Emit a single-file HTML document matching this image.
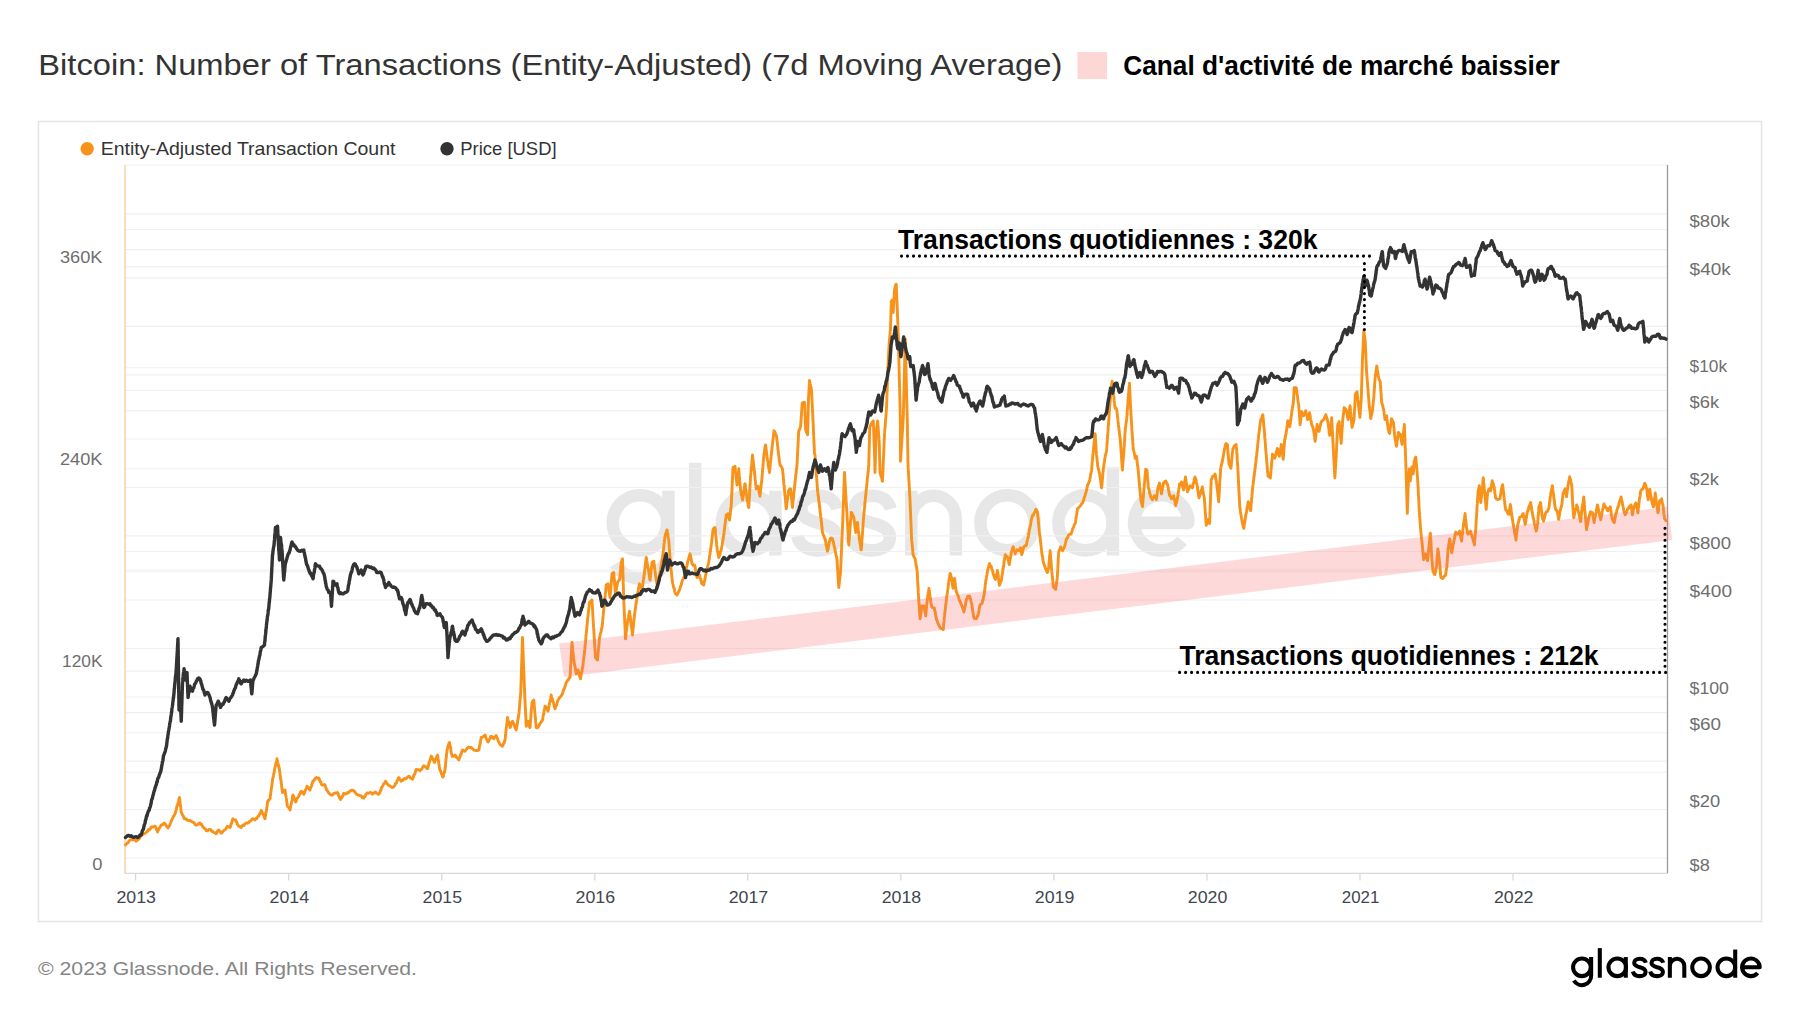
<!DOCTYPE html>
<html><head><meta charset="utf-8"><title>Bitcoin: Number of Transactions</title>
<style>
html,body{margin:0;padding:0;background:#fff;}
body{width:1800px;height:1013px;overflow:hidden;font-family:"Liberation Sans",sans-serif;}
svg{display:block;position:absolute;left:0;top:0;}
text{font-family:"Liberation Sans",sans-serif;}
</style></head><body>
<svg width="1800" height="1013" viewBox="0 0 1800 1013">
<rect width="1800" height="1013" fill="#fff"/>
<!-- title -->
<text x="38.3" y="75" font-size="30" fill="#333" textLength="1024" lengthAdjust="spacingAndGlyphs">Bitcoin: Number of Transactions (Entity-Adjusted) (7d Moving Average)</text>
<rect x="1077.5" y="52" width="29.6" height="27" fill="#fdd6d6"/>
<text x="1123.3" y="75.2" font-size="27.2" font-weight="bold" fill="#000" textLength="436.4" lengthAdjust="spacingAndGlyphs">Canal d'activité de marché baissier</text>
<!-- outer frame -->
<rect x="38.5" y="121.5" width="1723" height="800" fill="#fff" stroke="#e4e4e4" stroke-width="1.5"/>
<!-- legend -->
<circle cx="87.2" cy="148.8" r="6.7" fill="#f7931a"/>
<text x="100.7" y="155.4" font-size="18.4" fill="#333" textLength="294.8" lengthAdjust="spacingAndGlyphs">Entity-Adjusted Transaction Count</text>
<circle cx="447" cy="148.8" r="6.7" fill="#333"/>
<text x="460.3" y="155.4" font-size="18.4" fill="#333" textLength="96.3" lengthAdjust="spacingAndGlyphs">Price [USD]</text>
<!-- watermark -->
<g transform="translate(510.7 390.4) scale(0.4456 0.452)" stroke="#e7e7e7"><g fill="none" stroke-width="28" stroke-linecap="butt" stroke-linejoin="round">
<circle cx="290" cy="293" r="61"/><path d="M354 222 V350 A64 64 0 0 1 234.6 384"/>
<path d="M414 160 V365"/>
<circle cx="535" cy="293" r="61"/><path d="M594 222 V365"/>
<path d="M733 262 C728 243 712 233 690 233 C668 233 652 245 652 262 C652 280 668 287 690 293 C714 299 731 307 731 325 C731 343 714 354 690 354 C666 354 648 343 643 322"/>
<path transform="translate(120 0)" d="M733 262 C728 243 712 233 690 233 C668 233 652 245 652 262 C652 280 668 287 690 293 C714 299 731 307 731 325 C731 343 714 354 690 354 C666 354 648 343 643 322"/>
<path d="M899 365 V222 M899 285 A50 52 0 0 1 999 285 V365"/>
<circle cx="1115" cy="293" r="61"/>
<circle cx="1290" cy="293" r="61"/><path d="M1351.5 170 V365"/>
<path d="M1399 293 H1521 A61 61 0 1 0 1506.7 332.2"/>
</g></g>
<!-- grid -->
<g stroke="#f0f0f0" stroke-width="1.1">
<line x1="125" x2="1667.5" y1="165" y2="165"/>
<line x1="125" x2="1667.5" y1="213.9" y2="213.9"/>
<line x1="125" x2="1667.5" y1="229.5" y2="229.5"/>
<line x1="125" x2="1667.5" y1="249.6" y2="249.6"/>
<line x1="125" x2="1667.5" y1="266.6" y2="266.6"/>
<line x1="125" x2="1667.5" y1="277.9" y2="277.9"/>
<line x1="125" x2="1667.5" y1="326.4" y2="326.4"/>
<line x1="125" x2="1667.5" y1="367.7" y2="367.7"/>
<line x1="125" x2="1667.5" y1="374.9" y2="374.9"/>
<line x1="125" x2="1667.5" y1="390.5" y2="390.5"/>
<line x1="125" x2="1667.5" y1="410.6" y2="410.6"/>
<line x1="125" x2="1667.5" y1="439.0" y2="439.0"/>
<line x1="125" x2="1667.5" y1="468.8" y2="468.8"/>
<line x1="125" x2="1667.5" y1="487.5" y2="487.5"/>
<line x1="125" x2="1667.5" y1="535.9" y2="535.9"/>
<line x1="125" x2="1667.5" y1="551.5" y2="551.5"/>
<line x1="125" x2="1667.5" y1="570.0" y2="570.0"/>
<line x1="125" x2="1667.5" y1="571.7" y2="571.7"/>
<line x1="125" x2="1667.5" y1="600.0" y2="600.0"/>
<line x1="125" x2="1667.5" y1="648.5" y2="648.5"/>
<line x1="125" x2="1667.5" y1="671.1" y2="671.1"/>
<line x1="125" x2="1667.5" y1="697.0" y2="697.0"/>
<line x1="125" x2="1667.5" y1="712.6" y2="712.6"/>
<line x1="125" x2="1667.5" y1="732.7" y2="732.7"/>
<line x1="125" x2="1667.5" y1="761.1" y2="761.1"/>
<line x1="125" x2="1667.5" y1="772.2" y2="772.2"/>
<line x1="125" x2="1667.5" y1="809.5" y2="809.5"/>
<line x1="125" x2="1667.5" y1="858.0" y2="858.0"/>
</g>
<line x1="125" x2="1667.5" y1="873.3" y2="873.3" stroke="#d8d8d8" stroke-width="1.3"/>
<g stroke="#d8d8d8" stroke-width="1.2"><line x1="135.6" x2="135.6" y1="873.3" y2="880.5"/>
<line x1="288.6" x2="288.6" y1="873.3" y2="880.5"/>
<line x1="441.7" x2="441.7" y1="873.3" y2="880.5"/>
<line x1="594.8" x2="594.8" y1="873.3" y2="880.5"/>
<line x1="747.8" x2="747.8" y1="873.3" y2="880.5"/>
<line x1="900.9" x2="900.9" y1="873.3" y2="880.5"/>
<line x1="1053.9" x2="1053.9" y1="873.3" y2="880.5"/>
<line x1="1207.0" x2="1207.0" y1="873.3" y2="880.5"/>
<line x1="1360.0" x2="1360.0" y1="873.3" y2="880.5"/>
<line x1="1513.0" x2="1513.0" y1="873.3" y2="880.5"/></g>
<line x1="125" x2="125" y1="165" y2="873.3" stroke="#f9c892" stroke-width="1.25"/>
<line x1="1667.5" x2="1667.5" y1="165" y2="873.3" stroke="#9a9a9a" stroke-width="1.3"/>
<!-- axis labels -->
<g font-size="15.6" fill="#6e6e6e">
<text x="92.3" y="869.5" textLength="10.2" lengthAdjust="spacingAndGlyphs">0</text>
<text x="62.0" y="667.3" textLength="40.5" lengthAdjust="spacingAndGlyphs">120K</text>
<text x="60.0" y="465.0" textLength="42.5" lengthAdjust="spacingAndGlyphs">240K</text>
<text x="60.0" y="262.8" textLength="42.5" lengthAdjust="spacingAndGlyphs">360K</text>
<text x="1689.6" y="870.6" textLength="20.2" lengthAdjust="spacingAndGlyphs">$8</text>
<text x="1689.6" y="806.5" textLength="30.6" lengthAdjust="spacingAndGlyphs">$20</text>
<text x="1689.6" y="729.7" textLength="31.5" lengthAdjust="spacingAndGlyphs">$60</text>
<text x="1689.6" y="694.0" textLength="39.3" lengthAdjust="spacingAndGlyphs">$100</text>
<text x="1689.6" y="597.0" textLength="42.4" lengthAdjust="spacingAndGlyphs">$400</text>
<text x="1689.6" y="548.5" textLength="41.4" lengthAdjust="spacingAndGlyphs">$800</text>
<text x="1689.6" y="484.5" textLength="29.2" lengthAdjust="spacingAndGlyphs">$2k</text>
<text x="1689.6" y="407.6" textLength="29.6" lengthAdjust="spacingAndGlyphs">$6k</text>
<text x="1689.6" y="371.9" textLength="37.5" lengthAdjust="spacingAndGlyphs">$10k</text>
<text x="1689.6" y="274.9" textLength="41.1" lengthAdjust="spacingAndGlyphs">$40k</text>
<text x="1689.6" y="226.5" textLength="40.1" lengthAdjust="spacingAndGlyphs">$80k</text>
</g>
<g font-size="16" fill="#3f4650">
<text x="116.4" y="902.6" textLength="39.5" lengthAdjust="spacingAndGlyphs">2013</text>
<text x="269.5" y="902.6" textLength="39.5" lengthAdjust="spacingAndGlyphs">2014</text>
<text x="422.6" y="902.6" textLength="39.5" lengthAdjust="spacingAndGlyphs">2015</text>
<text x="575.6" y="902.6" textLength="39.5" lengthAdjust="spacingAndGlyphs">2016</text>
<text x="728.7" y="902.6" textLength="39.5" lengthAdjust="spacingAndGlyphs">2017</text>
<text x="881.7" y="902.6" textLength="39.5" lengthAdjust="spacingAndGlyphs">2018</text>
<text x="1034.8" y="902.6" textLength="39.5" lengthAdjust="spacingAndGlyphs">2019</text>
<text x="1187.8" y="902.6" textLength="39.5" lengthAdjust="spacingAndGlyphs">2020</text>
<text x="1341.8" y="902.6" textLength="37.5" lengthAdjust="spacingAndGlyphs">2021</text>
<text x="1493.9" y="902.6" textLength="39.5" lengthAdjust="spacingAndGlyphs">2022</text>
</g>
<!-- series -->
<path d="M125.5 845.0 L126.4 843.9 L127.3 843.1 L128.2 842.7 L129.1 840.9 L130.0 840.0 L131.2 839.8 L132.5 839.8 L133.8 839.5 L135.0 839.9 L136.2 841.2 L137.2 840.3 L138.1 839.6 L139.1 838.9 L140.0 837.5 L140.9 835.9 L141.9 835.3 L142.8 834.0 L143.8 833.8 L145.0 833.4 L146.2 832.4 L147.5 831.2 L148.4 829.5 L149.4 829.9 L150.3 828.8 L151.2 827.0 L152.5 827.0 L153.8 826.7 L155.0 826.2 L155.5 826.9 L156.0 827.8 L156.5 829.7 L157.0 830.1 L157.5 832.0 L158.1 830.3 L158.8 829.3 L159.4 827.7 L160.0 827.3 L160.6 826.1 L161.2 825.0 L162.3 824.9 L163.4 823.7 L164.5 823.0 L165.2 824.2 L165.9 825.0 L166.6 826.3 L167.3 826.9 L168.0 828.0 L168.5 826.5 L169.1 826.5 L169.6 825.4 L170.2 824.0 L170.7 822.7 L171.2 821.2 L171.8 819.9 L172.3 818.7 L172.9 817.7 L173.4 816.3 L173.9 816.3 L174.5 814.7 L175.0 813.8 L175.4 813.1 L175.7 811.1 L176.1 810.7 L176.4 809.3 L176.8 806.7 L177.1 805.8 L177.5 805.0 L177.8 804.4 L178.2 802.5 L178.5 802.0 L178.8 799.8 L179.2 798.1 L179.5 797.5 L179.6 798.9 L179.8 800.2 L179.9 800.6 L180.0 801.5 L180.2 803.0 L180.3 805.1 L180.4 806.0 L180.6 806.1 L180.7 807.5 L180.8 808.4 L181.0 809.5 L181.1 811.8 L181.2 812.5 L181.8 813.0 L182.3 814.7 L182.9 815.5 L183.4 816.2 L184.0 818.1 L184.5 818.8 L185.9 818.7 L187.3 820.1 L188.8 820.5 L190.0 820.4 L191.2 821.4 L192.5 822.0 L193.4 822.3 L194.4 823.1 L195.3 825.0 L196.2 825.0 L197.5 824.8 L198.8 823.4 L200.0 823.0 L200.8 824.5 L201.5 824.3 L202.2 825.5 L203.0 827.2 L203.8 827.5 L204.6 828.7 L205.4 828.9 L206.2 830.5 L207.5 830.9 L208.8 829.4 L210.0 829.5 L210.9 829.9 L211.9 831.4 L212.8 831.5 L213.8 832.5 L215.0 832.8 L216.2 833.8 L217.1 831.8 L217.9 830.6 L218.8 830.0 L219.6 831.2 L220.4 831.8 L221.2 833.2 L222.2 832.5 L223.1 831.2 L224.1 830.4 L225.0 829.5 L225.8 829.2 L226.7 827.3 L227.5 826.2 L228.8 827.0 L230.0 827.5 L230.4 827.0 L230.8 824.8 L231.1 823.7 L231.5 823.8 L231.9 822.5 L232.2 820.5 L232.6 819.3 L233.0 818.8 L234.2 819.8 L235.5 820.0 L236.0 821.7 L236.6 821.6 L237.1 823.8 L237.7 824.8 L238.2 825.4 L238.8 826.2 L240.0 826.7 L241.2 827.5 L242.2 825.9 L243.1 824.9 L244.1 825.4 L245.0 823.8 L246.2 822.9 L247.5 823.2 L248.8 822.5 L249.7 821.2 L250.6 821.1 L251.6 819.8 L252.5 818.8 L253.8 819.0 L255.0 820.0 L255.9 818.5 L256.9 818.5 L257.8 816.5 L258.8 816.2 L259.2 814.7 L259.8 814.0 L260.2 813.4 L260.8 811.8 L261.2 810.5 L261.8 811.3 L262.3 813.5 L262.9 813.6 L263.4 814.4 L263.9 816.0 L264.5 817.5 L265.0 818.8 L265.2 816.9 L265.4 816.0 L265.6 815.1 L265.8 814.3 L265.9 812.5 L266.1 811.7 L266.3 811.4 L266.5 810.4 L266.7 808.7 L266.9 807.6 L267.1 806.3 L267.2 804.5 L267.4 803.2 L267.6 802.0 L267.8 802.3 L268.0 800.5 L269.0 799.9 L270.0 798.8 L270.2 798.3 L270.3 795.6 L270.5 795.5 L270.6 794.0 L270.8 793.3 L270.9 791.4 L271.1 791.3 L271.2 788.7 L271.4 788.3 L271.6 787.4 L271.7 786.5 L271.9 785.1 L272.0 783.8 L272.2 782.8 L272.3 781.8 L272.5 780.0 L272.7 778.6 L273.0 778.0 L273.2 777.2 L273.4 776.0 L273.6 774.2 L273.9 773.6 L274.1 772.6 L274.3 771.0 L274.5 770.0 L274.8 768.4 L275.0 767.5 L275.3 766.4 L275.6 765.2 L275.9 763.1 L276.1 762.7 L276.4 762.0 L276.7 760.6 L277.0 758.8 L277.2 760.2 L277.5 760.8 L277.8 762.5 L278.0 763.4 L278.2 764.3 L278.5 766.0 L278.8 766.0 L279.0 768.2 L279.2 768.1 L279.5 770.0 L279.7 771.3 L279.8 772.3 L280.0 773.1 L280.1 775.1 L280.3 775.9 L280.4 777.3 L280.6 779.0 L280.8 779.1 L280.9 779.9 L281.1 781.5 L281.2 783.3 L281.4 783.7 L281.6 784.9 L281.7 787.2 L281.9 788.0 L282.0 788.9 L282.2 790.8 L282.3 791.0 L282.5 792.5 L283.3 791.9 L284.2 790.4 L285.0 790.0 L285.2 791.1 L285.4 792.8 L285.5 794.1 L285.7 795.3 L285.9 795.6 L286.1 797.1 L286.2 797.8 L286.4 798.7 L286.6 800.4 L286.8 802.1 L287.0 803.3 L287.1 804.3 L287.3 805.8 L287.5 806.2 L288.3 807.1 L289.2 808.2 L290.0 810.0 L290.2 808.8 L290.5 807.3 L290.7 806.1 L290.9 805.2 L291.2 804.4 L291.4 803.1 L291.6 801.6 L291.8 801.3 L292.1 800.4 L292.3 798.4 L292.5 796.6 L292.8 795.4 L293.0 795.0 L293.4 796.8 L293.8 796.6 L294.2 798.8 L294.7 799.8 L295.1 800.5 L295.5 802.0 L296.1 801.3 L296.8 798.9 L297.4 798.0 L298.1 797.3 L298.8 796.2 L299.4 794.2 L300.0 794.3 L300.6 792.1 L301.2 791.2 L302.1 791.7 L302.9 792.5 L303.8 794.2 L304.2 793.3 L304.7 791.9 L305.1 791.0 L305.6 789.9 L306.1 789.0 L306.5 788.1 L307.0 786.2 L307.8 787.5 L308.5 787.6 L309.2 789.0 L310.0 790.0 L310.4 788.4 L310.8 787.0 L311.1 786.7 L311.5 786.0 L311.9 784.0 L312.2 783.1 L312.6 782.1 L313.0 781.2 L313.8 780.6 L314.6 779.4 L315.4 778.6 L316.2 777.5 L317.5 778.2 L318.8 778.0 L319.3 779.0 L319.8 780.8 L320.4 782.1 L320.9 782.0 L321.5 784.5 L322.0 785.0 L323.2 785.1 L324.5 784.5 L325.0 785.0 L325.5 786.7 L326.0 788.1 L326.5 789.7 L327.0 789.9 L327.5 791.2 L328.4 792.3 L329.4 793.7 L330.3 794.5 L331.2 795.0 L332.5 795.0 L333.8 793.6 L335.0 793.0 L336.2 793.0 L337.5 792.5 L338.0 793.2 L338.5 795.2 L339.0 796.5 L339.5 797.4 L340.0 798.7 L340.5 799.5 L341.0 798.0 L341.6 798.1 L342.1 797.1 L342.7 796.1 L343.2 794.4 L343.8 793.2 L345.0 794.0 L346.2 793.8 L347.2 792.7 L348.1 792.9 L349.1 792.1 L350.0 790.8 L351.2 790.5 L352.5 790.1 L353.8 790.8 L354.6 791.6 L355.4 792.7 L356.2 794.0 L357.0 794.5 L358.5 795.1 L360.0 795.8 L361.2 795.8 L362.5 797.9 L363.8 798.2 L364.4 796.5 L365.1 796.6 L365.7 794.6 L366.4 793.8 L367.0 793.0 L368.5 793.2 L370.0 792.5 L371.2 792.8 L372.5 794.2 L373.5 792.9 L374.5 792.8 L375.5 792.0 L376.6 793.1 L377.7 794.0 L378.8 794.2 L379.3 793.4 L379.8 792.7 L380.4 790.8 L380.9 790.4 L381.4 787.9 L382.0 786.9 L382.5 786.2 L383.1 785.3 L383.7 783.9 L384.3 783.6 L384.9 782.5 L385.5 781.2 L386.3 782.3 L387.1 783.9 L387.9 784.5 L388.8 785.5 L389.8 785.9 L390.9 786.6 L392.0 787.5 L393.0 787.2 L394.0 786.5 L395.0 785.0 L395.5 783.5 L396.1 783.4 L396.6 782.5 L397.1 780.8 L397.7 779.8 L398.2 778.1 L398.8 777.5 L399.6 778.8 L400.4 780.0 L401.2 781.2 L402.5 780.6 L403.8 778.8 L405.0 778.8 L406.2 778.7 L407.5 777.1 L408.8 776.2 L409.7 776.8 L410.6 778.2 L411.6 778.6 L412.5 779.2 L412.9 778.2 L413.3 777.4 L413.8 775.3 L414.2 775.0 L414.6 773.7 L415.0 773.5 L415.4 772.3 L415.8 770.2 L416.2 769.5 L417.5 769.9 L418.8 769.7 L420.0 770.8 L420.8 769.6 L421.5 769.3 L422.2 768.4 L423.0 766.7 L423.8 765.8 L424.7 766.2 L425.6 766.8 L426.6 768.2 L427.5 768.8 L427.8 768.3 L428.2 765.9 L428.5 765.8 L428.9 763.4 L429.2 762.6 L429.5 761.5 L429.9 761.1 L430.2 759.4 L430.6 758.3 L430.9 757.6 L431.2 756.2 L431.8 756.7 L432.3 758.7 L432.9 758.8 L433.4 760.4 L434.0 761.1 L434.5 762.5 L434.9 760.9 L435.4 760.4 L435.8 759.2 L436.2 758.0 L436.6 757.0 L437.1 756.1 L437.5 755.0 L437.7 755.6 L437.9 756.8 L438.1 758.7 L438.3 759.8 L438.5 760.8 L438.7 762.5 L438.8 763.3 L439.0 764.8 L439.2 765.0 L439.4 766.9 L439.6 768.2 L439.8 769.5 L440.0 770.0 L440.5 770.9 L441.0 772.0 L441.5 774.2 L442.0 774.2 L442.5 776.6 L443.0 777.0 L443.3 776.5 L443.7 774.1 L444.0 773.1 L444.3 772.7 L444.7 770.8 L445.0 770.0 L445.1 768.2 L445.2 768.1 L445.4 766.4 L445.5 765.7 L445.6 763.6 L445.7 762.8 L445.8 762.0 L445.9 759.9 L446.1 759.0 L446.2 758.5 L446.3 757.6 L446.4 756.6 L446.5 754.2 L446.6 753.5 L446.8 752.7 L446.9 751.2 L447.0 750.0 L447.4 749.0 L447.8 747.0 L448.2 745.6 L448.7 744.4 L449.1 743.0 L449.5 742.5 L449.7 743.7 L449.9 744.8 L450.1 746.0 L450.3 746.5 L450.5 747.7 L450.8 748.9 L451.0 751.1 L451.2 752.5 L451.4 753.5 L451.6 753.3 L451.8 754.4 L452.0 756.2 L453.5 756.3 L455.0 755.0 L455.8 755.9 L456.5 757.4 L457.2 757.7 L458.0 758.9 L458.8 760.0 L459.2 758.9 L459.6 757.7 L460.0 756.8 L460.4 754.8 L460.8 754.8 L461.2 753.9 L461.7 751.7 L462.1 751.0 L462.5 750.0 L463.8 751.0 L465.0 751.2 L465.9 750.0 L466.9 748.6 L467.8 747.5 L468.8 747.0 L470.0 747.6 L471.2 747.4 L472.5 748.8 L473.8 750.0 L475.0 750.4 L476.2 750.5 L477.5 750.6 L478.8 750.0 L479.0 749.4 L479.2 747.9 L479.4 746.4 L479.7 745.6 L479.9 744.3 L480.1 744.0 L480.3 742.5 L480.6 740.5 L480.8 740.4 L481.0 739.0 L481.2 737.5 L482.5 737.1 L483.8 736.3 L485.0 735.0 L485.5 736.0 L486.0 738.0 L486.5 739.1 L487.0 740.0 L487.5 741.3 L488.0 742.0 L488.6 741.3 L489.3 739.5 L489.9 738.9 L490.6 736.7 L491.2 736.2 L492.1 736.8 L492.9 737.9 L493.8 738.8 L494.6 736.9 L495.4 736.4 L496.2 735.5 L496.7 736.9 L497.2 738.1 L497.6 738.6 L498.1 740.9 L498.6 741.7 L499.0 742.3 L499.5 743.8 L500.5 744.8 L501.5 745.5 L502.5 746.2 L503.0 745.1 L503.5 743.6 L504.0 743.3 L504.5 741.5 L505.0 740.0 L505.1 739.1 L505.3 738.0 L505.4 737.2 L505.5 734.5 L505.7 734.3 L505.8 733.3 L505.9 731.3 L506.1 730.4 L506.2 728.7 L506.3 727.7 L506.4 726.8 L506.6 725.2 L506.7 724.2 L506.8 724.0 L507.0 722.3 L507.1 721.1 L507.2 720.6 L507.4 718.8 L507.5 717.5 L507.8 719.5 L508.1 720.2 L508.4 721.7 L508.8 721.8 L509.1 723.9 L509.4 725.4 L509.7 725.5 L510.0 727.5 L510.5 726.9 L511.0 724.5 L511.5 723.7 L512.0 722.0 L512.5 721.2 L513.0 722.3 L513.4 723.6 L513.9 723.8 L514.4 726.3 L514.8 726.6 L515.3 727.9 L515.8 729.1 L516.2 730.0 L516.4 728.6 L516.6 727.3 L516.8 726.8 L517.0 725.5 L517.2 723.9 L517.4 723.4 L517.6 721.6 L517.8 720.0 L518.0 719.2 L518.2 717.7 L518.4 716.8 L518.6 716.6 L518.8 715.0 L518.9 713.7 L519.0 713.2 L519.1 711.8 L519.2 709.7 L519.3 709.7 L519.4 708.5 L519.5 706.1 L519.6 706.1 L519.7 704.2 L519.8 703.1 L519.9 702.6 L520.0 700.4 L520.1 699.6 L520.2 699.0 L520.3 697.5 L520.4 696.0 L520.5 695.5 L520.6 694.1 L520.8 692.5 L520.8 691.4 L520.8 689.8 L520.9 689.1 L520.9 687.8 L520.9 686.4 L521.0 685.1 L521.0 684.3 L521.0 682.8 L521.1 681.9 L521.1 680.9 L521.2 679.6 L521.2 678.3 L521.2 677.4 L521.3 676.0 L521.3 675.2 L521.3 673.8 L521.4 673.0 L521.4 671.8 L521.5 670.5 L521.5 668.9 L521.5 667.6 L521.6 667.1 L521.6 665.8 L521.6 664.5 L521.7 663.1 L521.7 661.9 L521.8 661.1 L521.8 659.8 L521.8 658.6 L521.9 657.5 L521.9 656.4 L521.9 654.8 L522.0 653.7 L522.0 653.1 L522.1 651.9 L522.1 650.7 L522.1 648.8 L522.2 647.7 L522.2 646.7 L522.2 645.6 L522.3 644.6 L522.3 643.0 L522.4 642.2 L522.4 640.6 L522.4 639.5 L522.5 638.8 L522.5 637.5 L522.5 638.7 L522.6 640.0 L522.6 640.9 L522.7 642.1 L522.7 643.1 L522.8 644.4 L522.8 645.9 L522.9 647.1 L522.9 647.6 L522.9 648.8 L523.0 650.6 L523.0 651.6 L523.1 652.9 L523.1 653.6 L523.2 654.9 L523.2 655.9 L523.3 657.6 L523.3 658.4 L523.3 659.8 L523.4 661.3 L523.4 661.8 L523.5 663.2 L523.5 664.6 L523.6 665.9 L523.6 666.6 L523.7 667.7 L523.7 668.6 L523.7 670.5 L523.8 670.9 L523.8 672.1 L523.9 673.7 L523.9 674.8 L524.0 676.2 L524.0 677.0 L524.1 678.6 L524.1 679.1 L524.1 680.4 L524.2 682.0 L524.2 682.6 L524.3 684.0 L524.3 685.5 L524.4 686.7 L524.4 687.5 L524.5 688.5 L524.5 690.0 L524.6 691.0 L524.6 692.6 L524.7 693.4 L524.7 694.3 L524.8 696.1 L524.8 697.1 L524.9 698.6 L525.0 699.8 L525.0 700.9 L525.1 701.6 L525.1 703.2 L525.2 703.8 L525.2 705.0 L525.3 706.3 L525.3 708.0 L525.4 709.1 L525.5 709.6 L525.5 710.9 L525.6 712.1 L525.6 713.3 L525.7 714.5 L525.7 715.6 L525.8 716.6 L525.9 718.1 L525.9 719.5 L526.0 720.4 L526.0 721.9 L526.1 722.8 L526.1 723.6 L526.2 725.3 L526.2 726.2 L526.7 725.6 L527.1 723.4 L527.6 721.7 L528.0 721.2 L528.4 722.5 L528.8 723.8 L529.2 725.1 L529.6 727.0 L530.0 727.5 L530.1 726.5 L530.2 725.5 L530.3 723.4 L530.4 722.8 L530.5 721.9 L530.6 719.8 L530.7 718.6 L530.8 718.3 L530.9 717.3 L531.0 715.1 L531.0 714.6 L531.1 712.8 L531.2 712.3 L531.3 711.0 L531.4 709.3 L531.5 708.1 L531.6 707.6 L531.7 706.1 L531.8 705.2 L531.9 703.6 L532.0 702.5 L532.9 701.0 L533.8 700.0 L533.9 701.8 L534.0 702.5 L534.1 703.4 L534.2 704.6 L534.3 706.0 L534.4 707.2 L534.5 708.6 L534.6 709.0 L534.7 710.8 L534.8 711.7 L534.9 713.1 L535.0 714.2 L535.1 715.3 L535.2 716.6 L535.3 717.8 L535.4 718.5 L535.5 719.5 L535.6 720.9 L535.7 722.2 L535.8 722.8 L535.9 724.0 L536.0 724.7 L536.1 726.7 L536.2 727.5 L537.5 727.7 L538.8 726.2 L539.4 725.0 L540.0 723.6 L540.6 722.7 L541.2 722.0 L541.9 720.7 L542.5 720.0 L542.7 719.6 L542.9 717.0 L543.1 716.3 L543.3 714.8 L543.5 714.5 L543.8 713.6 L544.0 711.5 L544.2 710.1 L544.4 709.6 L544.6 708.7 L544.8 708.1 L545.0 706.2 L545.6 706.5 L546.2 707.6 L546.8 708.7 L547.4 709.8 L548.0 711.2 L548.2 709.7 L548.5 709.3 L548.7 707.9 L548.9 706.2 L549.2 704.9 L549.4 703.9 L549.6 702.6 L549.9 702.4 L550.1 700.5 L550.3 699.7 L550.6 699.0 L550.8 697.3 L551.0 695.8 L551.2 695.0 L551.6 696.8 L551.9 698.0 L552.2 698.2 L552.5 699.7 L552.8 701.5 L553.1 701.8 L553.4 702.6 L553.8 703.4 L554.1 706.0 L554.4 706.9 L554.7 707.4 L555.0 708.8 L555.4 707.7 L555.8 706.6 L556.2 705.1 L556.7 705.1 L557.1 703.4 L557.5 701.7 L557.9 700.2 L558.3 699.8 L558.8 698.8 L559.5 697.5 L560.2 697.2 L561.0 696.1 L561.8 694.9 L562.5 693.8 L562.9 692.1 L563.2 691.0 L563.6 690.1 L564.0 688.9 L564.4 688.7 L564.8 687.0 L565.1 686.1 L565.5 685.5 L565.9 683.3 L566.2 682.5 L567.0 681.6 L567.8 679.9 L568.5 679.9 L569.2 677.7 L570.0 677.5 L570.1 676.7 L570.1 675.5 L570.2 674.3 L570.3 672.4 L570.3 671.4 L570.4 670.7 L570.5 668.9 L570.5 668.1 L570.6 667.0 L570.7 666.3 L570.7 664.8 L570.8 663.9 L570.9 662.1 L570.9 661.5 L571.0 659.9 L571.1 659.3 L571.1 657.2 L571.2 656.9 L571.3 655.0 L571.3 654.2 L571.4 653.0 L571.5 651.5 L571.5 651.0 L571.6 649.3 L571.7 648.1 L571.7 646.7 L571.8 645.8 L571.9 644.8 L571.9 643.9 L572.0 642.5 L572.1 643.5 L572.2 645.1 L572.4 645.4 L572.5 647.0 L572.6 648.3 L572.7 650.2 L572.8 651.1 L572.9 652.1 L573.0 652.3 L573.2 654.0 L573.3 655.6 L573.4 656.1 L573.5 657.8 L573.6 658.8 L573.8 660.0 L574.0 660.4 L574.2 663.1 L574.4 663.9 L574.6 664.1 L574.8 665.9 L575.0 666.5 L575.2 667.8 L575.4 669.2 L575.6 670.0 L575.8 671.2 L576.0 672.4 L576.2 673.8 L576.8 672.8 L577.4 670.9 L578.0 670.0 L578.4 670.8 L578.7 672.9 L579.1 673.5 L579.4 675.7 L579.8 676.4 L580.1 677.9 L580.5 678.8 L580.7 677.3 L580.9 677.0 L581.1 674.7 L581.3 673.6 L581.5 672.4 L581.8 672.2 L582.0 671.1 L582.2 669.1 L582.4 668.3 L582.6 667.8 L582.8 666.3 L583.0 665.0 L583.1 663.2 L583.3 662.2 L583.4 661.0 L583.5 659.8 L583.7 659.0 L583.8 657.3 L583.9 657.5 L584.1 655.6 L584.2 654.5 L584.3 653.6 L584.5 652.6 L584.6 651.5 L584.7 649.7 L584.9 648.4 L585.0 647.5 L585.1 646.2 L585.2 644.5 L585.3 643.9 L585.4 643.2 L585.5 642.4 L585.6 641.0 L585.7 639.7 L585.8 638.5 L585.9 636.5 L586.0 635.8 L586.1 634.7 L586.2 634.0 L586.4 632.1 L586.5 631.3 L586.6 630.3 L586.7 629.6 L586.8 628.5 L586.9 627.0 L587.0 625.3 L587.1 624.9 L587.2 624.0 L587.3 622.4 L587.4 620.9 L587.5 620.0 L587.6 618.8 L587.8 617.1 L587.9 616.8 L588.0 616.1 L588.2 614.2 L588.3 613.3 L588.4 612.4 L588.6 610.2 L588.7 610.2 L588.8 608.5 L589.0 606.7 L589.1 605.4 L589.2 604.4 L589.4 603.8 L589.5 602.5 L590.3 602.0 L591.2 600.6 L592.0 600.0 L592.1 601.6 L592.1 602.2 L592.2 603.4 L592.3 604.2 L592.3 606.3 L592.4 606.5 L592.5 608.5 L592.5 609.3 L592.6 610.5 L592.7 611.6 L592.7 612.4 L592.8 614.3 L592.9 615.5 L592.9 616.5 L593.0 617.4 L593.1 618.1 L593.1 620.0 L593.2 620.5 L593.3 622.4 L593.3 622.8 L593.4 624.3 L593.5 625.7 L593.5 626.2 L593.6 627.7 L593.7 628.4 L593.8 630.0 L593.8 630.7 L593.9 632.0 L594.0 634.1 L594.1 635.3 L594.1 636.2 L594.2 637.0 L594.3 638.6 L594.4 639.8 L594.4 640.6 L594.5 642.1 L594.6 643.5 L594.7 643.8 L594.7 645.2 L594.8 646.7 L594.9 647.5 L595.0 649.0 L595.0 650.4 L595.1 651.2 L595.2 652.7 L595.3 653.6 L595.3 655.2 L595.4 656.1 L595.5 657.5 L596.5 659.0 L597.5 660.0 L597.6 658.2 L597.7 657.9 L597.8 656.0 L597.9 655.9 L598.0 654.2 L598.1 652.9 L598.2 651.6 L598.3 650.7 L598.4 649.6 L598.6 648.5 L598.7 647.3 L598.8 645.8 L598.9 645.3 L599.0 643.9 L599.1 642.7 L599.2 640.9 L599.3 639.8 L599.4 638.8 L599.5 637.5 L599.8 636.9 L600.1 635.0 L600.4 633.8 L600.8 632.4 L601.1 631.9 L601.4 629.7 L601.7 628.0 L602.0 627.5 L602.1 626.6 L602.2 625.7 L602.4 624.3 L602.5 622.9 L602.6 621.9 L602.7 620.1 L602.8 619.3 L603.0 617.4 L603.1 616.2 L603.2 615.5 L603.3 614.4 L603.4 613.1 L603.5 611.4 L603.7 611.1 L603.8 609.7 L603.9 608.1 L604.0 607.0 L604.1 605.9 L604.3 604.5 L604.4 603.1 L604.5 602.5 L604.6 601.9 L604.7 600.8 L604.9 599.2 L605.0 598.4 L605.1 596.6 L605.2 595.9 L605.3 593.9 L605.4 593.5 L605.5 592.1 L605.7 591.4 L605.8 589.1 L605.9 588.9 L606.0 586.8 L606.1 586.2 L606.2 585.0 L608.0 583.8 L608.2 585.6 L608.3 585.2 L608.5 586.8 L608.7 588.0 L608.8 589.2 L609.0 589.9 L609.2 592.4 L609.3 593.4 L609.5 593.9 L609.7 595.0 L609.8 596.5 L610.0 597.5 L610.1 595.7 L610.2 594.5 L610.3 594.5 L610.4 592.5 L610.5 591.6 L610.6 590.9 L610.7 589.8 L610.8 588.0 L610.9 586.4 L611.0 585.4 L611.1 585.0 L611.2 583.8 L611.3 581.7 L611.4 581.3 L611.5 579.5 L611.6 578.5 L611.7 576.9 L611.8 576.6 L611.9 575.6 L612.0 573.8 L613.8 572.5 L613.8 573.3 L613.9 575.0 L614.0 575.7 L614.1 577.7 L614.2 577.9 L614.3 579.1 L614.4 581.1 L614.5 581.7 L614.6 583.7 L614.7 584.8 L614.8 585.8 L614.9 586.3 L614.9 588.1 L615.0 589.6 L615.1 590.2 L615.2 590.9 L615.3 592.3 L615.4 593.6 L615.5 595.0 L615.7 594.2 L615.9 592.2 L616.0 591.1 L616.2 590.0 L616.4 589.6 L616.6 588.6 L616.8 586.8 L617.0 586.2 L617.1 585.4 L617.3 583.8 L617.5 582.5 L618.5 580.8 L619.5 580.0 L619.6 578.5 L619.7 578.3 L619.9 576.7 L620.0 575.0 L620.1 574.4 L620.2 572.4 L620.3 572.5 L620.4 570.6 L620.5 569.5 L620.7 568.4 L620.8 566.5 L620.9 566.1 L621.0 564.5 L621.1 563.3 L621.2 562.5 L621.7 561.7 L622.1 559.3 L622.5 558.8 L622.5 559.7 L622.6 561.3 L622.6 562.1 L622.6 563.3 L622.7 564.7 L622.7 565.6 L622.8 567.3 L622.8 568.6 L622.8 569.0 L622.9 570.5 L622.9 571.9 L622.9 572.8 L623.0 574.4 L623.0 575.2 L623.0 576.2 L623.1 577.7 L623.1 578.9 L623.1 579.8 L623.2 581.3 L623.2 582.6 L623.2 583.5 L623.3 584.7 L623.3 586.1 L623.4 587.2 L623.4 588.2 L623.4 589.8 L623.5 590.3 L623.5 592.0 L623.5 592.6 L623.6 594.2 L623.6 595.1 L623.6 596.4 L623.7 597.9 L623.7 599.1 L623.8 600.0 L623.8 601.5 L623.9 602.1 L623.9 603.5 L624.0 604.4 L624.0 605.9 L624.1 607.0 L624.1 607.8 L624.2 609.5 L624.2 610.8 L624.3 611.8 L624.3 613.3 L624.4 613.8 L624.4 614.9 L624.5 616.0 L624.5 617.6 L624.6 618.7 L624.7 619.9 L624.7 620.9 L624.8 622.6 L624.8 623.1 L624.9 625.1 L624.9 625.9 L625.0 627.0 L625.0 628.5 L625.1 629.1 L625.1 630.2 L625.2 631.5 L625.2 632.4 L625.3 633.9 L625.3 635.3 L625.4 636.4 L625.4 637.3 L625.5 638.8 L625.6 637.7 L625.8 635.8 L625.9 635.8 L626.1 633.6 L626.2 632.6 L626.4 631.2 L626.5 630.9 L626.6 630.0 L626.8 628.8 L626.9 626.4 L627.1 625.8 L627.2 624.6 L627.4 623.2 L627.5 622.5 L627.7 622.0 L627.9 619.3 L628.2 618.7 L628.4 617.9 L628.6 617.0 L628.8 614.4 L629.1 613.7 L629.3 612.9 L629.5 611.2 L629.6 611.7 L629.8 613.1 L629.9 615.3 L630.1 615.3 L630.2 616.8 L630.4 617.8 L630.5 619.1 L630.7 619.7 L630.8 620.8 L631.0 623.5 L631.1 624.3 L631.2 625.0 L631.4 626.6 L631.6 627.1 L631.7 628.4 L631.9 630.1 L632.0 630.8 L632.2 632.4 L632.3 634.4 L632.5 635.0 L632.6 633.6 L632.7 632.4 L632.9 632.2 L633.0 630.5 L633.1 628.5 L633.2 627.8 L633.3 627.0 L633.4 625.0 L633.6 624.2 L633.7 623.5 L633.8 622.6 L633.9 621.0 L634.0 620.3 L634.1 618.5 L634.3 617.2 L634.4 616.7 L634.5 615.0 L634.7 613.6 L634.8 613.1 L635.0 611.0 L635.2 610.1 L635.3 608.7 L635.5 608.1 L635.7 606.3 L635.8 605.2 L636.0 604.0 L636.2 603.3 L636.3 601.9 L636.5 600.9 L636.7 600.6 L636.8 599.0 L637.0 597.5 L637.2 596.9 L637.4 594.7 L637.6 593.9 L637.8 592.2 L638.0 592.1 L638.2 590.4 L638.5 589.1 L638.7 587.6 L638.9 586.7 L639.1 585.7 L639.3 584.7 L639.5 583.8 L640.0 585.7 L640.5 586.6 L641.0 587.1 L641.5 588.5 L642.0 590.0 L642.2 588.3 L642.3 588.4 L642.5 586.3 L642.7 585.8 L642.8 584.5 L643.0 583.7 L643.2 581.1 L643.3 580.4 L643.5 579.3 L643.7 577.7 L643.8 577.8 L644.0 575.7 L644.2 575.3 L644.3 573.7 L644.5 572.5 L644.6 570.7 L644.8 570.0 L644.9 568.6 L645.0 567.2 L645.2 566.2 L645.3 565.7 L645.4 563.7 L645.6 563.0 L645.7 562.0 L645.8 561.0 L646.0 559.2 L646.1 559.0 L646.2 557.5 L646.5 558.4 L646.7 560.4 L646.9 561.5 L647.1 561.9 L647.3 563.3 L647.6 564.6 L647.8 566.6 L648.0 567.5 L648.2 568.5 L648.4 569.6 L648.5 571.5 L648.7 571.6 L648.9 572.8 L649.1 574.1 L649.3 575.0 L649.5 575.9 L649.6 577.0 L649.8 579.1 L650.0 580.0 L650.1 578.9 L650.3 578.1 L650.4 577.2 L650.5 575.0 L650.7 574.4 L650.8 573.6 L650.9 571.4 L651.1 571.0 L651.2 569.8 L651.3 569.0 L651.5 567.7 L651.6 565.6 L651.7 565.0 L651.9 563.0 L652.0 562.5 L653.8 561.2 L653.9 562.3 L654.0 563.4 L654.2 564.0 L654.3 565.6 L654.5 566.7 L654.6 568.1 L654.8 568.9 L654.9 569.9 L655.1 571.4 L655.2 572.7 L655.4 573.3 L655.5 575.0 L655.7 576.4 L655.9 576.9 L656.0 577.8 L656.2 579.3 L656.4 580.6 L656.6 581.3 L656.8 583.1 L657.0 584.4 L657.1 585.3 L657.3 586.7 L657.5 587.5 L657.7 585.6 L657.9 585.0 L658.1 583.8 L658.3 582.2 L658.5 581.6 L658.7 579.9 L658.8 579.4 L659.0 578.4 L659.2 577.1 L659.4 575.7 L659.6 574.4 L659.8 572.9 L660.0 572.5 L660.2 571.1 L660.4 570.8 L660.6 569.1 L660.8 567.5 L661.0 567.0 L661.2 565.1 L661.3 564.4 L661.5 563.5 L661.7 562.8 L661.9 560.7 L662.1 559.9 L662.3 559.4 L662.5 557.5 L662.6 556.7 L662.8 555.3 L662.9 554.1 L663.1 552.6 L663.2 551.5 L663.3 550.1 L663.5 549.8 L663.6 548.7 L663.8 546.7 L663.9 546.3 L664.0 543.8 L664.2 542.8 L664.3 542.2 L664.4 540.7 L664.6 539.6 L664.7 539.4 L664.9 536.9 L665.0 536.2 L665.4 534.5 L665.8 533.3 L666.2 532.8 L666.6 530.8 L667.0 530.0 L667.2 530.5 L667.4 532.6 L667.7 533.6 L667.9 534.6 L668.1 536.2 L668.3 537.7 L668.5 538.8 L668.8 540.0 L668.8 541.3 L668.9 542.5 L669.0 544.0 L669.1 545.3 L669.2 545.8 L669.2 547.0 L669.3 548.8 L669.4 549.3 L669.5 551.0 L669.6 552.1 L669.7 553.3 L669.8 554.8 L669.8 555.9 L669.9 556.3 L670.0 558.0 L670.1 559.0 L670.2 560.3 L670.2 561.3 L670.3 562.4 L670.4 564.1 L670.5 565.0 L670.6 566.2 L670.8 566.9 L670.9 568.1 L671.0 569.4 L671.2 570.3 L671.3 572.0 L671.4 572.6 L671.6 573.7 L671.7 574.8 L671.8 576.1 L672.0 578.1 L672.1 578.4 L672.2 580.1 L672.4 581.8 L672.5 582.5 L672.8 583.7 L673.1 584.5 L673.4 586.8 L673.8 588.1 L674.1 588.0 L674.4 589.6 L674.7 591.3 L675.0 592.5 L676.0 594.2 L677.0 595.0 L677.6 593.6 L678.2 592.8 L678.9 590.9 L679.5 590.0 L679.8 589.2 L680.2 587.5 L680.5 586.4 L680.8 586.0 L681.2 585.0 L681.5 583.9 L681.8 582.3 L682.2 581.0 L682.5 580.0 L683.1 579.1 L683.8 577.7 L684.4 576.8 L685.0 575.0 L685.2 574.3 L685.5 572.1 L685.7 571.4 L685.9 570.7 L686.1 568.9 L686.4 567.7 L686.6 566.3 L686.8 566.0 L687.0 565.5 L687.3 564.4 L687.5 562.5 L687.9 560.7 L688.2 560.3 L688.6 558.6 L688.9 557.7 L689.3 556.1 L689.6 555.7 L690.0 553.8 L690.2 555.8 L690.5 555.5 L690.8 557.8 L691.0 558.1 L691.2 559.3 L691.5 560.9 L691.8 562.9 L692.0 563.8 L693.2 565.2 L694.5 565.0 L694.7 565.5 L695.0 567.0 L695.2 567.7 L695.4 569.6 L695.6 570.7 L695.9 571.6 L696.1 572.6 L696.3 574.6 L696.5 575.8 L696.8 576.0 L697.0 577.5 L697.8 576.5 L698.7 576.0 L699.5 575.0 L699.9 576.7 L700.2 578.3 L700.6 578.6 L700.9 580.3 L701.3 581.3 L701.6 583.0 L702.0 583.8 L703.8 585.0 L704.0 583.3 L704.2 582.2 L704.4 581.0 L704.7 581.1 L704.9 578.9 L705.1 578.2 L705.3 576.4 L705.6 575.6 L705.8 574.0 L706.0 573.7 L706.2 572.5 L706.6 570.7 L706.9 570.2 L707.2 568.4 L707.5 567.1 L707.8 566.2 L708.1 564.8 L708.4 563.4 L708.8 562.5 L708.9 560.6 L709.1 559.5 L709.2 559.6 L709.4 557.5 L709.6 556.0 L709.8 555.0 L709.9 554.3 L710.1 554.0 L710.2 551.5 L710.4 551.4 L710.6 549.6 L710.8 548.4 L710.9 547.8 L711.1 546.0 L711.2 545.0 L711.4 543.2 L711.5 542.8 L711.7 541.8 L711.8 540.6 L711.9 538.9 L712.1 538.8 L712.2 537.5 L712.3 536.5 L712.5 534.5 L712.6 534.0 L712.7 532.7 L712.9 530.6 L713.0 530.0 L714.0 528.0 L715.0 527.5 L715.1 528.2 L715.2 529.3 L715.4 530.4 L715.5 532.0 L715.6 533.7 L715.7 534.3 L715.8 535.8 L715.9 536.2 L716.1 537.7 L716.2 539.9 L716.3 539.7 L716.4 541.7 L716.5 543.2 L716.6 544.4 L716.8 545.5 L716.9 546.2 L717.0 547.5 L717.2 549.2 L717.4 550.5 L717.7 551.7 L717.9 553.3 L718.1 553.1 L718.3 555.7 L718.5 556.1 L718.8 557.5 L719.2 556.6 L719.6 554.6 L720.0 554.4 L720.4 551.7 L720.8 551.4 L721.2 550.0 L721.4 548.4 L721.6 547.5 L721.8 546.3 L722.0 545.6 L722.2 544.7 L722.4 542.9 L722.6 542.1 L722.8 540.5 L723.0 539.3 L723.2 539.1 L723.4 537.0 L723.6 535.5 L723.8 535.0 L723.9 533.6 L724.0 533.0 L724.2 531.0 L724.3 530.7 L724.5 529.2 L724.6 528.2 L724.8 526.2 L724.9 525.0 L725.1 523.8 L725.2 523.0 L725.4 521.9 L725.5 520.1 L725.7 519.7 L725.8 518.4 L726.0 517.1 L726.1 516.2 L726.2 515.0 L728.0 513.8 L728.3 515.7 L728.6 515.8 L728.9 518.1 L729.2 518.5 L729.5 520.0 L729.6 519.2 L729.8 517.1 L729.9 517.3 L730.0 515.3 L730.2 515.0 L730.3 512.6 L730.4 511.8 L730.6 511.1 L730.7 509.1 L730.8 508.1 L731.0 507.6 L731.1 506.9 L731.2 505.0 L731.3 503.7 L731.4 502.3 L731.4 501.3 L731.5 500.8 L731.5 498.8 L731.6 498.1 L731.6 496.7 L731.7 495.8 L731.7 494.2 L731.8 493.4 L731.9 492.5 L731.9 491.3 L732.0 489.9 L732.0 488.6 L732.1 487.5 L732.1 485.9 L732.2 485.4 L732.2 484.1 L732.3 482.7 L732.3 481.7 L732.4 480.3 L732.5 479.1 L732.5 477.8 L732.6 477.0 L732.6 475.8 L732.7 474.5 L732.7 472.9 L732.8 472.3 L732.8 471.0 L732.9 469.9 L732.9 468.8 L733.0 467.5 L734.0 467.6 L735.0 466.2 L735.1 466.9 L735.2 468.5 L735.4 470.5 L735.5 471.3 L735.6 471.8 L735.8 473.6 L735.9 475.2 L736.0 475.5 L736.1 477.3 L736.2 477.4 L736.4 479.9 L736.5 480.3 L736.6 481.1 L736.8 483.2 L736.9 484.0 L737.0 485.0 L737.1 484.5 L737.2 483.2 L737.4 482.0 L737.5 480.4 L737.6 479.9 L737.8 477.4 L737.9 477.4 L738.0 476.0 L738.1 474.2 L738.2 473.9 L738.4 472.2 L738.5 471.1 L738.6 470.5 L738.8 468.8 L738.8 469.5 L738.9 470.8 L739.0 472.5 L739.1 472.9 L739.2 474.7 L739.3 476.2 L739.4 477.0 L739.5 477.9 L739.6 479.8 L739.7 481.0 L739.8 482.1 L739.9 483.0 L740.0 484.6 L740.1 485.7 L740.2 486.0 L740.3 487.5 L740.4 488.3 L740.5 490.0 L740.8 490.5 L741.0 492.3 L741.2 494.3 L741.5 495.5 L741.8 495.6 L742.0 497.0 L742.2 498.6 L742.5 500.0 L742.7 499.4 L742.9 497.9 L743.0 497.2 L743.2 494.7 L743.4 495.0 L743.6 492.6 L743.8 492.1 L743.9 491.3 L744.1 489.9 L744.3 487.9 L744.5 487.5 L744.6 486.0 L744.8 484.1 L745.0 483.8 L745.2 484.6 L745.3 485.8 L745.5 487.4 L745.6 488.0 L745.8 489.7 L745.9 491.0 L746.1 491.3 L746.2 492.4 L746.4 494.4 L746.5 495.2 L746.7 495.8 L746.8 497.0 L747.0 498.8 L747.2 500.7 L747.5 501.4 L747.8 502.3 L748.0 503.3 L748.2 505.8 L748.5 506.6 L748.8 507.5 L748.8 506.6 L748.9 505.0 L749.0 503.8 L749.0 502.8 L749.1 501.3 L749.2 500.7 L749.2 499.3 L749.3 498.6 L749.4 497.0 L749.4 495.9 L749.5 494.8 L749.6 494.1 L749.6 492.3 L749.7 491.6 L749.8 489.9 L749.8 489.1 L749.9 487.7 L750.0 487.1 L750.0 485.3 L750.1 484.8 L750.2 483.5 L750.2 482.1 L750.3 481.4 L750.4 479.7 L750.4 478.9 L750.5 477.5 L750.6 476.5 L750.7 475.1 L750.8 473.4 L750.9 472.7 L751.0 471.3 L751.1 470.3 L751.2 469.8 L751.3 467.7 L751.4 467.1 L751.6 465.9 L751.7 464.1 L751.8 463.2 L751.9 461.6 L752.0 461.5 L752.1 459.4 L752.2 458.4 L752.3 457.2 L752.4 456.6 L752.5 455.0 L752.6 456.7 L752.8 457.5 L752.9 458.6 L753.0 459.0 L753.2 461.4 L753.3 461.4 L753.4 463.0 L753.6 464.1 L753.7 465.8 L753.8 466.9 L754.0 467.6 L754.1 469.6 L754.2 470.9 L754.4 470.6 L754.5 472.5 L754.6 473.9 L754.8 474.8 L754.9 475.8 L755.0 477.1 L755.1 478.0 L755.2 479.7 L755.4 480.8 L755.5 482.5 L755.6 483.7 L755.8 484.8 L755.9 485.1 L756.0 486.9 L756.1 487.8 L756.2 488.8 L757.1 487.8 L758.0 486.2 L758.2 488.3 L758.5 488.1 L758.8 489.9 L759.0 491.1 L759.2 492.7 L759.5 493.3 L759.8 495.8 L760.0 496.2 L760.1 494.6 L760.2 493.7 L760.4 492.2 L760.5 491.4 L760.6 490.7 L760.8 488.6 L760.9 487.6 L761.0 487.1 L761.1 485.9 L761.2 484.9 L761.4 483.0 L761.5 482.6 L761.6 481.4 L761.8 480.3 L761.9 478.1 L762.0 477.5 L762.1 476.3 L762.2 474.5 L762.3 474.4 L762.4 473.4 L762.5 472.1 L762.6 469.8 L762.7 469.0 L762.8 468.1 L762.9 466.9 L763.0 465.2 L763.1 464.9 L763.2 463.1 L763.3 462.2 L763.4 460.5 L763.5 459.9 L763.6 458.1 L763.7 456.9 L763.8 456.2 L763.9 455.0 L764.1 453.4 L764.3 452.9 L764.5 450.8 L764.7 449.9 L764.9 448.0 L765.1 447.0 L765.3 446.2 L765.5 445.0 L765.7 446.2 L765.8 447.2 L766.0 449.0 L766.1 449.0 L766.3 451.3 L766.4 451.4 L766.6 453.8 L766.7 454.3 L766.9 455.2 L767.0 456.7 L767.2 458.3 L767.3 459.6 L767.5 460.0 L767.7 461.0 L767.9 461.5 L768.0 462.9 L768.2 465.1 L768.4 466.1 L768.6 467.2 L768.8 467.4 L769.0 469.1 L769.1 469.5 L769.3 470.7 L769.5 472.5 L769.6 471.0 L769.7 470.8 L769.9 469.2 L770.0 468.3 L770.1 466.0 L770.2 465.4 L770.3 463.7 L770.4 462.8 L770.5 461.4 L770.7 461.4 L770.8 459.4 L770.9 458.5 L771.0 457.6 L771.1 456.7 L771.2 455.0 L771.4 454.5 L771.5 452.8 L771.6 451.5 L771.8 451.0 L771.9 449.1 L772.0 447.8 L772.2 447.3 L772.3 445.4 L772.4 444.4 L772.6 443.3 L772.7 442.2 L772.8 440.9 L773.0 439.9 L773.1 438.7 L773.2 437.0 L773.4 437.0 L773.5 434.7 L773.6 434.2 L773.7 433.1 L773.9 431.7 L774.0 430.7 L774.5 431.5 L775.0 432.4 L775.6 434.1 L776.1 435.2 L776.6 436.6 L776.7 437.8 L776.8 438.5 L777.0 440.5 L777.1 441.2 L777.2 441.6 L777.4 443.4 L777.5 445.4 L777.6 445.1 L777.8 447.1 L777.9 448.9 L778.0 449.1 L778.2 450.6 L778.3 451.4 L778.4 452.5 L778.6 454.1 L778.7 455.2 L778.8 455.9 L779.0 457.4 L779.1 458.6 L779.3 459.9 L779.5 461.6 L779.6 461.7 L779.8 463.1 L780.0 465.0 L780.8 465.9 L781.7 467.1 L782.5 468.8 L782.6 470.3 L782.7 471.0 L782.8 472.8 L782.9 473.3 L783.1 474.4 L783.2 476.1 L783.3 476.4 L783.4 478.9 L783.5 479.8 L783.6 480.3 L783.7 481.5 L783.8 483.4 L783.9 484.5 L784.1 485.5 L784.2 485.8 L784.3 488.0 L784.4 488.2 L784.5 490.0 L784.6 491.3 L784.7 492.4 L784.8 494.1 L784.9 494.9 L785.0 495.2 L785.2 497.6 L785.3 498.6 L785.4 499.5 L785.5 499.9 L785.6 502.0 L785.7 502.8 L785.8 504.3 L785.9 505.9 L786.0 507.0 L786.1 507.0 L786.2 508.8 L786.4 508.0 L786.6 506.3 L786.7 505.6 L786.9 503.9 L787.0 502.8 L787.2 501.6 L787.3 499.9 L787.5 499.1 L787.7 498.6 L787.8 496.3 L788.0 495.2 L788.1 495.2 L788.3 493.8 L788.4 492.4 L788.6 490.6 L788.8 490.0 L790.5 488.8 L790.6 489.4 L790.8 490.8 L790.9 492.9 L791.0 493.5 L791.1 495.2 L791.2 495.4 L791.4 496.8 L791.5 498.2 L791.6 499.8 L791.8 499.9 L791.9 502.2 L792.0 502.8 L792.1 503.3 L792.2 505.1 L792.4 506.1 L792.5 507.5 L792.6 506.6 L792.7 505.7 L792.9 503.9 L793.0 503.0 L793.1 501.4 L793.2 500.8 L793.3 498.6 L793.5 498.3 L793.6 496.3 L793.7 495.7 L793.8 494.0 L793.9 493.0 L794.0 491.5 L794.2 490.6 L794.3 489.8 L794.4 488.5 L794.5 487.1 L794.6 486.2 L794.8 485.4 L794.9 483.5 L795.0 482.5 L795.1 481.5 L795.3 480.1 L795.4 479.7 L795.5 477.6 L795.7 477.0 L795.8 475.1 L795.9 474.0 L796.1 473.5 L796.2 472.1 L796.3 470.5 L796.5 469.0 L796.6 469.0 L796.7 467.1 L796.9 466.5 L797.0 465.0 L797.1 463.7 L797.1 462.7 L797.2 461.5 L797.2 460.7 L797.3 459.5 L797.4 457.8 L797.4 456.7 L797.5 455.2 L797.5 454.6 L797.6 452.7 L797.7 451.7 L797.7 451.1 L797.8 449.1 L797.8 448.6 L797.9 447.2 L798.0 446.0 L798.0 444.6 L798.1 443.2 L798.1 442.9 L798.2 441.5 L798.3 440.3 L798.3 438.4 L798.4 437.9 L798.4 436.2 L798.5 435.0 L798.6 434.1 L798.6 433.0 L798.7 431.7 L799.1 429.9 L799.5 429.8 L799.9 428.3 L800.3 427.6 L800.7 425.8 L800.7 425.1 L800.8 423.6 L800.9 422.0 L801.0 421.5 L801.1 420.1 L801.2 418.4 L801.2 417.9 L801.3 416.5 L801.4 414.8 L801.5 413.5 L801.6 412.1 L801.7 411.5 L801.7 410.0 L801.8 408.8 L801.9 407.6 L802.0 406.2 L802.1 405.5 L802.2 404.0 L802.2 403.1 L803.4 402.5 L804.6 402.5 L804.7 403.5 L804.7 404.9 L804.7 406.4 L804.8 406.9 L804.8 408.7 L804.9 409.9 L804.9 410.9 L805.0 412.0 L805.0 413.4 L805.0 414.4 L805.1 415.7 L805.1 417.1 L805.2 418.1 L805.2 418.9 L805.2 419.9 L805.3 421.8 L805.3 422.5 L805.4 424.1 L805.4 424.8 L805.5 426.1 L805.5 427.3 L805.5 428.8 L805.6 429.7 L806.1 431.7 L806.6 432.2 L807.1 433.5 L807.6 434.7 L807.6 433.4 L807.6 432.1 L807.7 431.5 L807.7 429.6 L807.7 429.1 L807.8 427.7 L807.8 426.1 L807.8 425.6 L807.9 423.7 L807.9 422.9 L807.9 421.4 L807.9 420.9 L808.0 419.2 L808.0 418.5 L808.0 416.6 L808.1 416.0 L808.1 414.3 L808.1 413.1 L808.2 412.4 L808.2 411.5 L808.2 410.1 L808.3 409.0 L808.3 407.8 L808.3 406.4 L808.4 404.9 L808.4 404.1 L808.4 402.6 L808.5 401.7 L808.5 400.4 L808.5 399.3 L808.5 398.2 L808.6 396.7 L808.7 396.0 L808.7 394.5 L808.8 393.4 L808.9 391.8 L808.9 391.0 L809.0 389.9 L809.1 389.2 L809.1 387.6 L809.2 385.9 L809.3 384.9 L809.3 383.8 L809.4 383.0 L809.5 382.0 L809.5 380.4 L809.8 382.4 L810.0 383.6 L810.3 384.8 L810.5 385.9 L810.8 387.3 L811.0 387.0 L811.3 389.0 L811.5 390.3 L811.6 391.5 L811.6 392.8 L811.7 393.8 L811.7 395.0 L811.8 396.5 L811.9 396.7 L811.9 398.3 L812.0 399.9 L812.0 400.1 L812.1 401.4 L812.1 403.3 L812.2 404.5 L812.3 404.7 L812.3 405.9 L812.4 407.9 L812.4 408.9 L812.5 409.9 L812.5 411.1 L812.6 412.4 L812.7 413.6 L812.7 413.9 L812.8 415.1 L812.8 417.0 L812.9 417.9 L812.9 419.5 L813.0 420.6 L813.0 421.4 L813.1 422.5 L813.2 423.7 L813.2 424.5 L813.3 426.4 L813.3 427.1 L813.4 428.6 L813.4 429.8 L813.5 430.8 L813.5 432.3 L813.6 433.2 L813.6 434.2 L813.7 436.0 L813.7 436.5 L813.8 437.7 L813.8 439.0 L813.9 440.4 L813.9 441.9 L814.0 442.6 L814.0 443.7 L814.1 445.3 L814.2 446.1 L814.2 447.5 L814.3 448.4 L814.3 450.2 L814.4 450.7 L814.4 452.0 L814.5 453.4 L815.0 455.0 L815.1 455.9 L815.2 457.1 L815.2 458.8 L815.3 459.9 L815.4 461.2 L815.5 462.0 L815.6 462.7 L815.7 464.6 L815.8 465.2 L815.8 466.3 L815.9 467.7 L816.0 469.6 L816.1 470.0 L816.2 471.2 L816.2 473.0 L816.3 474.3 L816.4 474.7 L816.5 475.6 L816.6 477.5 L816.7 478.7 L816.8 479.3 L816.8 481.0 L816.9 481.7 L817.0 482.7 L817.1 484.3 L817.2 485.6 L817.2 486.5 L817.3 488.0 L817.4 488.2 L817.5 490.0 L817.6 491.2 L817.8 492.2 L817.9 492.8 L818.1 495.4 L818.2 495.3 L818.4 496.6 L818.5 498.8 L818.7 500.1 L818.8 501.3 L819.0 501.5 L819.1 503.6 L819.3 503.5 L819.4 505.6 L819.6 507.2 L819.7 507.2 L819.9 508.2 L820.0 510.0 L820.1 511.5 L820.3 512.9 L820.4 513.9 L820.5 515.4 L820.7 515.9 L820.8 516.9 L820.9 517.7 L821.1 519.1 L821.2 521.3 L821.3 521.2 L821.4 522.5 L821.6 524.0 L821.7 524.7 L821.8 526.3 L822.0 527.3 L822.1 528.4 L822.2 530.2 L822.4 531.4 L822.5 532.5 L823.0 533.9 L823.5 535.4 L824.0 536.3 L824.5 538.2 L825.0 538.8 L825.2 539.2 L825.5 540.6 L825.7 541.5 L825.9 543.0 L826.1 544.8 L826.4 546.2 L826.6 546.7 L826.8 547.3 L827.0 548.7 L827.3 550.2 L827.5 551.2 L827.7 549.8 L828.0 549.4 L828.2 548.6 L828.4 546.6 L828.6 545.7 L828.9 545.0 L829.1 543.2 L829.3 541.7 L829.5 541.7 L829.8 540.7 L830.0 538.8 L831.2 538.0 L832.5 538.8 L832.8 540.3 L833.0 540.8 L833.2 541.4 L833.5 542.7 L833.8 543.9 L834.0 545.9 L834.2 546.2 L834.5 547.0 L834.8 548.4 L835.0 550.0 L835.2 551.7 L835.5 552.5 L835.8 554.0 L836.0 554.9 L836.2 555.7 L836.5 556.7 L836.8 558.4 L837.0 560.0 L837.1 560.7 L837.2 562.1 L837.2 563.7 L837.3 564.6 L837.4 565.9 L837.5 567.3 L837.5 568.2 L837.6 569.4 L837.7 571.2 L837.8 572.0 L837.8 573.1 L837.9 574.4 L838.0 575.5 L838.1 576.5 L838.1 578.4 L838.2 578.8 L838.3 580.8 L838.4 581.9 L838.4 583.2 L838.5 583.5 L838.6 585.1 L838.7 586.9 L838.8 587.5 L838.9 586.0 L839.0 584.7 L839.2 584.4 L839.3 582.5 L839.4 581.9 L839.6 580.0 L839.7 580.1 L839.8 577.9 L840.0 576.5 L840.1 576.3 L840.2 574.6 L840.4 573.7 L840.5 572.5 L840.6 571.3 L840.6 570.6 L840.7 569.1 L840.7 567.8 L840.8 566.2 L840.8 565.6 L840.9 564.2 L840.9 563.3 L841.0 562.2 L841.0 560.9 L841.1 559.4 L841.1 558.7 L841.2 557.5 L841.2 556.5 L841.3 555.6 L841.3 553.8 L841.4 552.8 L841.4 551.3 L841.5 550.9 L841.5 549.2 L841.6 548.6 L841.6 547.4 L841.7 545.7 L841.7 545.2 L841.8 543.7 L841.8 542.4 L841.9 541.4 L841.9 540.6 L842.0 539.0 L842.0 537.9 L842.1 536.5 L842.1 535.9 L842.2 534.4 L842.2 533.1 L842.3 531.8 L842.3 530.7 L842.4 530.1 L842.4 528.9 L842.5 527.5 L842.5 526.8 L842.6 525.5 L842.6 524.2 L842.7 523.1 L842.7 521.8 L842.8 520.8 L842.8 519.6 L842.8 517.8 L842.9 517.3 L842.9 515.6 L843.0 514.4 L843.0 513.8 L843.1 511.9 L843.1 511.1 L843.1 509.8 L843.2 509.0 L843.2 507.7 L843.3 506.8 L843.3 505.7 L843.4 504.2 L843.4 502.5 L843.4 501.9 L843.5 500.2 L843.5 499.8 L843.6 498.6 L843.6 496.9 L843.6 495.6 L843.7 494.9 L843.7 493.8 L843.8 492.8 L843.8 491.3 L843.9 489.7 L843.9 489.1 L843.9 487.3 L844.0 486.9 L844.0 485.6 L844.1 484.5 L844.1 483.4 L844.2 481.9 L844.2 481.1 L844.2 479.6 L844.3 478.3 L844.3 477.1 L844.4 475.9 L844.4 474.4 L844.5 473.4 L844.5 472.5 L844.6 474.0 L844.6 474.5 L844.7 476.1 L844.8 477.4 L844.8 478.5 L844.9 479.4 L845.0 480.4 L845.0 481.5 L845.1 482.5 L845.2 484.2 L845.2 485.4 L845.3 486.8 L845.4 487.3 L845.4 489.1 L845.5 490.3 L845.6 490.7 L845.6 492.6 L845.7 493.4 L845.8 494.9 L845.8 495.9 L845.9 496.5 L846.0 497.6 L846.0 499.1 L846.1 500.2 L846.2 500.8 L846.2 502.5 L846.3 504.0 L846.4 504.8 L846.5 505.9 L846.5 507.4 L846.6 508.0 L846.7 509.1 L846.7 510.6 L846.8 511.4 L846.9 512.6 L846.9 513.5 L847.0 514.6 L847.1 516.1 L847.1 517.5 L847.2 519.1 L847.3 519.9 L847.3 520.8 L847.4 521.9 L847.5 522.9 L847.5 524.3 L847.6 526.0 L847.7 526.2 L847.7 527.7 L847.8 529.1 L847.9 530.4 L847.9 531.3 L848.0 532.5 L848.1 534.0 L848.1 535.1 L848.2 535.5 L848.3 537.0 L848.3 538.7 L848.4 539.3 L848.5 540.1 L848.5 541.8 L848.6 542.2 L848.7 543.5 L848.8 545.0 L848.8 543.9 L848.9 542.4 L849.0 541.8 L849.1 540.6 L849.2 539.0 L849.3 538.4 L849.4 537.1 L849.5 536.0 L849.6 534.5 L849.6 533.3 L849.7 531.7 L849.8 531.0 L849.9 530.5 L850.0 529.2 L850.1 527.0 L850.2 525.9 L850.3 525.0 L850.4 524.3 L850.4 522.9 L850.5 521.3 L850.6 520.5 L850.7 519.6 L850.8 518.6 L850.9 517.0 L851.0 516.2 L851.1 515.0 L851.2 513.8 L851.2 512.5 L851.9 513.0 L852.5 515.3 L853.1 515.7 L853.8 517.5 L853.9 517.9 L854.1 519.8 L854.2 520.2 L854.4 521.4 L854.5 523.1 L854.7 524.4 L854.8 524.9 L855.0 527.5 L855.1 528.4 L855.3 529.0 L855.4 530.3 L855.6 531.1 L855.8 532.5 L856.0 532.0 L856.2 529.4 L856.4 528.4 L856.6 527.1 L856.8 526.8 L857.1 525.0 L857.3 523.6 L857.5 522.5 L857.6 523.5 L857.8 525.4 L857.9 525.6 L858.0 527.6 L858.2 528.7 L858.3 529.4 L858.4 530.5 L858.6 531.7 L858.7 532.9 L858.8 533.9 L859.0 535.5 L859.1 536.4 L859.2 537.4 L859.4 539.3 L859.5 540.0 L859.7 541.2 L859.9 542.5 L860.2 544.4 L860.4 544.9 L860.6 546.1 L860.8 548.1 L861.0 549.5 L861.2 550.0 L861.3 549.2 L861.4 547.5 L861.5 546.7 L861.6 545.6 L861.7 543.9 L861.8 543.3 L861.8 542.4 L861.9 540.9 L862.0 539.7 L862.1 538.3 L862.2 537.4 L862.2 535.7 L862.3 535.2 L862.4 533.7 L862.5 533.1 L862.6 531.1 L862.7 530.4 L862.8 528.4 L862.8 527.7 L862.9 527.0 L863.0 525.2 L863.1 524.5 L863.2 522.8 L863.2 521.9 L863.3 521.4 L863.4 519.3 L863.5 519.0 L863.6 516.8 L863.7 516.3 L863.8 515.0 L863.9 514.3 L864.0 513.1 L864.1 511.3 L864.2 510.4 L864.3 509.4 L864.5 508.2 L864.6 507.0 L864.7 505.6 L864.8 503.9 L864.9 503.4 L865.1 502.0 L865.2 500.8 L865.3 500.2 L865.4 497.8 L865.5 497.5 L865.7 495.7 L865.8 495.1 L865.9 494.2 L866.0 492.1 L866.1 491.3 L866.2 490.0 L866.4 488.9 L866.5 487.6 L866.6 486.0 L866.7 485.4 L866.8 484.6 L867.0 483.1 L867.1 481.4 L867.2 480.9 L867.3 479.2 L867.4 477.6 L867.6 477.1 L867.7 475.7 L867.8 474.6 L867.9 474.0 L868.0 472.2 L868.2 471.6 L868.3 469.6 L868.4 468.9 L868.5 466.8 L868.6 465.9 L868.8 465.0 L868.8 464.0 L868.8 462.8 L868.8 461.8 L868.9 460.2 L868.9 459.0 L868.9 457.9 L869.0 456.9 L869.0 455.3 L869.0 454.4 L869.1 453.5 L869.1 451.9 L869.1 450.9 L869.2 450.2 L869.2 449.1 L869.2 447.3 L869.2 446.1 L869.3 444.9 L869.3 443.7 L869.3 443.1 L869.4 441.9 L869.4 440.4 L869.4 439.4 L869.5 438.4 L869.5 436.7 L869.5 436.2 L869.6 435.0 L869.6 433.3 L869.6 432.6 L869.6 431.4 L869.7 430.0 L869.7 429.2 L869.7 427.8 L870.2 426.1 L870.7 425.3 L871.2 423.8 L871.7 422.8 L872.5 421.8 L873.3 420.9 L873.3 422.3 L873.4 423.3 L873.4 424.5 L873.5 426.0 L873.5 426.5 L873.6 427.7 L873.6 429.2 L873.6 430.0 L873.7 431.9 L873.7 432.5 L873.8 433.8 L873.8 434.9 L873.9 436.5 L873.9 437.7 L874.0 438.7 L874.0 439.4 L874.0 440.7 L874.1 442.2 L874.1 443.0 L874.2 444.8 L874.2 445.9 L874.3 446.5 L874.3 447.8 L874.4 448.9 L874.4 450.5 L874.4 451.1 L874.5 452.8 L874.5 453.4 L874.6 455.3 L874.6 456.2 L874.7 457.4 L874.7 458.6 L874.7 459.4 L874.7 460.5 L874.8 461.9 L874.8 463.6 L874.8 464.4 L874.8 465.8 L874.9 466.3 L874.9 467.5 L874.9 468.6 L874.9 470.3 L875.0 471.1 L875.0 472.5 L875.0 471.1 L875.1 470.3 L875.1 469.1 L875.1 467.7 L875.2 466.6 L875.2 465.3 L875.2 464.3 L875.3 463.0 L875.3 461.8 L875.3 460.5 L875.4 459.4 L875.4 458.2 L875.4 456.8 L875.4 455.9 L875.5 454.9 L875.5 453.5 L875.5 452.2 L875.6 451.6 L875.6 450.1 L875.6 449.0 L875.7 447.6 L875.7 446.9 L875.7 445.7 L875.8 444.4 L875.8 443.2 L875.8 442.1 L875.9 440.7 L875.9 439.5 L875.9 438.3 L876.0 437.2 L876.0 436.0 L876.0 434.9 L876.0 433.7 L876.2 432.6 L876.3 431.8 L876.5 430.8 L876.6 428.6 L876.8 427.1 L876.9 426.4 L877.1 424.8 L877.2 424.8 L877.3 423.4 L877.5 421.7 L877.6 420.9 L877.7 421.6 L877.8 423.6 L877.9 424.7 L878.0 425.7 L878.1 426.9 L878.2 428.1 L878.2 428.9 L878.3 429.9 L878.4 431.3 L878.5 432.8 L878.6 434.1 L878.7 435.2 L878.8 436.2 L878.9 436.4 L878.9 437.8 L879.0 439.9 L879.1 440.5 L879.2 441.6 L879.2 442.8 L879.3 443.8 L879.3 445.4 L879.3 446.4 L879.4 447.9 L879.4 448.4 L879.4 450.3 L879.5 450.7 L879.5 452.0 L879.5 453.4 L879.5 454.8 L879.6 455.5 L879.6 457.1 L879.6 458.6 L879.7 459.4 L879.7 460.8 L879.7 461.9 L879.8 463.1 L879.8 463.9 L879.8 465.3 L879.8 466.9 L879.9 467.9 L879.9 468.7 L879.9 470.1 L880.0 471.3 L880.0 472.5 L880.4 473.5 L880.7 475.1 L881.1 476.5 L881.4 476.7 L881.8 478.3 L882.1 480.3 L882.5 481.2 L882.5 479.8 L882.6 478.5 L882.6 478.0 L882.7 476.5 L882.7 475.9 L882.8 474.3 L882.8 472.7 L882.9 472.1 L882.9 470.6 L883.0 469.9 L883.0 468.7 L883.1 467.6 L883.1 465.7 L883.2 464.6 L883.2 464.1 L883.3 462.3 L883.3 461.2 L883.4 459.9 L883.4 458.9 L883.5 458.0 L883.5 457.3 L883.6 455.6 L883.6 454.3 L883.7 453.7 L883.7 451.9 L883.8 451.2 L883.8 450.0 L883.9 449.2 L883.9 447.2 L884.0 446.5 L884.0 445.2 L884.1 444.4 L884.1 442.7 L884.2 442.0 L884.2 440.3 L884.3 439.5 L884.3 438.8 L884.4 436.9 L884.4 435.8 L884.5 435.2 L884.5 433.7 L884.6 432.7 L884.7 430.8 L884.8 429.8 L884.9 428.7 L885.0 427.6 L885.1 427.1 L885.2 425.8 L885.3 424.9 L885.3 423.4 L885.4 422.2 L885.5 420.7 L885.6 420.0 L885.7 418.5 L885.8 416.8 L885.9 416.2 L886.0 414.9 L886.1 413.9 L886.2 412.1 L886.2 410.9 L886.3 411.0 L886.4 409.0 L886.5 408.0 L886.6 406.7 L886.6 405.4 L886.6 404.6 L886.7 403.8 L886.7 401.9 L886.8 401.1 L886.8 399.9 L886.8 399.0 L886.9 397.6 L886.9 396.2 L887.0 395.0 L887.0 394.3 L887.0 392.6 L887.1 392.1 L887.1 390.2 L887.2 389.2 L887.2 388.3 L887.2 387.4 L887.3 386.1 L887.3 385.0 L887.4 383.9 L887.4 382.7 L887.4 380.9 L887.5 380.4 L887.5 378.7 L887.6 377.5 L887.6 376.3 L887.6 375.1 L887.7 374.7 L887.7 373.1 L887.8 371.7 L887.8 370.5 L887.8 370.0 L887.9 368.6 L887.9 367.5 L888.0 366.6 L888.1 364.5 L888.1 363.4 L888.2 362.4 L888.2 361.1 L888.3 359.9 L888.4 358.8 L888.4 358.0 L888.5 356.4 L888.5 355.2 L888.6 354.4 L888.7 353.0 L888.7 351.6 L888.8 350.9 L888.8 349.6 L888.9 348.3 L889.0 347.2 L889.0 345.6 L889.1 344.9 L889.2 343.8 L889.3 342.0 L889.4 341.0 L889.5 339.4 L889.6 339.3 L889.7 337.7 L889.8 336.2 L889.9 335.2 L890.0 334.5 L890.1 332.2 L890.2 331.4 L890.4 330.6 L890.5 329.1 L890.5 327.8 L890.5 326.9 L890.6 325.8 L890.6 323.9 L890.6 322.9 L890.7 321.7 L890.7 320.9 L890.8 319.8 L890.8 318.5 L890.8 317.5 L890.9 315.7 L890.9 314.7 L890.9 313.9 L891.0 312.6 L891.0 310.8 L891.1 310.4 L891.1 309.0 L891.1 307.9 L891.2 306.3 L891.2 305.3 L891.2 304.4 L891.3 303.1 L891.3 301.6 L892.3 300.0 L892.4 301.4 L892.5 303.0 L892.6 304.4 L892.7 305.4 L892.8 306.4 L892.8 308.1 L892.9 308.3 L893.0 309.9 L893.1 311.3 L893.2 312.5 L893.3 310.9 L893.3 310.4 L893.4 308.5 L893.5 307.9 L893.5 306.3 L893.6 305.2 L893.7 304.3 L893.8 302.7 L893.8 301.8 L893.9 301.0 L894.0 300.0 L894.0 298.0 L894.1 297.0 L894.2 296.1 L894.2 294.4 L894.3 293.9 L894.4 292.0 L894.4 291.2 L894.5 290.0 L894.8 288.6 L895.2 286.9 L895.5 285.7 L895.9 284.6 L896.2 284.2 L896.3 285.2 L896.3 286.3 L896.4 288.2 L896.4 289.0 L896.5 289.7 L896.5 291.5 L896.6 292.2 L896.6 293.6 L896.7 295.0 L896.7 296.3 L896.8 297.6 L896.8 298.3 L896.9 299.4 L896.9 300.6 L897.0 301.7 L897.0 303.3 L897.1 304.2 L897.1 305.6 L897.2 306.3 L897.2 308.1 L897.3 309.4 L897.3 309.9 L897.4 311.3 L897.4 312.6 L897.5 313.3 L897.5 314.4 L897.5 315.8 L897.6 316.8 L897.6 318.4 L897.7 319.4 L897.7 320.7 L897.7 322.1 L897.8 322.4 L897.8 323.6 L897.9 324.7 L897.9 326.3 L897.9 327.7 L898.0 328.8 L898.0 329.8 L898.1 331.2 L898.1 331.9 L898.2 332.8 L898.2 334.5 L898.2 335.1 L898.3 336.4 L898.3 337.4 L898.4 338.9 L898.4 339.8 L898.4 340.9 L898.4 342.5 L898.5 343.3 L898.5 344.8 L898.5 346.2 L898.6 347.0 L898.6 347.9 L898.6 349.5 L898.6 350.7 L898.7 352.0 L898.7 352.9 L898.7 354.1 L898.8 355.5 L898.8 356.5 L898.8 357.9 L898.9 358.5 L898.9 360.1 L898.9 361.1 L898.9 362.1 L899.0 362.9 L899.0 364.5 L899.0 365.5 L899.1 366.9 L899.1 368.0 L899.1 369.1 L899.1 369.9 L899.2 371.2 L899.2 372.7 L899.2 373.9 L899.3 375.3 L899.3 376.3 L899.3 377.1 L899.3 378.4 L899.4 379.5 L899.4 380.7 L899.4 382.1 L899.5 383.0 L899.5 384.6 L899.5 385.4 L899.5 386.5 L899.6 387.7 L899.6 388.8 L899.6 390.4 L899.7 390.8 L899.7 392.3 L899.7 393.2 L899.7 394.8 L899.8 395.6 L899.8 396.7 L899.8 398.1 L899.9 399.4 L899.9 400.7 L899.9 401.6 L900.0 402.6 L900.0 403.9 L900.0 405.4 L900.0 406.1 L900.1 407.1 L900.1 408.9 L900.1 409.8 L900.2 410.6 L900.2 411.8 L900.2 413.6 L900.2 414.6 L900.3 415.2 L900.3 416.9 L900.3 417.9 L900.3 418.9 L900.3 420.2 L900.3 421.5 L900.3 422.3 L900.4 424.0 L900.4 424.8 L900.4 425.9 L900.4 427.4 L900.4 428.2 L900.4 429.3 L900.4 430.9 L900.4 431.9 L900.4 433.4 L900.4 434.5 L900.4 435.3 L900.4 436.4 L900.4 437.9 L900.4 439.0 L900.4 440.0 L900.4 441.6 L900.4 442.3 L900.4 443.8 L900.4 444.6 L900.4 446.3 L900.4 447.5 L900.4 448.4 L900.5 449.4 L900.5 450.8 L900.5 452.1 L900.5 453.2 L900.5 453.9 L900.5 455.4 L900.5 456.3 L900.5 457.8 L900.5 459.2 L900.5 460.3 L900.5 461.2 L900.6 459.8 L900.7 459.0 L900.7 457.5 L900.8 456.2 L900.9 455.7 L901.0 454.5 L901.0 452.9 L901.1 451.8 L901.2 450.9 L901.3 449.8 L901.3 448.3 L901.4 446.8 L901.5 445.6 L901.6 444.5 L901.6 444.0 L901.7 442.5 L901.8 441.5 L901.9 440.0 L901.9 438.8 L902.0 437.4 L902.1 437.2 L902.2 435.6 L902.2 433.9 L902.3 433.4 L902.4 432.1 L902.5 430.9 L902.5 429.9 L902.6 428.6 L902.7 427.7 L902.8 426.6 L902.8 424.8 L902.9 423.9 L903.0 422.4 L903.1 421.3 L903.1 420.1 L903.2 419.2 L903.3 417.9 L903.3 416.6 L903.3 415.5 L903.4 414.7 L903.4 413.5 L903.4 412.2 L903.5 411.2 L903.5 409.7 L903.5 408.7 L903.6 407.2 L903.6 406.1 L903.6 404.8 L903.6 404.2 L903.7 403.1 L903.7 401.5 L903.7 400.4 L903.8 399.0 L903.8 397.9 L903.8 397.1 L903.8 396.1 L903.9 394.3 L903.9 393.3 L903.9 392.6 L904.0 391.0 L904.0 390.3 L904.0 388.8 L904.0 387.7 L904.1 386.3 L904.1 385.2 L904.1 384.2 L904.2 382.9 L904.2 382.1 L904.2 380.4 L904.3 379.7 L904.3 378.4 L904.3 377.5 L904.3 376.0 L904.4 374.7 L904.4 373.5 L904.4 372.3 L904.5 371.7 L904.5 370.4 L904.5 368.7 L904.5 367.9 L904.6 366.9 L904.6 365.5 L904.6 364.1 L904.7 363.3 L904.7 362.1 L904.7 361.4 L904.7 359.7 L904.8 359.0 L904.8 357.8 L904.8 356.4 L904.9 354.9 L904.9 354.3 L904.9 352.6 L904.9 351.8 L905.0 350.2 L905.0 349.1 L905.0 348.2 L905.1 346.8 L905.1 346.3 L905.1 344.8 L905.1 343.9 L905.2 342.8 L905.2 341.5 L905.2 340.2 L905.3 338.9 L905.3 340.1 L905.3 341.5 L905.3 342.6 L905.4 343.3 L905.4 344.8 L905.4 345.8 L905.5 347.1 L905.5 348.4 L905.5 349.5 L905.6 350.6 L905.6 351.9 L905.6 353.1 L905.6 353.7 L905.7 354.9 L905.7 356.0 L905.7 357.3 L905.8 359.0 L905.8 359.7 L905.8 361.0 L905.8 362.1 L905.9 363.4 L905.9 364.3 L905.9 365.9 L906.0 366.7 L906.0 368.2 L906.0 369.4 L906.0 369.9 L906.1 371.5 L906.1 372.3 L906.1 374.1 L906.2 374.6 L906.2 375.9 L906.2 377.5 L906.2 378.4 L906.3 379.7 L906.3 380.9 L906.3 381.8 L906.4 383.1 L906.4 384.0 L906.4 385.4 L906.5 386.4 L906.5 387.8 L906.5 388.6 L906.5 389.7 L906.6 390.9 L906.6 392.4 L906.6 393.6 L906.7 394.3 L906.7 396.2 L906.7 397.3 L906.7 398.1 L906.8 399.0 L906.8 400.7 L906.8 402.0 L906.9 402.5 L906.9 404.2 L906.9 405.4 L906.9 406.6 L907.0 407.2 L907.0 408.3 L907.0 409.5 L907.1 410.7 L907.1 412.4 L907.1 413.6 L907.2 414.4 L907.2 415.3 L907.2 416.6 L907.2 417.9 L907.3 418.9 L907.3 420.4 L907.3 421.6 L907.3 422.8 L907.3 423.7 L907.4 424.9 L907.4 426.1 L907.4 427.2 L907.4 428.5 L907.4 429.8 L907.4 431.0 L907.5 431.9 L907.5 433.2 L907.5 434.1 L907.5 435.2 L907.5 436.7 L907.6 437.8 L907.6 438.8 L907.6 440.0 L907.6 441.4 L907.6 442.9 L907.7 444.0 L907.7 444.6 L907.7 446.0 L907.7 447.2 L907.7 448.4 L907.8 449.4 L907.8 450.9 L907.8 452.3 L907.8 453.1 L907.8 454.2 L907.8 455.3 L907.9 456.4 L907.9 458.1 L907.9 458.9 L907.9 460.4 L907.9 461.7 L908.0 462.3 L908.0 463.6 L908.0 465.0 L908.1 465.9 L908.1 467.6 L908.2 468.7 L908.3 469.4 L908.3 470.7 L908.4 471.7 L908.5 473.0 L908.5 474.5 L908.6 475.1 L908.7 476.8 L908.7 478.1 L908.8 478.9 L908.9 480.4 L908.9 481.6 L909.0 481.9 L909.1 483.9 L909.1 484.2 L909.2 486.0 L909.3 486.4 L909.3 487.8 L909.4 489.1 L909.5 490.6 L909.5 491.6 L909.6 492.3 L909.7 494.2 L909.7 495.3 L909.8 496.0 L909.9 496.7 L909.9 498.1 L910.0 499.5 L910.0 500.4 L910.1 501.7 L910.1 503.4 L910.2 504.2 L910.2 505.6 L910.3 506.0 L910.3 507.4 L910.4 509.0 L910.4 509.8 L910.5 510.8 L910.5 511.8 L910.6 513.0 L910.6 514.5 L910.7 515.8 L910.7 516.8 L910.7 518.1 L910.8 519.0 L910.8 519.9 L910.9 521.7 L910.9 522.5 L911.0 523.8 L911.0 524.9 L911.1 526.0 L911.1 526.9 L911.2 528.3 L911.2 529.5 L911.3 530.5 L911.3 531.5 L911.3 533.1 L911.4 533.9 L911.4 535.8 L911.5 536.5 L911.5 537.7 L911.6 539.0 L911.7 540.2 L911.8 540.7 L911.9 542.0 L912.1 544.2 L912.2 545.1 L912.3 546.2 L912.4 547.2 L912.6 549.0 L912.7 549.9 L912.8 551.5 L912.9 552.8 L913.0 554.1 L913.2 554.7 L913.8 556.4 L914.5 557.6 L915.1 558.7 L915.3 559.8 L915.5 561.1 L915.7 562.4 L915.9 563.5 L916.1 565.1 L916.3 566.4 L916.5 566.3 L916.7 568.6 L916.9 569.5 L917.1 570.5 L917.2 571.8 L917.2 573.3 L917.3 573.6 L917.4 575.2 L917.4 576.2 L917.5 578.0 L917.5 578.3 L917.6 579.9 L917.7 580.6 L917.7 582.5 L917.8 583.3 L917.9 584.8 L917.9 585.5 L918.0 587.3 L918.1 587.5 L918.1 588.9 L918.2 590.6 L918.2 591.9 L918.3 593.0 L918.4 593.6 L918.4 594.6 L918.5 596.2 L918.6 597.6 L918.7 598.8 L918.7 599.2 L918.8 601.5 L918.9 602.2 L919.0 602.8 L919.1 604.5 L919.2 605.5 L919.2 606.5 L919.3 608.6 L919.4 609.8 L919.5 610.1 L919.6 611.6 L919.7 612.6 L919.7 614.3 L919.8 614.8 L919.9 616.3 L920.0 617.6 L920.1 618.9 L920.2 617.7 L920.4 616.4 L920.6 615.5 L920.7 614.9 L920.9 613.7 L921.0 612.5 L921.2 611.2 L921.4 609.1 L921.5 608.0 L921.7 607.2 L921.8 606.0 L923.8 606.0 L924.1 607.5 L924.3 608.7 L924.6 609.5 L924.8 611.8 L925.1 611.9 L925.3 612.7 L925.5 614.0 L925.8 615.9 L925.9 614.3 L926.0 613.9 L926.1 612.8 L926.2 610.6 L926.3 609.6 L926.4 608.5 L926.5 608.0 L926.6 607.0 L926.7 604.9 L926.8 603.5 L926.9 603.5 L927.1 602.3 L927.2 600.8 L927.3 599.3 L927.4 598.2 L927.6 597.3 L927.8 596.1 L928.0 594.5 L928.2 592.9 L928.4 592.0 L928.6 591.0 L928.8 589.2 L929.0 588.3 L929.1 589.7 L929.3 590.2 L929.5 592.7 L929.6 592.8 L929.8 594.0 L930.0 596.4 L930.2 597.6 L930.3 598.2 L930.5 600.1 L930.7 601.2 L930.9 602.5 L931.1 603.7 L931.3 604.6 L931.5 605.1 L931.7 607.0 L933.0 607.9 L934.3 608.0 L934.5 609.8 L934.8 611.0 L935.0 611.0 L935.3 612.3 L935.5 614.6 L935.8 615.4 L936.0 617.3 L936.2 617.9 L936.6 619.9 L937.0 620.2 L937.4 621.7 L937.8 622.9 L938.2 623.8 L938.9 625.4 L939.5 626.2 L940.2 627.8 L941.2 628.6 L942.2 628.4 L943.2 629.7 L943.3 629.2 L943.4 627.7 L943.5 626.7 L943.6 625.0 L943.7 623.5 L943.9 622.7 L944.0 621.9 L944.1 620.5 L944.2 618.7 L944.3 617.4 L944.4 616.8 L944.6 615.4 L944.7 614.3 L944.8 613.1 L944.9 612.2 L945.0 611.4 L945.1 610.0 L945.3 609.4 L945.4 607.9 L945.6 605.6 L945.7 605.7 L945.9 604.1 L946.0 603.1 L946.2 601.7 L946.3 600.0 L946.5 598.8 L946.7 597.2 L946.8 596.9 L947.0 594.7 L947.1 594.2 L947.3 593.3 L947.4 592.5 L947.6 590.9 L947.7 589.6 L947.9 588.8 L948.1 587.8 L948.2 586.4 L948.4 585.5 L948.5 583.5 L948.7 582.4 L948.9 580.3 L949.1 580.0 L949.3 578.8 L949.5 577.9 L949.7 576.2 L949.9 574.5 L950.1 573.5 L950.5 574.0 L951.0 576.6 L951.5 577.4 L951.6 578.8 L951.8 580.6 L952.0 581.2 L952.2 582.8 L952.3 583.9 L952.5 585.5 L952.7 585.8 L952.9 587.7 L953.0 588.3 L953.2 586.9 L953.4 585.0 L953.6 584.3 L953.8 583.1 L954.0 582.9 L954.2 580.7 L954.4 579.3 L954.6 578.4 L954.7 579.9 L954.9 580.2 L955.0 581.7 L955.2 583.0 L955.3 583.8 L955.4 585.7 L955.6 586.6 L955.7 588.4 L955.9 588.8 L956.0 590.3 L956.4 592.2 L956.8 592.1 L957.2 593.9 L957.6 594.6 L958.0 596.2 L958.5 596.6 L958.9 598.3 L959.4 600.5 L959.9 601.1 L960.4 602.0 L960.9 603.6 L961.4 604.9 L961.9 606.0 L962.3 606.9 L962.7 608.5 L963.1 608.9 L963.5 610.5 L963.9 612.0 L964.1 610.4 L964.4 610.0 L964.6 608.7 L964.9 607.4 L965.1 606.0 L965.4 605.2 L965.6 603.7 L965.9 602.1 L966.3 600.2 L966.6 599.1 L967.0 598.9 L967.4 597.9 L967.8 596.2 L969.8 596.2 L970.1 598.1 L970.4 598.9 L970.6 599.0 L970.9 600.8 L971.2 602.0 L971.5 603.1 L971.8 604.1 L971.9 604.6 L972.1 607.1 L972.3 607.5 L972.4 608.3 L972.6 610.6 L972.8 610.8 L972.9 611.4 L973.1 613.6 L973.3 614.1 L973.4 615.1 L973.6 616.4 L973.8 617.9 L975.0 618.6 L976.3 618.9 L976.8 617.4 L977.3 616.7 L977.8 615.8 L978.3 614.0 L978.5 613.4 L978.8 611.9 L979.0 610.7 L979.2 608.3 L979.4 607.9 L979.7 606.0 L980.5 604.4 L981.4 604.2 L982.2 603.1 L982.5 601.1 L982.8 599.9 L983.1 600.0 L983.4 597.4 L983.6 597.1 L983.9 595.5 L984.2 594.2 L984.3 592.2 L984.5 592.3 L984.6 590.0 L984.8 590.1 L984.9 588.8 L985.0 587.1 L985.2 585.8 L985.3 584.0 L985.5 583.9 L985.6 582.4 L985.8 580.4 L986.0 580.0 L986.2 579.5 L986.4 577.9 L986.6 575.8 L986.8 575.6 L987.0 574.4 L987.2 572.6 L987.4 572.1 L987.6 570.5 L987.9 569.5 L988.2 568.1 L988.6 567.1 L988.9 565.6 L989.2 564.4 L989.5 563.6 L990.2 565.6 L990.9 566.0 L991.5 567.6 L991.8 569.2 L992.2 569.7 L992.5 570.5 L992.8 571.4 L993.2 574.1 L993.5 574.5 L994.0 576.1 L994.5 577.7 L995.0 578.3 L995.5 579.4 L995.7 577.4 L996.0 576.3 L996.3 574.9 L996.6 574.5 L996.9 573.3 L997.1 572.5 L997.4 570.5 L997.6 571.4 L997.8 572.6 L997.9 573.8 L998.1 574.9 L998.3 575.9 L998.4 577.9 L998.6 579.0 L998.8 580.2 L998.9 582.4 L999.1 582.6 L999.2 584.6 L999.4 585.3 L999.9 584.1 L1000.4 582.2 L1000.9 580.9 L1001.4 580.4 L1001.5 579.4 L1001.7 578.7 L1001.9 576.2 L1002.0 576.1 L1002.2 574.2 L1002.4 573.8 L1002.5 572.9 L1002.7 571.5 L1002.9 569.6 L1003.0 568.3 L1003.2 568.5 L1003.4 566.6 L1003.6 566.1 L1003.8 564.9 L1004.0 563.1 L1004.1 561.1 L1004.3 560.5 L1004.5 560.1 L1004.7 557.6 L1004.9 556.8 L1005.1 555.2 L1005.3 554.7 L1006.3 556.3 L1007.3 556.7 L1007.6 557.6 L1007.9 558.3 L1008.1 559.9 L1008.4 560.8 L1008.7 562.2 L1009.0 563.7 L1009.3 564.6 L1009.5 563.7 L1009.7 561.6 L1009.9 561.1 L1010.1 559.2 L1010.3 558.6 L1010.5 558.0 L1010.7 555.9 L1010.9 555.6 L1011.1 553.5 L1011.2 552.8 L1011.6 551.4 L1012.0 550.9 L1012.4 548.4 L1012.8 548.1 L1013.2 546.8 L1013.6 548.1 L1013.9 549.5 L1014.2 551.0 L1014.5 551.8 L1014.9 552.2 L1015.2 553.8 L1015.9 552.0 L1016.5 551.1 L1017.2 549.8 L1019.1 550.8 L1019.8 549.0 L1020.5 547.8 L1020.7 549.1 L1020.9 549.5 L1021.1 551.6 L1021.3 552.3 L1021.5 552.9 L1021.7 554.7 L1022.0 553.0 L1022.3 553.2 L1022.6 551.9 L1022.8 550.8 L1023.1 548.9 L1023.4 548.7 L1023.7 546.8 L1024.9 545.8 L1026.0 545.9 L1026.3 545.1 L1026.6 544.3 L1026.9 542.0 L1027.2 540.6 L1027.5 539.6 L1027.7 538.4 L1028.0 538.0 L1028.2 537.2 L1028.5 535.7 L1028.7 534.3 L1028.9 532.5 L1029.1 532.2 L1029.3 530.1 L1029.6 528.9 L1029.8 528.5 L1030.0 527.1 L1030.2 526.1 L1030.5 525.1 L1030.7 523.9 L1031.0 521.6 L1031.2 520.6 L1031.5 519.1 L1031.7 518.5 L1032.0 517.2 L1032.6 515.2 L1033.3 515.2 L1034.0 513.3 L1034.6 512.3 L1035.3 511.2 L1035.9 509.3 L1036.7 510.8 L1037.5 512.3 L1037.6 514.1 L1037.7 515.2 L1037.8 516.5 L1038.0 517.7 L1038.1 518.1 L1038.2 519.5 L1038.3 520.3 L1038.4 522.5 L1038.5 523.4 L1038.7 525.3 L1038.8 525.6 L1038.9 527.1 L1039.0 528.2 L1039.2 530.1 L1039.3 531.4 L1039.4 532.2 L1039.6 533.6 L1039.7 534.9 L1039.8 535.0 L1040.0 536.8 L1040.1 537.1 L1040.3 539.0 L1040.4 540.4 L1040.5 542.0 L1040.7 542.4 L1040.8 543.0 L1040.9 544.8 L1041.0 545.2 L1041.2 546.9 L1041.3 547.5 L1041.4 549.2 L1041.6 550.9 L1041.7 552.0 L1041.8 552.8 L1042.0 554.6 L1042.2 555.2 L1042.4 556.4 L1042.6 557.0 L1042.8 559.4 L1043.0 560.3 L1043.2 561.2 L1043.4 562.6 L1043.8 563.2 L1044.2 564.9 L1044.6 565.5 L1045.0 566.8 L1045.4 568.5 L1046.0 569.2 L1046.7 571.1 L1047.4 572.5 L1047.6 570.7 L1047.9 570.7 L1048.2 569.1 L1048.5 568.4 L1048.8 566.6 L1048.9 565.4 L1049.0 563.7 L1049.1 562.6 L1049.2 562.2 L1049.3 560.6 L1049.4 559.5 L1049.5 558.3 L1049.6 556.3 L1049.7 555.2 L1049.8 554.3 L1049.9 553.7 L1050.0 552.6 L1050.1 550.8 L1050.2 552.1 L1050.3 552.8 L1050.4 553.7 L1050.5 555.5 L1050.6 556.5 L1050.7 558.3 L1050.8 558.5 L1050.9 559.7 L1051.0 560.6 L1051.1 561.8 L1051.2 564.0 L1051.2 565.2 L1051.3 565.4 L1051.4 566.4 L1051.5 568.3 L1051.6 569.0 L1051.7 570.5 L1051.8 571.9 L1052.0 573.5 L1052.1 574.5 L1052.2 575.1 L1052.3 576.8 L1052.4 577.5 L1052.6 579.4 L1052.7 579.9 L1052.8 582.0 L1052.9 582.9 L1053.0 584.5 L1053.2 584.9 L1053.3 586.3 L1054.1 588.0 L1054.9 588.4 L1055.7 589.3 L1055.8 587.7 L1056.0 587.1 L1056.2 585.4 L1056.4 583.8 L1056.5 582.5 L1056.7 582.2 L1056.9 580.4 L1057.1 579.0 L1057.2 578.4 L1057.3 577.5 L1057.4 575.7 L1057.4 575.2 L1057.5 573.5 L1057.6 572.4 L1057.6 571.9 L1057.7 570.6 L1057.7 569.4 L1057.8 568.4 L1057.9 566.9 L1057.9 566.0 L1058.0 564.6 L1058.1 563.3 L1058.1 561.9 L1058.2 560.8 L1058.2 559.8 L1058.3 558.3 L1058.4 557.6 L1058.4 556.6 L1058.5 555.3 L1058.6 553.6 L1058.6 552.8 L1059.0 550.8 L1059.4 550.2 L1059.8 549.1 L1060.2 548.6 L1060.6 546.8 L1061.2 548.2 L1061.9 549.5 L1062.6 550.8 L1063.2 549.6 L1063.9 548.2 L1064.5 546.8 L1064.8 546.0 L1065.1 544.7 L1065.4 543.5 L1065.7 541.9 L1065.9 540.6 L1066.2 540.0 L1066.5 539.0 L1067.2 538.3 L1067.8 537.0 L1068.5 535.0 L1069.8 534.2 L1071.0 534.0 L1071.4 532.9 L1071.8 531.7 L1072.2 530.4 L1072.6 528.8 L1073.0 528.1 L1073.6 527.3 L1074.2 525.0 L1074.8 524.0 L1075.4 523.2 L1075.6 521.7 L1075.7 520.4 L1075.9 519.2 L1076.0 517.9 L1076.2 517.4 L1076.4 515.7 L1076.5 515.3 L1076.7 514.1 L1076.9 513.0 L1077.0 511.6 L1077.2 510.7 L1077.4 509.3 L1078.2 508.0 L1079.0 507.3 L1079.7 506.4 L1080.6 505.7 L1081.4 504.0 L1082.3 503.4 L1082.7 502.6 L1083.1 501.2 L1083.5 500.6 L1083.9 498.9 L1084.3 497.5 L1084.7 496.4 L1085.1 495.6 L1085.5 493.6 L1085.9 492.6 L1086.2 491.6 L1086.5 490.3 L1086.7 489.7 L1086.9 488.5 L1087.2 486.5 L1087.4 486.5 L1087.6 484.7 L1088.3 484.1 L1089.0 482.0 L1089.6 480.7 L1089.8 480.3 L1090.0 478.5 L1090.3 476.9 L1090.5 475.2 L1090.7 473.9 L1090.9 473.6 L1091.1 472.6 L1091.4 471.3 L1091.6 469.9 L1091.7 469.0 L1091.8 467.4 L1091.9 466.6 L1092.0 465.2 L1092.1 464.0 L1092.2 462.7 L1092.3 461.7 L1092.4 460.3 L1092.5 459.2 L1092.6 457.4 L1092.7 457.1 L1092.8 455.9 L1092.9 454.4 L1093.1 454.0 L1093.2 452.2 L1093.3 450.6 L1093.4 449.9 L1093.5 448.5 L1093.6 447.1 L1093.8 446.4 L1093.9 445.9 L1094.0 443.6 L1094.1 443.3 L1094.3 441.3 L1094.4 440.6 L1094.5 440.2 L1094.6 437.7 L1094.8 437.7 L1094.9 435.2 L1095.0 435.5 L1095.1 433.6 L1095.2 435.3 L1095.3 435.9 L1095.4 437.3 L1095.4 438.3 L1095.5 439.1 L1095.6 440.5 L1095.7 441.8 L1095.7 443.4 L1095.8 443.7 L1095.9 445.4 L1095.9 446.5 L1096.0 447.7 L1096.1 449.2 L1096.2 450.1 L1096.2 451.0 L1096.3 452.4 L1096.4 454.2 L1096.5 454.8 L1096.7 455.5 L1096.8 457.0 L1096.9 458.7 L1097.0 458.6 L1097.1 460.6 L1097.2 461.6 L1097.4 462.4 L1097.5 463.4 L1097.6 464.6 L1097.7 466.2 L1098.0 467.2 L1098.3 468.3 L1098.5 469.7 L1098.8 470.3 L1099.1 472.0 L1099.4 472.9 L1099.7 474.1 L1099.8 475.7 L1100.0 476.9 L1100.2 477.1 L1100.3 479.4 L1100.5 479.9 L1100.7 480.7 L1100.8 481.7 L1101.0 483.6 L1101.1 484.3 L1101.3 485.9 L1101.5 486.3 L1101.6 487.9 L1101.7 487.2 L1101.9 485.1 L1102.0 484.7 L1102.1 483.0 L1102.2 481.7 L1102.3 480.7 L1102.4 479.4 L1102.5 478.2 L1102.6 477.0 L1102.7 476.4 L1102.8 474.9 L1102.9 472.8 L1103.0 472.1 L1103.2 471.7 L1103.3 469.0 L1103.5 467.8 L1103.7 467.9 L1103.8 465.8 L1104.0 464.2 L1104.1 463.3 L1104.3 462.6 L1104.5 462.0 L1104.6 460.3 L1104.9 458.3 L1105.1 457.3 L1105.3 455.8 L1105.6 454.6 L1105.8 453.8 L1106.1 452.8 L1106.3 452.4 L1106.6 450.4 L1106.7 449.4 L1106.8 448.4 L1106.8 446.9 L1106.9 446.1 L1107.0 444.6 L1107.1 442.8 L1107.2 441.8 L1107.3 440.7 L1107.4 439.1 L1107.5 438.8 L1107.5 437.1 L1107.6 435.6 L1107.7 434.7 L1107.8 433.9 L1107.9 432.0 L1108.0 431.2 L1108.1 429.4 L1108.2 428.7 L1108.2 427.2 L1108.3 426.0 L1108.4 425.2 L1108.5 424.3 L1108.6 422.6 L1108.6 421.9 L1108.7 420.7 L1108.8 419.7 L1108.9 418.8 L1109.0 416.9 L1109.1 416.5 L1109.1 414.7 L1109.2 413.6 L1109.3 412.0 L1109.4 410.8 L1109.5 410.3 L1109.5 408.9 L1109.6 407.3 L1109.7 406.0 L1109.8 404.9 L1109.9 404.3 L1110.0 402.6 L1110.1 401.5 L1110.2 401.0 L1110.3 399.4 L1110.4 397.8 L1110.5 397.3 L1110.6 396.5 L1110.6 394.9 L1110.7 393.5 L1110.8 392.4 L1110.9 391.2 L1111.1 390.3 L1111.2 389.3 L1111.4 387.9 L1111.5 385.8 L1111.7 385.5 L1111.8 383.2 L1112.0 382.0 L1112.1 381.3 L1112.2 382.5 L1112.4 383.2 L1112.5 385.0 L1112.7 385.7 L1112.8 387.9 L1112.9 388.3 L1113.1 390.1 L1113.2 391.5 L1113.4 391.9 L1113.5 393.2 L1113.6 394.7 L1113.7 395.5 L1113.8 396.5 L1114.0 397.2 L1114.1 399.1 L1114.2 400.7 L1114.3 401.5 L1114.4 402.1 L1114.5 403.6 L1114.6 404.5 L1114.8 405.7 L1114.9 407.0 L1115.5 408.4 L1116.2 408.2 L1116.8 409.9 L1117.0 411.1 L1117.1 412.4 L1117.2 413.1 L1117.4 415.2 L1117.5 415.7 L1117.6 417.2 L1117.8 418.2 L1117.9 419.9 L1118.0 420.9 L1118.2 422.5 L1118.3 423.4 L1118.4 424.7 L1118.6 426.4 L1118.7 427.3 L1118.9 427.8 L1119.0 429.6 L1119.2 430.4 L1119.3 431.7 L1119.5 434.0 L1119.6 434.4 L1119.8 436.1 L1119.9 436.3 L1120.1 438.3 L1120.2 438.7 L1120.4 440.5 L1120.5 441.4 L1120.5 442.5 L1120.6 443.5 L1120.7 445.7 L1120.8 447.0 L1120.9 447.5 L1120.9 448.3 L1121.0 450.3 L1121.1 451.4 L1121.2 451.8 L1121.3 453.9 L1121.3 454.2 L1121.4 455.6 L1121.5 457.4 L1121.6 458.6 L1121.7 459.2 L1121.7 460.7 L1121.8 462.2 L1121.9 463.1 L1122.0 464.2 L1122.1 465.0 L1122.1 466.1 L1122.2 467.4 L1122.3 469.0 L1122.4 470.1 L1122.5 469.1 L1122.6 467.8 L1122.6 466.8 L1122.7 465.6 L1122.8 464.5 L1122.9 463.0 L1123.0 462.4 L1123.1 460.9 L1123.2 460.2 L1123.3 459.1 L1123.4 457.8 L1123.5 456.5 L1123.6 455.3 L1123.7 453.9 L1123.8 452.4 L1123.9 451.0 L1124.0 450.4 L1124.0 449.4 L1124.1 447.7 L1124.2 446.9 L1124.3 445.6 L1124.3 444.5 L1124.4 443.1 L1124.5 441.7 L1124.6 440.5 L1124.6 439.8 L1124.7 438.8 L1124.8 436.9 L1124.9 435.7 L1124.9 434.7 L1125.0 433.4 L1125.1 432.4 L1125.2 431.4 L1125.3 430.2 L1125.3 428.7 L1125.5 427.9 L1125.7 426.6 L1125.8 425.7 L1126.0 423.7 L1126.2 422.4 L1126.4 421.5 L1126.5 419.8 L1126.7 418.8 L1126.8 418.0 L1126.9 416.3 L1127.0 415.3 L1127.1 414.0 L1127.1 412.6 L1127.2 411.0 L1127.3 410.1 L1127.4 409.1 L1127.5 408.5 L1127.6 406.3 L1127.7 406.0 L1127.8 404.9 L1127.9 403.5 L1127.9 401.7 L1128.0 400.1 L1128.1 400.0 L1128.2 397.8 L1128.3 397.1 L1128.4 395.7 L1128.5 395.4 L1128.6 393.9 L1128.7 392.9 L1128.8 391.8 L1128.9 389.8 L1129.0 389.1 L1129.1 387.4 L1129.2 386.6 L1129.3 385.6 L1129.4 384.9 L1129.5 383.3 L1129.5 384.2 L1129.6 385.8 L1129.6 386.4 L1129.7 387.7 L1129.7 388.7 L1129.8 390.4 L1129.8 391.5 L1129.9 392.8 L1130.0 393.7 L1130.0 395.4 L1130.1 396.3 L1130.1 397.4 L1130.2 398.8 L1130.2 399.3 L1130.3 400.6 L1130.3 402.0 L1130.4 403.2 L1130.4 404.7 L1130.5 405.6 L1130.6 406.2 L1130.6 408.2 L1130.7 408.9 L1130.7 410.1 L1130.8 410.9 L1130.9 412.7 L1130.9 413.7 L1131.0 415.1 L1131.1 416.0 L1131.1 416.8 L1131.2 418.2 L1131.3 419.4 L1131.4 420.4 L1131.4 421.8 L1131.5 422.5 L1131.6 423.8 L1131.6 424.8 L1131.7 425.8 L1131.8 427.5 L1131.8 428.7 L1131.9 430.1 L1132.0 430.9 L1132.1 432.6 L1132.2 433.5 L1132.2 434.7 L1132.3 435.4 L1132.4 437.3 L1132.5 437.8 L1132.6 439.5 L1132.7 440.0 L1132.7 442.0 L1132.8 442.8 L1132.9 443.4 L1133.0 445.2 L1133.1 445.7 L1133.1 447.1 L1133.2 448.4 L1133.5 449.5 L1133.7 450.6 L1134.0 451.9 L1134.2 452.8 L1134.5 454.4 L1134.7 455.2 L1135.0 457.5 L1135.2 458.3 L1135.9 457.1 L1136.6 456.3 L1136.7 457.8 L1136.8 458.5 L1137.0 460.5 L1137.1 461.5 L1137.2 462.4 L1137.4 463.8 L1137.5 465.0 L1137.6 466.2 L1137.8 466.5 L1137.9 468.0 L1138.0 468.3 L1138.2 470.1 L1138.3 471.1 L1138.4 472.3 L1138.5 473.8 L1138.6 474.2 L1138.7 476.4 L1138.8 476.7 L1138.9 478.3 L1139.0 479.6 L1139.1 481.2 L1139.2 482.1 L1139.3 482.7 L1139.4 484.6 L1139.5 485.2 L1139.6 486.9 L1139.7 487.9 L1139.9 488.9 L1140.0 490.8 L1140.1 491.3 L1140.2 492.2 L1140.3 493.4 L1140.4 495.5 L1140.5 495.7 L1140.7 496.7 L1140.8 498.3 L1140.9 499.7 L1141.0 501.2 L1141.1 501.7 L1141.5 502.3 L1141.8 503.9 L1142.2 505.8 L1142.5 506.6 L1142.6 505.5 L1142.7 504.5 L1142.8 503.4 L1142.9 501.4 L1143.0 500.2 L1143.1 499.2 L1143.2 498.2 L1143.3 496.8 L1143.4 495.8 L1143.5 494.4 L1143.6 493.1 L1143.7 492.6 L1143.8 491.7 L1143.9 489.8 L1144.0 488.5 L1144.1 487.9 L1144.2 487.0 L1144.3 485.0 L1144.4 483.9 L1144.5 483.2 L1144.6 481.8 L1144.7 481.2 L1144.8 479.7 L1144.9 478.5 L1145.0 477.2 L1145.1 475.6 L1145.2 475.4 L1145.3 473.7 L1145.4 473.1 L1145.5 471.0 L1145.6 470.2 L1145.7 469.1 L1147.0 470.1 L1147.1 471.4 L1147.2 472.1 L1147.3 473.1 L1147.4 475.4 L1147.5 476.6 L1147.6 477.9 L1147.7 478.5 L1147.8 479.9 L1147.9 480.9 L1148.0 481.9 L1148.1 482.7 L1148.1 484.5 L1148.2 485.5 L1148.3 486.9 L1148.4 487.9 L1148.7 488.3 L1149.0 489.8 L1149.3 490.7 L1149.5 492.8 L1149.8 493.5 L1150.1 494.3 L1150.4 495.8 L1151.0 497.6 L1151.7 498.5 L1152.4 499.7 L1153.0 498.1 L1153.7 496.9 L1154.3 495.8 L1155.0 496.3 L1155.7 497.7 L1156.3 499.7 L1156.5 497.8 L1156.6 498.1 L1156.8 496.8 L1156.9 495.1 L1157.1 494.5 L1157.3 492.7 L1157.4 491.7 L1157.6 489.6 L1157.7 489.0 L1157.9 487.9 L1158.3 486.8 L1158.7 485.3 L1159.1 484.4 L1159.5 483.0 L1159.7 483.9 L1159.9 485.6 L1160.1 486.1 L1160.4 487.8 L1160.6 488.9 L1160.8 490.2 L1161.0 490.7 L1161.2 492.2 L1161.5 493.8 L1161.7 493.0 L1161.9 490.9 L1162.1 490.2 L1162.3 489.8 L1162.5 488.0 L1162.8 487.0 L1163.0 485.8 L1163.2 484.9 L1163.4 483.0 L1164.6 481.8 L1165.8 481.0 L1166.3 482.1 L1166.8 483.9 L1167.3 483.9 L1167.8 485.9 L1168.0 487.1 L1168.3 488.0 L1168.5 489.7 L1168.8 491.2 L1169.0 492.7 L1169.2 493.3 L1169.5 494.9 L1169.7 495.8 L1170.4 496.1 L1171.1 498.0 L1171.7 498.8 L1172.4 498.5 L1173.0 497.0 L1173.7 495.8 L1173.9 497.0 L1174.2 498.3 L1174.4 499.4 L1174.7 500.2 L1174.9 501.5 L1175.2 503.7 L1175.4 504.5 L1175.7 505.7 L1175.9 503.8 L1176.2 503.6 L1176.5 502.8 L1176.8 501.4 L1177.1 499.5 L1177.3 499.6 L1177.6 497.8 L1177.8 496.1 L1178.0 495.5 L1178.1 494.2 L1178.3 492.6 L1178.5 491.6 L1178.6 490.4 L1178.8 489.2 L1179.0 487.8 L1179.1 487.6 L1179.3 486.5 L1179.4 484.7 L1179.6 483.9 L1180.6 483.7 L1181.6 482.0 L1181.9 483.0 L1182.1 484.2 L1182.4 486.0 L1182.7 486.7 L1183.0 487.6 L1183.3 489.1 L1183.5 489.9 L1183.7 489.1 L1183.9 487.2 L1184.1 485.7 L1184.3 485.6 L1184.5 484.4 L1184.6 483.0 L1184.8 481.1 L1185.0 480.9 L1185.2 478.9 L1185.3 478.7 L1185.5 477.0 L1185.7 478.5 L1185.9 479.7 L1186.0 480.1 L1186.2 481.8 L1186.4 483.6 L1186.5 483.8 L1186.7 484.9 L1186.8 486.8 L1187.0 488.7 L1187.2 489.6 L1187.3 490.2 L1187.5 491.8 L1188.0 490.0 L1188.4 490.0 L1188.9 488.8 L1189.4 487.4 L1189.9 485.9 L1191.2 486.4 L1192.4 487.9 L1192.7 487.1 L1193.0 484.7 L1193.3 483.7 L1193.6 482.8 L1193.9 482.6 L1194.1 479.9 L1194.4 478.9 L1194.7 478.6 L1195.0 477.0 L1195.3 478.6 L1195.7 479.0 L1196.0 479.8 L1196.3 482.2 L1196.6 483.6 L1197.0 483.9 L1197.1 485.8 L1197.3 486.4 L1197.5 486.7 L1197.6 488.9 L1197.8 489.9 L1198.0 491.4 L1198.1 492.4 L1198.3 493.2 L1198.5 495.1 L1198.6 495.4 L1198.8 496.5 L1199.0 497.8 L1199.3 496.8 L1199.7 495.9 L1200.1 494.3 L1200.5 493.7 L1200.9 491.8 L1201.3 490.2 L1201.6 490.0 L1202.0 488.7 L1202.3 486.9 L1202.5 487.9 L1202.7 488.6 L1203.0 490.7 L1203.2 491.9 L1203.4 493.7 L1203.6 494.2 L1203.8 495.7 L1204.1 497.0 L1204.3 497.8 L1204.4 498.5 L1204.4 500.3 L1204.5 501.1 L1204.6 502.0 L1204.7 503.2 L1204.8 504.5 L1204.9 506.1 L1204.9 507.0 L1205.0 507.9 L1205.1 508.7 L1205.2 510.8 L1205.3 511.9 L1205.3 513.1 L1205.4 514.2 L1205.5 514.5 L1205.6 515.9 L1205.7 517.3 L1205.8 518.2 L1205.8 520.0 L1205.9 520.4 L1206.0 521.4 L1206.1 523.0 L1206.2 523.7 L1206.2 525.4 L1206.6 523.5 L1207.0 523.2 L1207.4 522.0 L1207.8 520.7 L1208.2 519.5 L1208.7 520.1 L1209.1 522.2 L1209.6 523.4 L1209.7 522.3 L1209.7 520.9 L1209.7 519.7 L1209.8 518.4 L1209.8 517.5 L1209.9 516.3 L1209.9 515.3 L1209.9 514.2 L1210.0 512.7 L1210.0 511.8 L1210.1 510.3 L1210.1 509.6 L1210.2 507.9 L1210.2 507.1 L1210.2 506.0 L1210.3 504.9 L1210.3 503.5 L1210.4 502.7 L1210.4 501.6 L1210.5 500.2 L1210.5 498.6 L1210.5 497.4 L1210.6 496.5 L1210.6 494.9 L1210.7 493.8 L1210.7 492.5 L1210.8 491.9 L1210.8 490.5 L1210.8 489.8 L1210.9 488.5 L1210.9 487.1 L1211.0 485.7 L1211.0 484.5 L1211.1 483.1 L1211.1 482.0 L1211.1 481.5 L1211.2 480.0 L1211.8 478.4 L1212.5 476.6 L1213.2 476.1 L1214.1 475.8 L1215.1 474.1 L1215.3 475.1 L1215.5 477.0 L1215.7 477.7 L1215.9 479.8 L1216.1 479.6 L1216.3 481.4 L1216.5 483.0 L1216.7 483.9 L1216.8 484.4 L1217.0 487.0 L1217.1 487.3 L1217.2 489.0 L1217.4 489.2 L1217.5 490.4 L1217.6 491.6 L1217.8 493.9 L1217.9 495.3 L1218.0 496.4 L1218.2 497.0 L1218.3 497.5 L1218.4 499.8 L1218.5 500.5 L1218.7 501.7 L1218.7 500.9 L1218.8 499.5 L1218.9 498.3 L1219.0 496.7 L1219.0 495.5 L1219.1 494.3 L1219.2 493.5 L1219.2 492.2 L1219.3 491.8 L1219.4 489.6 L1219.4 489.3 L1219.5 487.4 L1219.6 486.2 L1219.6 486.0 L1219.7 484.0 L1219.8 483.3 L1219.8 482.1 L1219.9 480.8 L1220.0 479.6 L1220.0 478.2 L1220.1 477.6 L1220.2 476.1 L1220.3 475.2 L1220.3 474.3 L1220.4 472.3 L1220.5 471.5 L1220.5 470.3 L1220.6 469.8 L1220.7 468.2 L1220.9 467.2 L1221.2 465.4 L1221.5 464.7 L1221.8 462.9 L1222.1 462.5 L1222.3 460.7 L1222.6 460.3 L1222.8 458.5 L1223.0 457.9 L1223.2 456.8 L1223.4 455.1 L1223.6 454.5 L1223.8 452.9 L1224.0 452.3 L1224.2 450.1 L1224.4 450.2 L1224.6 448.4 L1225.0 447.1 L1225.3 445.4 L1225.6 444.4 L1226.0 443.5 L1227.4 444.5 L1227.5 445.8 L1227.6 446.3 L1227.6 448.5 L1227.7 448.8 L1227.8 450.2 L1227.9 450.9 L1228.0 452.5 L1228.1 454.3 L1228.2 454.5 L1228.3 455.7 L1228.4 457.3 L1228.5 458.6 L1228.6 459.1 L1228.7 460.4 L1228.8 462.0 L1228.9 462.7 L1229.0 464.2 L1229.6 464.8 L1230.3 467.2 L1230.9 468.2 L1231.0 467.5 L1231.2 466.3 L1231.3 465.2 L1231.4 463.1 L1231.5 462.1 L1231.6 461.3 L1231.7 460.2 L1231.8 459.1 L1232.0 457.8 L1232.1 456.2 L1232.2 455.0 L1232.3 453.6 L1232.4 452.4 L1232.5 452.0 L1232.7 450.2 L1232.8 450.1 L1232.9 448.4 L1233.5 448.2 L1234.2 445.9 L1234.9 445.5 L1236.2 444.5 L1236.3 446.2 L1236.4 447.0 L1236.5 447.5 L1236.6 449.1 L1236.6 450.2 L1236.7 451.4 L1236.8 452.3 L1236.9 453.6 L1237.0 454.6 L1237.0 456.3 L1237.1 457.5 L1237.2 458.4 L1237.3 460.4 L1237.4 461.5 L1237.4 462.2 L1237.5 463.8 L1237.6 464.4 L1237.7 466.1 L1237.8 467.3 L1237.8 468.2 L1237.9 469.2 L1237.9 470.7 L1238.0 471.5 L1238.1 472.5 L1238.1 473.9 L1238.2 474.7 L1238.2 476.5 L1238.3 477.2 L1238.4 478.6 L1238.4 480.1 L1238.5 481.0 L1238.5 482.5 L1238.6 483.5 L1238.6 484.6 L1238.7 485.8 L1238.8 486.9 L1238.8 488.3 L1238.9 489.2 L1238.9 490.4 L1239.0 491.4 L1239.0 492.6 L1239.1 494.1 L1239.2 494.7 L1239.2 495.7 L1239.3 497.2 L1239.3 498.2 L1239.4 499.7 L1239.5 500.8 L1239.5 501.3 L1239.6 502.7 L1239.6 504.3 L1239.7 505.2 L1239.7 506.7 L1239.8 507.6 L1240.0 508.8 L1240.2 509.4 L1240.4 511.5 L1240.6 513.1 L1240.8 512.9 L1241.0 514.9 L1241.2 516.1 L1241.4 517.3 L1241.6 518.3 L1241.8 519.5 L1242.1 520.8 L1242.3 522.8 L1242.6 523.9 L1242.9 524.4 L1243.2 526.3 L1243.5 527.4 L1243.8 528.4 L1243.9 527.7 L1244.1 526.8 L1244.3 524.2 L1244.5 523.2 L1244.6 522.1 L1244.8 521.9 L1245.0 520.9 L1245.2 518.6 L1245.4 517.8 L1245.5 517.3 L1245.7 515.5 L1245.9 514.7 L1246.1 513.4 L1246.4 512.7 L1246.6 511.6 L1246.8 509.1 L1247.0 509.4 L1247.2 507.1 L1247.4 506.5 L1247.6 505.6 L1247.9 503.7 L1248.1 502.6 L1248.3 501.7 L1248.6 503.6 L1249.0 504.7 L1249.3 506.3 L1249.6 506.1 L1250.0 508.3 L1250.3 509.7 L1250.7 510.6 L1250.8 510.0 L1250.9 508.5 L1251.0 506.7 L1251.1 505.3 L1251.2 504.2 L1251.3 503.1 L1251.4 502.3 L1251.5 500.8 L1251.6 499.4 L1251.7 498.1 L1251.8 497.7 L1251.9 496.7 L1252.0 494.6 L1252.1 493.9 L1252.2 493.3 L1252.3 491.3 L1252.4 490.3 L1252.5 489.5 L1252.6 487.9 L1252.8 485.9 L1252.9 486.1 L1253.1 484.7 L1253.2 483.4 L1253.4 481.6 L1253.5 480.6 L1253.7 480.1 L1253.8 477.5 L1254.0 476.3 L1254.2 476.0 L1254.3 475.3 L1254.5 472.8 L1254.6 472.1 L1254.8 470.4 L1254.9 469.6 L1255.1 468.9 L1255.2 467.4 L1255.4 466.3 L1255.5 464.1 L1255.7 463.1 L1255.8 462.5 L1256.0 461.5 L1256.1 459.3 L1256.3 458.1 L1256.4 457.2 L1256.6 456.3 L1256.7 455.0 L1256.8 453.8 L1256.9 452.4 L1257.0 451.1 L1257.2 450.7 L1257.3 450.0 L1257.4 448.4 L1257.5 447.6 L1257.6 445.3 L1257.7 444.9 L1257.9 443.4 L1258.0 442.9 L1258.1 441.4 L1258.2 440.2 L1258.3 439.5 L1258.4 438.4 L1258.5 436.6 L1258.7 434.8 L1258.9 434.1 L1259.0 432.3 L1259.2 431.8 L1259.3 430.1 L1259.5 429.6 L1259.6 427.8 L1259.8 426.1 L1259.9 426.3 L1260.1 423.8 L1260.2 422.8 L1260.4 422.0 L1260.5 420.8 L1261.0 418.9 L1261.5 418.9 L1261.9 417.6 L1262.4 415.4 L1262.9 414.9 L1263.0 416.2 L1263.1 416.7 L1263.2 418.5 L1263.3 419.1 L1263.4 420.5 L1263.5 421.9 L1263.6 423.2 L1263.7 424.5 L1263.8 426.1 L1263.9 426.5 L1264.0 427.7 L1264.2 428.7 L1264.3 430.6 L1264.4 431.3 L1264.5 432.6 L1264.6 433.4 L1264.7 434.6 L1264.7 436.0 L1264.8 437.7 L1264.9 438.4 L1265.0 440.0 L1265.1 440.8 L1265.2 442.1 L1265.3 442.8 L1265.4 444.2 L1265.5 445.7 L1265.5 446.1 L1265.6 447.7 L1265.7 448.7 L1265.8 449.9 L1265.9 451.1 L1266.0 452.1 L1266.1 453.7 L1266.2 454.2 L1266.3 455.6 L1266.4 456.8 L1266.5 458.3 L1266.6 459.0 L1266.7 461.1 L1266.8 462.1 L1266.9 463.5 L1267.0 463.7 L1267.1 465.0 L1267.2 466.3 L1267.3 467.8 L1267.4 469.4 L1267.5 470.6 L1267.6 471.8 L1267.7 471.8 L1267.8 473.0 L1267.9 474.6 L1268.0 476.1 L1269.2 476.9 L1270.4 478.0 L1270.5 476.2 L1270.6 475.5 L1270.7 474.0 L1270.8 473.8 L1270.9 471.7 L1271.0 470.7 L1271.1 469.3 L1271.2 469.0 L1271.3 466.9 L1271.4 466.1 L1271.5 464.6 L1271.6 463.5 L1271.7 463.3 L1271.8 461.7 L1271.9 460.6 L1272.0 458.9 L1272.1 458.5 L1272.2 457.3 L1272.3 455.7 L1272.4 454.3 L1273.0 454.9 L1273.6 455.6 L1274.1 457.4 L1274.7 458.3 L1275.1 457.0 L1275.4 456.4 L1275.7 455.4 L1276.0 453.9 L1276.3 451.7 L1276.7 451.7 L1277.0 449.8 L1277.3 448.4 L1277.6 448.8 L1277.9 450.2 L1278.1 452.5 L1278.4 453.4 L1278.7 454.4 L1279.0 455.5 L1279.3 456.3 L1279.5 454.4 L1279.7 454.6 L1279.9 452.4 L1280.1 452.0 L1280.3 450.5 L1280.5 449.2 L1280.7 448.1 L1280.9 447.5 L1281.1 446.2 L1281.2 444.5 L1281.4 445.5 L1281.6 447.5 L1281.7 447.7 L1281.9 449.2 L1282.1 450.4 L1282.2 451.2 L1282.4 453.0 L1282.6 453.5 L1282.7 456.3 L1282.9 457.3 L1283.1 458.0 L1283.2 459.3 L1283.3 457.6 L1283.4 456.6 L1283.5 456.1 L1283.6 454.3 L1283.7 452.9 L1283.7 452.2 L1283.8 451.2 L1283.9 449.4 L1284.0 448.6 L1284.1 447.6 L1284.2 446.7 L1284.3 445.1 L1284.3 444.6 L1284.4 442.6 L1284.5 442.0 L1284.6 440.5 L1284.8 438.7 L1285.1 438.9 L1285.3 437.2 L1285.5 435.5 L1285.7 435.4 L1286.0 434.4 L1286.2 432.6 L1286.3 430.9 L1286.5 430.9 L1286.7 429.8 L1286.8 427.7 L1287.0 427.2 L1287.1 425.9 L1287.3 424.4 L1287.4 423.0 L1287.6 421.7 L1287.8 420.8 L1288.2 422.5 L1288.6 423.6 L1288.9 425.1 L1289.3 424.8 L1289.7 426.7 L1290.0 425.2 L1290.3 423.6 L1290.4 422.7 L1290.6 420.7 L1290.7 419.2 L1290.9 419.4 L1291.0 418.1 L1291.2 416.8 L1291.4 415.0 L1291.5 414.0 L1291.7 413.4 L1291.8 411.7 L1292.0 409.8 L1292.2 409.6 L1292.4 408.3 L1292.6 406.7 L1292.8 406.3 L1293.0 404.5 L1293.2 403.7 L1293.4 401.8 L1293.5 400.3 L1293.6 399.4 L1293.6 398.1 L1293.7 397.1 L1293.7 396.2 L1293.8 395.3 L1293.9 394.1 L1293.9 392.8 L1294.0 391.8 L1294.1 390.4 L1294.1 389.2 L1294.2 387.8 L1296.2 387.8 L1296.4 388.3 L1296.5 390.0 L1296.7 391.3 L1296.9 391.9 L1297.0 394.4 L1297.2 394.8 L1297.4 395.8 L1297.6 396.7 L1297.7 398.6 L1297.9 399.5 L1298.1 401.7 L1298.2 402.4 L1298.4 403.3 L1298.6 404.0 L1298.8 405.8 L1298.8 406.4 L1298.9 408.4 L1299.0 409.4 L1299.1 410.5 L1299.2 411.7 L1299.3 412.7 L1299.4 414.5 L1299.4 414.6 L1299.5 416.0 L1299.6 417.9 L1299.7 418.5 L1299.8 419.6 L1299.9 420.9 L1300.0 421.9 L1300.0 423.7 L1300.1 424.5 L1300.3 422.7 L1300.4 422.3 L1300.6 421.4 L1300.7 419.6 L1300.8 419.1 L1301.0 417.3 L1301.1 416.6 L1301.3 414.6 L1301.4 413.8 L1301.6 413.0 L1301.7 411.7 L1302.4 413.2 L1303.0 414.3 L1303.7 415.7 L1304.2 413.7 L1304.7 413.3 L1305.2 412.5 L1305.7 410.7 L1305.9 411.6 L1306.2 412.8 L1306.5 414.7 L1306.8 415.4 L1307.1 416.4 L1307.3 417.7 L1307.6 419.6 L1308.0 418.7 L1308.3 417.9 L1308.6 416.6 L1309.0 415.1 L1309.3 414.5 L1309.6 412.7 L1309.8 414.4 L1310.0 414.7 L1310.2 416.1 L1310.4 418.2 L1310.6 419.3 L1310.8 420.0 L1311.0 421.2 L1311.2 421.9 L1311.4 422.7 L1311.6 424.5 L1312.1 425.5 L1312.6 426.6 L1313.1 428.4 L1313.5 429.5 L1313.7 430.9 L1313.9 432.0 L1314.0 433.7 L1314.2 433.4 L1314.3 434.9 L1314.5 435.9 L1314.7 437.6 L1314.8 439.6 L1315.0 440.1 L1315.1 441.3 L1315.3 440.6 L1315.4 438.4 L1315.6 437.5 L1315.7 437.0 L1315.8 435.0 L1316.0 434.5 L1316.1 433.1 L1316.3 432.0 L1316.4 429.8 L1316.5 429.1 L1316.7 428.9 L1316.8 426.7 L1317.0 425.4 L1317.1 424.5 L1317.4 426.5 L1317.8 427.0 L1318.1 428.3 L1318.4 429.1 L1318.8 430.5 L1319.1 431.4 L1319.4 430.0 L1319.6 428.6 L1319.9 427.3 L1320.2 425.9 L1320.5 425.4 L1320.8 423.2 L1321.0 422.6 L1321.8 421.0 L1322.6 420.6 L1323.4 419.6 L1324.0 419.2 L1324.6 417.6 L1325.2 416.2 L1325.8 414.7 L1326.1 416.2 L1326.4 416.5 L1326.8 418.1 L1327.1 418.5 L1327.4 420.5 L1327.8 421.6 L1327.9 422.0 L1328.1 423.3 L1328.3 424.4 L1328.4 425.9 L1328.6 427.3 L1328.8 428.0 L1328.9 429.0 L1329.1 430.2 L1329.2 432.7 L1329.4 433.9 L1329.6 434.9 L1329.7 435.4 L1329.9 433.7 L1330.0 432.6 L1330.1 432.4 L1330.3 429.9 L1330.4 428.9 L1330.5 428.5 L1330.7 427.8 L1330.8 426.6 L1330.9 425.3 L1331.1 423.3 L1331.2 422.7 L1331.3 421.8 L1331.4 420.6 L1331.6 419.5 L1331.7 417.6 L1331.8 419.1 L1331.8 420.3 L1331.9 421.3 L1331.9 422.2 L1332.0 423.6 L1332.1 425.1 L1332.1 425.9 L1332.2 426.5 L1332.2 428.1 L1332.3 429.7 L1332.4 430.7 L1332.4 431.6 L1332.5 433.3 L1332.5 434.3 L1332.6 434.9 L1332.6 436.5 L1332.7 437.9 L1332.8 438.2 L1332.8 440.3 L1332.9 441.0 L1332.9 442.5 L1333.0 442.9 L1333.1 444.3 L1333.1 445.5 L1333.2 446.6 L1333.2 448.2 L1333.3 449.2 L1333.4 450.7 L1333.4 451.8 L1333.5 453.2 L1333.6 453.6 L1333.6 454.9 L1333.7 456.3 L1333.8 457.9 L1333.8 459.0 L1333.9 460.5 L1333.9 461.5 L1334.0 462.4 L1334.1 463.8 L1334.1 465.1 L1334.2 465.9 L1334.3 467.3 L1334.3 468.7 L1334.4 469.8 L1334.5 470.3 L1334.5 471.4 L1334.6 473.3 L1334.7 474.6 L1334.7 475.1 L1334.8 477.0 L1334.9 477.8 L1334.9 476.9 L1335.0 475.1 L1335.1 473.9 L1335.2 473.2 L1335.2 472.0 L1335.3 470.3 L1335.4 469.9 L1335.5 468.0 L1335.5 467.4 L1335.6 466.4 L1335.7 464.3 L1335.7 463.7 L1335.8 462.4 L1335.9 461.6 L1336.0 459.8 L1336.0 458.6 L1336.1 457.2 L1336.2 456.7 L1336.2 455.1 L1336.3 453.8 L1336.4 453.2 L1336.4 451.1 L1336.5 450.8 L1336.5 448.7 L1336.6 448.2 L1336.6 447.3 L1336.7 445.5 L1336.7 444.6 L1336.8 443.2 L1336.9 441.7 L1336.9 441.3 L1337.0 439.7 L1337.0 438.9 L1337.1 436.9 L1337.1 435.9 L1337.2 434.7 L1337.2 434.1 L1337.3 432.2 L1337.4 431.0 L1337.4 430.1 L1337.5 429.0 L1337.5 428.2 L1337.6 427.1 L1337.6 425.5 L1338.2 423.8 L1338.7 423.3 L1339.2 421.6 L1339.3 422.6 L1339.4 424.4 L1339.5 425.4 L1339.6 425.8 L1339.8 427.6 L1339.9 428.7 L1340.0 430.0 L1340.1 431.3 L1340.2 432.7 L1340.3 433.5 L1340.4 434.9 L1340.5 436.5 L1340.6 437.5 L1340.7 438.0 L1340.9 439.2 L1341.0 440.6 L1341.1 442.7 L1341.2 443.3 L1341.3 442.0 L1341.3 441.4 L1341.4 440.3 L1341.5 438.8 L1341.6 437.2 L1341.7 436.5 L1341.7 435.0 L1341.8 434.3 L1341.9 432.6 L1342.0 431.6 L1342.0 430.5 L1342.1 429.2 L1342.2 427.5 L1342.3 426.8 L1342.4 425.4 L1342.4 424.6 L1342.5 423.5 L1342.6 421.6 L1342.7 420.6 L1342.8 419.6 L1342.9 418.0 L1343.0 418.0 L1343.2 416.0 L1343.3 414.8 L1343.5 414.4 L1343.6 412.9 L1343.7 411.9 L1343.9 410.1 L1344.0 408.4 L1344.1 407.8 L1345.1 408.5 L1346.1 409.7 L1346.4 410.3 L1346.6 412.0 L1346.9 413.4 L1347.1 414.6 L1347.4 416.7 L1347.6 417.2 L1347.8 417.8 L1348.1 419.6 L1348.3 417.9 L1348.4 417.6 L1348.6 416.2 L1348.8 414.9 L1348.9 413.8 L1349.1 412.6 L1349.2 411.8 L1349.4 410.5 L1349.6 408.5 L1349.7 408.1 L1349.9 406.5 L1350.1 405.8 L1350.2 407.1 L1350.3 408.2 L1350.4 409.8 L1350.5 411.2 L1350.6 412.1 L1350.7 413.2 L1350.8 414.2 L1350.9 414.9 L1351.1 417.0 L1351.2 417.4 L1351.3 418.9 L1351.4 420.4 L1351.5 421.1 L1351.6 423.2 L1351.7 423.9 L1351.8 425.7 L1351.9 425.6 L1352.0 427.5 L1352.3 426.3 L1352.6 425.0 L1352.9 424.2 L1353.2 423.2 L1353.4 422.0 L1353.7 421.4 L1354.0 419.6 L1354.1 418.4 L1354.1 417.1 L1354.2 416.4 L1354.3 415.0 L1354.3 413.5 L1354.4 413.1 L1354.4 411.2 L1354.5 409.8 L1354.6 409.2 L1354.6 408.4 L1354.7 407.2 L1354.8 405.9 L1354.8 404.6 L1354.9 403.3 L1355.0 401.9 L1355.0 400.6 L1355.1 399.7 L1355.1 399.0 L1355.2 397.5 L1355.3 396.8 L1355.3 395.4 L1355.4 393.9 L1356.2 392.9 L1357.0 391.7 L1357.1 393.0 L1357.2 393.9 L1357.4 395.8 L1357.5 396.8 L1357.6 397.0 L1357.8 399.2 L1357.9 400.0 L1358.0 400.7 L1358.2 402.5 L1358.3 403.1 L1358.4 404.7 L1358.5 405.5 L1358.7 406.7 L1358.8 408.1 L1359.0 409.7 L1359.1 410.9 L1359.2 411.4 L1359.4 412.5 L1359.5 414.2 L1359.7 415.3 L1359.8 415.6 L1359.9 417.4 L1360.0 416.2 L1360.1 414.8 L1360.2 414.1 L1360.3 412.3 L1360.3 411.3 L1360.4 410.1 L1360.5 409.0 L1360.6 408.2 L1360.7 407.4 L1360.7 405.9 L1360.8 404.8 L1360.9 403.7 L1361.0 402.1 L1361.1 401.0 L1361.2 400.1 L1361.2 398.4 L1361.3 397.6 L1361.4 396.7 L1361.4 395.7 L1361.4 394.5 L1361.5 392.6 L1361.5 392.2 L1361.5 390.4 L1361.6 389.2 L1361.6 388.4 L1361.6 387.1 L1361.7 385.8 L1361.7 385.0 L1361.7 383.7 L1361.8 382.6 L1361.8 381.4 L1361.8 380.3 L1361.9 379.3 L1361.9 378.1 L1361.9 376.9 L1362.0 375.8 L1362.0 374.4 L1362.0 373.4 L1362.1 371.8 L1362.1 370.6 L1362.2 369.7 L1362.2 368.8 L1362.2 367.2 L1362.3 366.7 L1362.3 364.9 L1362.3 364.0 L1362.4 362.8 L1362.4 362.0 L1362.4 360.2 L1362.5 359.1 L1362.5 358.2 L1362.6 357.1 L1362.6 355.7 L1362.7 354.5 L1362.7 353.2 L1362.8 352.8 L1362.8 351.2 L1362.9 350.2 L1363.0 348.7 L1363.0 348.2 L1363.1 346.2 L1363.1 345.7 L1363.2 343.9 L1363.2 343.2 L1363.3 341.9 L1363.4 341.3 L1363.4 339.7 L1363.5 338.9 L1363.5 337.0 L1363.6 336.0 L1363.7 335.6 L1363.7 333.9 L1363.8 332.4 L1363.8 331.4 L1363.9 330.5 L1364.0 331.5 L1364.2 332.9 L1364.3 333.9 L1364.4 335.0 L1364.6 336.4 L1364.7 337.6 L1364.8 338.3 L1365.0 340.0 L1365.1 341.3 L1365.3 342.4 L1365.3 343.6 L1365.4 344.9 L1365.4 345.8 L1365.5 346.7 L1365.5 348.5 L1365.6 348.9 L1365.6 350.2 L1365.7 351.5 L1365.7 352.6 L1365.8 353.6 L1365.8 355.4 L1365.9 356.0 L1365.9 357.4 L1366.0 358.6 L1366.0 359.3 L1366.1 360.7 L1366.1 361.6 L1366.2 363.1 L1366.2 364.5 L1366.3 365.7 L1366.3 367.0 L1366.4 367.3 L1366.4 368.8 L1366.5 370.0 L1366.5 371.4 L1366.6 372.2 L1366.7 374.1 L1366.8 374.7 L1366.9 376.4 L1367.0 376.6 L1367.1 378.1 L1367.2 379.7 L1367.3 381.1 L1367.4 381.8 L1367.5 383.5 L1367.6 384.5 L1367.6 385.3 L1367.7 386.8 L1367.8 387.8 L1367.9 389.0 L1368.0 389.6 L1368.1 391.8 L1368.2 392.9 L1368.3 394.2 L1368.4 394.5 L1368.5 396.4 L1368.6 396.7 L1368.7 398.4 L1368.8 399.4 L1368.8 400.8 L1368.9 401.8 L1369.0 403.2 L1369.1 404.3 L1369.2 405.5 L1369.4 407.1 L1369.5 408.1 L1369.6 408.7 L1369.8 409.7 L1369.9 410.9 L1370.1 412.3 L1370.2 413.6 L1370.4 414.9 L1370.5 416.5 L1370.6 418.0 L1370.8 418.4 L1371.1 416.8 L1371.3 415.7 L1371.6 414.9 L1371.8 413.0 L1372.1 412.8 L1372.4 411.4 L1372.5 409.6 L1372.6 409.3 L1372.7 408.1 L1372.8 406.7 L1372.9 406.4 L1373.1 404.3 L1373.2 402.7 L1373.3 401.7 L1373.4 400.7 L1373.5 400.3 L1373.6 399.1 L1373.8 397.6 L1373.8 396.3 L1373.9 395.8 L1374.0 393.7 L1374.1 392.7 L1374.2 391.9 L1374.2 390.7 L1374.3 389.8 L1374.4 388.1 L1374.5 387.7 L1374.6 386.2 L1374.6 385.1 L1374.7 383.8 L1374.8 382.2 L1374.9 381.4 L1375.0 380.7 L1375.0 378.5 L1375.1 377.9 L1375.3 376.4 L1375.4 375.2 L1375.6 373.9 L1375.8 373.6 L1375.9 372.2 L1376.1 370.2 L1376.2 369.9 L1376.4 369.0 L1376.6 366.5 L1376.7 366.1 L1376.9 366.5 L1377.1 368.6 L1377.3 370.2 L1377.5 370.9 L1377.7 372.0 L1377.9 373.0 L1378.1 374.4 L1378.3 376.2 L1378.5 376.9 L1378.7 377.9 L1379.2 379.6 L1379.7 380.5 L1380.3 381.8 L1380.3 383.5 L1380.4 384.5 L1380.5 385.3 L1380.6 386.2 L1380.7 387.4 L1380.7 389.4 L1380.8 390.1 L1380.9 390.6 L1381.0 392.3 L1381.1 393.4 L1381.2 394.7 L1381.2 395.5 L1381.3 397.4 L1381.4 398.1 L1381.5 399.6 L1381.6 400.1 L1381.6 401.6 L1381.9 403.3 L1382.2 403.9 L1382.5 405.0 L1382.8 406.0 L1383.1 407.9 L1383.3 408.4 L1383.6 409.5 L1383.8 410.8 L1384.0 411.8 L1384.1 413.2 L1384.3 414.2 L1384.5 415.7 L1384.7 416.7 L1384.8 417.7 L1385.0 419.6 L1385.5 418.1 L1386.1 416.2 L1386.6 415.7 L1386.7 417.1 L1386.8 417.3 L1387.0 419.7 L1387.1 420.0 L1387.2 421.1 L1387.4 422.6 L1387.5 423.4 L1387.6 425.2 L1387.8 425.7 L1387.9 427.8 L1388.0 427.6 L1388.2 429.5 L1388.6 430.1 L1389.1 432.7 L1389.5 433.4 L1389.7 432.5 L1389.9 430.6 L1390.0 429.9 L1390.2 428.3 L1390.4 427.3 L1390.5 425.7 L1390.7 424.9 L1390.9 423.8 L1391.0 422.9 L1391.2 420.7 L1391.3 420.0 L1391.5 418.6 L1392.2 420.0 L1392.8 421.9 L1393.5 422.6 L1393.6 423.8 L1393.7 425.5 L1393.8 426.9 L1394.0 427.4 L1394.1 428.6 L1394.2 430.6 L1394.3 431.3 L1394.4 432.5 L1394.5 434.1 L1394.6 435.0 L1394.8 436.2 L1394.9 437.4 L1395.1 438.9 L1395.3 439.5 L1395.5 441.0 L1395.8 441.7 L1396.0 444.1 L1396.2 445.5 L1396.5 446.2 L1396.6 445.5 L1396.8 444.7 L1396.9 443.2 L1397.1 441.0 L1397.3 440.2 L1397.4 440.0 L1397.6 437.6 L1397.8 437.6 L1397.9 436.4 L1398.1 434.2 L1398.3 433.1 L1398.4 432.4 L1399.4 433.8 L1400.4 434.4 L1400.6 435.9 L1400.8 436.1 L1401.0 438.2 L1401.2 438.8 L1401.4 441.2 L1401.6 441.9 L1401.8 442.3 L1402.0 444.3 L1402.1 442.9 L1402.3 441.1 L1402.4 441.3 L1402.6 440.1 L1402.7 438.6 L1402.9 436.2 L1403.1 436.5 L1403.2 434.2 L1403.4 433.4 L1403.5 432.4 L1403.6 431.3 L1403.8 429.7 L1403.9 427.8 L1404.1 426.7 L1404.2 426.2 L1404.3 424.5 L1404.4 425.4 L1404.4 426.8 L1404.5 428.5 L1404.5 429.2 L1404.6 430.1 L1404.6 431.7 L1404.7 432.6 L1404.7 434.2 L1404.8 435.0 L1404.8 436.6 L1404.9 437.8 L1404.9 438.3 L1405.0 439.9 L1405.0 440.9 L1405.0 441.8 L1405.1 443.7 L1405.1 444.4 L1405.2 445.8 L1405.2 446.5 L1405.3 448.5 L1405.3 449.2 L1405.4 450.8 L1405.4 451.7 L1405.4 452.4 L1405.5 454.1 L1405.5 455.1 L1405.6 456.3 L1405.6 457.3 L1405.6 458.4 L1405.7 460.2 L1405.7 461.1 L1405.8 462.5 L1405.8 463.6 L1405.8 464.5 L1405.9 465.8 L1405.9 466.8 L1406.0 468.3 L1406.0 469.3 L1406.0 470.8 L1406.1 471.5 L1406.1 472.8 L1406.2 473.7 L1406.2 474.9 L1406.2 476.2 L1406.3 477.2 L1406.3 478.8 L1406.4 479.9 L1406.4 481.0 L1406.4 482.6 L1406.5 483.0 L1406.5 485.0 L1406.5 485.4 L1406.5 487.2 L1406.6 487.9 L1406.6 489.0 L1406.6 490.4 L1406.7 491.4 L1406.7 492.2 L1406.7 493.5 L1406.8 495.1 L1406.8 496.3 L1406.8 497.6 L1406.9 498.2 L1406.9 499.8 L1406.9 500.6 L1407.0 501.9 L1407.0 502.8 L1407.0 504.1 L1407.1 505.6 L1407.1 506.2 L1407.1 507.5 L1407.2 509.1 L1407.2 509.9 L1407.2 511.3 L1407.3 512.2 L1407.3 513.4 L1407.3 512.0 L1407.4 511.2 L1407.4 509.9 L1407.5 508.5 L1407.5 507.8 L1407.5 505.8 L1407.6 505.3 L1407.6 504.0 L1407.7 502.8 L1407.7 501.4 L1407.8 500.5 L1407.8 498.6 L1407.8 498.0 L1407.9 497.0 L1407.9 495.4 L1408.0 494.5 L1408.0 493.3 L1408.0 491.9 L1408.1 490.9 L1408.1 489.5 L1408.2 488.0 L1408.2 487.1 L1408.2 486.2 L1408.3 484.7 L1408.4 483.1 L1408.4 482.3 L1408.5 481.5 L1408.6 479.3 L1408.7 479.1 L1408.7 477.3 L1408.8 476.1 L1408.9 475.2 L1409.0 473.9 L1409.1 472.4 L1409.1 471.0 L1409.2 470.1 L1409.3 468.9 L1409.4 470.6 L1409.5 472.0 L1409.6 472.8 L1409.7 473.9 L1409.8 475.1 L1409.9 476.6 L1410.0 476.8 L1410.1 478.0 L1410.2 480.1 L1410.3 480.8 L1410.4 478.9 L1410.5 478.5 L1410.7 477.2 L1410.8 476.8 L1410.9 475.2 L1411.0 473.5 L1411.2 472.1 L1411.3 471.5 L1411.4 470.5 L1411.6 469.2 L1411.7 468.2 L1411.8 467.0 L1412.1 467.4 L1412.3 469.0 L1412.5 471.0 L1412.8 471.2 L1413.0 472.2 L1413.2 473.9 L1413.3 472.3 L1413.4 472.1 L1413.5 470.8 L1413.6 469.1 L1413.7 467.8 L1413.8 466.7 L1413.9 466.2 L1413.9 465.1 L1414.0 463.9 L1414.1 462.7 L1414.2 461.1 L1414.7 460.0 L1415.3 457.8 L1415.8 457.1 L1415.9 458.9 L1416.0 459.1 L1416.1 461.1 L1416.2 461.8 L1416.3 462.6 L1416.4 464.6 L1416.5 465.3 L1416.6 467.3 L1416.7 467.6 L1416.9 469.5 L1417.0 470.4 L1417.1 471.1 L1417.2 472.9 L1417.2 473.9 L1417.3 475.1 L1417.4 476.8 L1417.5 478.1 L1417.6 479.5 L1417.6 479.8 L1417.7 481.1 L1417.8 482.5 L1417.9 483.6 L1417.9 484.7 L1418.0 486.5 L1418.1 486.9 L1418.2 488.7 L1418.2 489.9 L1418.3 490.6 L1418.3 492.0 L1418.4 493.1 L1418.4 494.4 L1418.5 496.1 L1418.6 497.0 L1418.6 497.9 L1418.7 499.6 L1418.7 500.0 L1418.8 501.1 L1418.9 502.8 L1418.9 504.0 L1419.0 505.2 L1419.0 506.1 L1419.1 507.5 L1419.1 508.4 L1419.2 509.4 L1419.3 511.3 L1419.4 512.2 L1419.5 513.4 L1419.5 514.3 L1419.6 515.9 L1419.7 516.5 L1419.8 518.2 L1419.9 518.8 L1420.0 520.6 L1420.0 521.0 L1420.1 522.4 L1420.2 523.6 L1420.3 524.7 L1420.4 526.2 L1420.4 527.4 L1420.5 528.2 L1420.7 528.9 L1420.8 530.9 L1420.9 531.8 L1421.0 532.9 L1421.1 533.7 L1421.3 536.0 L1421.4 537.4 L1421.5 538.2 L1421.6 539.2 L1421.7 539.7 L1421.9 541.3 L1422.0 542.5 L1422.1 544.0 L1422.2 544.6 L1422.4 546.2 L1422.5 547.4 L1422.6 548.7 L1422.7 549.4 L1422.8 550.7 L1423.0 553.1 L1423.1 553.7 L1423.2 554.5 L1423.3 556.0 L1423.4 557.1 L1423.6 558.5 L1423.7 559.7 L1424.1 558.0 L1424.5 557.8 L1424.9 556.9 L1425.3 555.2 L1425.7 553.8 L1426.0 555.7 L1426.3 556.6 L1426.6 557.3 L1427.0 558.5 L1427.3 559.9 L1427.6 560.7 L1427.7 559.3 L1427.9 557.7 L1428.0 557.0 L1428.1 556.2 L1428.2 554.8 L1428.3 552.7 L1428.4 552.5 L1428.5 550.2 L1428.7 549.6 L1428.8 547.9 L1428.9 546.9 L1429.0 545.9 L1429.1 544.4 L1429.3 543.8 L1429.4 542.7 L1429.5 541.8 L1429.6 540.1 L1429.8 538.3 L1429.9 537.1 L1430.0 536.0 L1430.1 534.9 L1430.3 533.8 L1430.4 533.1 L1430.5 534.0 L1430.5 535.0 L1430.6 536.9 L1430.7 537.5 L1430.7 538.8 L1430.8 540.3 L1430.9 540.8 L1430.9 542.3 L1431.0 543.0 L1431.1 544.6 L1431.1 546.2 L1431.2 547.0 L1431.2 547.8 L1431.3 549.4 L1431.4 550.4 L1431.4 551.5 L1431.5 552.8 L1431.6 553.8 L1431.7 555.3 L1431.8 556.7 L1431.9 558.0 L1431.9 559.1 L1432.0 560.1 L1432.1 561.2 L1432.2 562.5 L1432.3 562.9 L1432.4 564.1 L1432.5 566.1 L1432.6 566.8 L1432.7 567.4 L1432.8 569.5 L1432.9 569.9 L1433.0 571.6 L1433.6 572.2 L1434.3 574.2 L1434.9 574.5 L1435.2 572.9 L1435.4 572.8 L1435.6 570.7 L1435.9 570.4 L1436.1 568.6 L1436.3 567.6 L1436.4 566.5 L1436.5 565.5 L1436.6 564.4 L1436.7 562.6 L1436.8 562.0 L1436.9 560.2 L1437.0 559.1 L1437.1 558.6 L1437.2 556.6 L1437.3 555.8 L1437.4 554.2 L1437.5 553.7 L1437.6 552.0 L1437.7 551.0 L1437.8 550.7 L1437.9 548.9 L1438.0 550.0 L1438.2 551.2 L1438.3 551.6 L1438.5 553.2 L1438.6 554.1 L1438.8 556.1 L1438.9 556.5 L1439.0 557.7 L1439.2 558.8 L1439.3 560.9 L1439.5 561.7 L1439.6 563.1 L1439.7 563.9 L1439.8 565.1 L1439.9 566.3 L1440.0 567.8 L1440.1 569.1 L1440.2 569.7 L1440.3 571.0 L1440.4 572.8 L1440.5 573.6 L1440.6 575.3 L1440.8 575.9 L1440.9 577.5 L1442.8 578.5 L1443.7 576.9 L1444.5 575.8 L1445.4 575.5 L1445.6 574.8 L1445.9 573.0 L1446.1 570.8 L1446.3 570.0 L1446.5 569.2 L1446.8 567.6 L1446.9 566.1 L1446.9 565.7 L1447.0 563.6 L1447.1 563.0 L1447.2 561.9 L1447.3 560.3 L1447.3 560.1 L1447.4 558.4 L1447.5 556.7 L1447.6 556.3 L1447.7 554.3 L1447.8 553.9 L1447.8 552.9 L1447.9 551.5 L1448.0 549.6 L1448.1 548.5 L1448.2 547.9 L1448.4 547.1 L1448.6 545.9 L1448.8 543.7 L1449.1 543.5 L1449.3 542.0 L1449.5 539.6 L1449.7 539.0 L1449.9 540.8 L1450.1 540.5 L1450.2 542.2 L1450.4 543.2 L1450.6 544.3 L1450.7 545.9 L1450.9 546.3 L1451.1 549.0 L1451.2 548.9 L1451.4 550.8 L1451.5 551.4 L1451.7 552.8 L1451.9 552.3 L1452.1 550.5 L1452.4 549.2 L1452.6 548.4 L1452.8 546.9 L1453.0 545.5 L1453.2 543.9 L1453.5 543.7 L1453.7 542.0 L1453.9 540.9 L1454.2 539.4 L1454.4 539.1 L1454.7 537.0 L1454.9 536.2 L1455.2 534.0 L1455.4 533.1 L1455.7 532.1 L1456.6 533.3 L1457.6 534.1 L1458.3 532.7 L1459.0 532.9 L1459.6 531.1 L1459.9 533.1 L1460.1 533.8 L1460.3 535.2 L1460.6 535.7 L1460.8 537.7 L1461.1 539.1 L1461.3 539.7 L1461.6 541.0 L1461.7 539.9 L1461.9 538.8 L1462.0 537.0 L1462.1 535.5 L1462.3 534.5 L1462.4 533.8 L1462.6 532.8 L1462.7 532.0 L1462.8 529.8 L1463.0 528.5 L1463.1 527.7 L1463.3 526.1 L1463.4 525.0 L1463.5 524.2 L1463.7 523.0 L1463.9 522.1 L1464.1 520.0 L1464.3 518.9 L1464.4 518.1 L1464.6 517.0 L1464.8 515.3 L1465.0 514.8 L1465.1 513.4 L1465.2 514.7 L1465.4 516.5 L1465.5 517.7 L1465.6 518.5 L1465.7 519.0 L1465.8 520.8 L1465.9 521.7 L1466.0 522.9 L1466.2 523.9 L1466.3 526.0 L1466.4 527.1 L1466.5 528.2 L1466.8 529.0 L1467.1 530.1 L1467.3 532.5 L1467.6 533.0 L1467.9 534.1 L1468.7 533.4 L1469.6 531.7 L1470.5 531.1 L1470.8 533.0 L1471.1 533.8 L1471.4 534.6 L1471.8 535.1 L1472.1 536.8 L1472.4 538.0 L1472.8 538.4 L1473.1 539.9 L1473.4 541.9 L1473.8 542.0 L1474.1 543.3 L1474.4 544.9 L1474.5 543.5 L1474.6 543.1 L1474.7 540.9 L1474.8 540.0 L1474.9 539.0 L1475.0 537.2 L1475.1 536.6 L1475.2 534.8 L1475.3 533.9 L1475.4 532.7 L1475.5 532.4 L1475.6 530.5 L1475.7 529.1 L1475.8 528.2 L1475.9 526.8 L1475.9 525.6 L1476.0 524.3 L1476.1 523.3 L1476.1 522.6 L1476.2 521.0 L1476.3 519.7 L1476.3 518.4 L1476.4 518.0 L1476.5 516.3 L1476.6 515.1 L1476.6 514.6 L1476.7 513.6 L1476.8 512.0 L1476.8 510.3 L1476.9 510.0 L1477.0 508.4 L1477.0 507.5 L1477.1 505.4 L1477.2 504.5 L1477.3 503.9 L1477.4 502.3 L1477.4 500.8 L1477.5 500.5 L1477.6 498.4 L1477.7 497.1 L1477.7 496.5 L1477.8 495.6 L1477.9 494.1 L1478.0 492.6 L1478.2 490.7 L1478.4 489.6 L1478.7 488.7 L1478.9 488.3 L1479.1 487.6 L1479.3 485.7 L1479.4 486.4 L1479.5 488.3 L1479.6 489.5 L1479.7 489.9 L1479.8 492.2 L1479.9 492.7 L1480.0 493.9 L1480.1 495.7 L1480.2 496.6 L1480.3 497.9 L1480.4 498.3 L1480.5 500.3 L1480.6 500.8 L1480.7 502.5 L1480.9 501.8 L1481.0 500.6 L1481.1 499.3 L1481.2 498.1 L1481.4 497.5 L1481.5 496.1 L1481.6 494.8 L1481.8 493.1 L1481.9 491.4 L1482.0 491.8 L1482.2 489.2 L1482.3 488.7 L1482.4 486.9 L1482.5 486.4 L1482.6 485.7 L1482.7 483.8 L1482.8 482.3 L1483.0 480.8 L1483.1 479.8 L1483.2 478.8 L1483.3 477.8 L1483.4 478.8 L1483.5 479.9 L1483.6 482.0 L1483.7 483.3 L1483.9 484.5 L1484.0 484.6 L1484.1 486.5 L1484.2 487.0 L1484.3 488.6 L1484.4 489.8 L1484.5 490.8 L1484.6 492.6 L1484.8 493.0 L1484.9 494.6 L1485.0 496.3 L1485.1 497.4 L1485.2 498.5 L1485.3 499.0 L1485.4 500.3 L1485.6 502.4 L1485.7 503.9 L1485.8 504.1 L1485.9 505.9 L1486.0 507.3 L1486.1 508.7 L1486.2 509.4 L1486.3 507.7 L1486.4 506.6 L1486.5 505.3 L1486.6 504.9 L1486.7 503.2 L1486.8 502.5 L1486.9 500.6 L1487.0 500.0 L1487.1 498.3 L1487.2 497.3 L1487.3 496.3 L1487.4 495.6 L1487.5 493.4 L1487.6 492.6 L1488.2 491.8 L1488.7 489.3 L1489.2 488.7 L1490.0 489.2 L1490.8 490.7 L1491.0 489.7 L1491.1 487.5 L1491.3 487.5 L1491.5 486.3 L1491.7 484.0 L1491.8 483.6 L1492.0 482.3 L1492.2 480.8 L1492.6 482.7 L1493.0 483.2 L1493.4 484.1 L1493.7 486.1 L1494.1 486.7 L1494.3 487.5 L1494.4 489.8 L1494.6 490.1 L1494.8 491.4 L1494.9 493.3 L1495.1 494.4 L1495.2 494.7 L1495.4 496.6 L1495.5 497.6 L1496.8 499.3 L1498.1 499.5 L1500.1 498.6 L1500.2 497.2 L1500.4 496.2 L1500.6 495.1 L1500.8 494.0 L1500.9 492.2 L1501.1 491.0 L1501.3 489.4 L1501.5 488.7 L1501.8 487.6 L1502.2 485.8 L1502.6 484.7 L1502.8 486.4 L1502.9 486.4 L1503.0 488.7 L1503.2 488.9 L1503.3 491.2 L1503.5 492.3 L1503.6 492.8 L1503.7 493.6 L1503.9 494.9 L1504.0 496.6 L1504.1 497.3 L1504.3 499.7 L1504.4 500.6 L1504.6 500.6 L1504.7 501.7 L1504.8 503.8 L1505.0 504.8 L1505.1 506.1 L1505.3 507.8 L1505.4 508.4 L1506.0 510.3 L1506.7 510.5 L1507.4 512.4 L1508.2 514.1 L1509.0 514.3 L1509.1 513.0 L1509.3 511.8 L1509.5 510.1 L1509.6 509.0 L1509.8 507.7 L1510.0 506.6 L1510.2 505.8 L1510.3 504.5 L1510.5 505.3 L1510.6 506.5 L1510.8 507.4 L1511.0 508.5 L1511.1 511.1 L1511.3 511.5 L1511.4 512.7 L1511.6 513.4 L1511.8 515.9 L1511.9 516.3 L1512.1 516.7 L1512.3 519.1 L1512.5 519.1 L1512.7 520.7 L1512.9 522.2 L1513.1 523.4 L1513.3 524.9 L1513.5 525.9 L1513.7 527.3 L1513.9 528.2 L1514.1 528.7 L1514.3 530.2 L1514.5 531.4 L1514.7 532.9 L1514.9 534.0 L1515.1 534.6 L1515.3 535.9 L1515.5 536.9 L1515.7 538.1 L1515.9 540.0 L1516.0 539.0 L1516.2 538.3 L1516.3 536.5 L1516.5 534.7 L1516.6 534.1 L1516.8 532.7 L1516.9 531.2 L1517.1 530.8 L1517.2 528.7 L1517.4 527.5 L1517.5 525.9 L1517.7 525.0 L1517.8 524.2 L1518.2 523.7 L1518.5 521.9 L1518.8 521.1 L1519.1 519.6 L1519.5 518.1 L1519.8 517.3 L1521.8 516.3 L1522.5 514.6 L1523.2 513.4 L1523.4 514.6 L1523.6 515.5 L1523.8 517.0 L1524.0 517.4 L1524.3 519.2 L1524.5 520.0 L1524.7 521.8 L1524.9 523.1 L1525.1 524.2 L1525.4 523.7 L1525.6 522.4 L1525.8 521.2 L1526.0 519.3 L1526.2 517.9 L1526.5 517.5 L1526.7 515.2 L1526.9 514.4 L1527.1 513.4 L1527.4 511.5 L1527.8 511.6 L1528.1 510.3 L1528.4 509.4 L1528.8 507.1 L1529.1 506.4 L1529.6 505.7 L1530.1 504.1 L1530.7 502.5 L1530.9 503.8 L1531.1 504.9 L1531.3 506.7 L1531.5 507.4 L1531.6 509.4 L1531.8 510.6 L1532.0 510.9 L1532.2 512.4 L1532.5 513.7 L1532.7 514.7 L1533.0 516.7 L1533.2 517.9 L1533.5 518.4 L1533.7 519.6 L1534.0 520.7 L1534.2 522.2 L1534.5 523.8 L1534.8 525.0 L1535.1 526.2 L1535.3 527.3 L1535.6 528.9 L1535.9 529.1 L1536.2 531.1 L1536.4 529.9 L1536.6 529.1 L1536.9 528.0 L1537.1 527.0 L1537.3 524.9 L1537.6 524.2 L1537.7 523.6 L1537.8 522.4 L1537.8 520.8 L1537.9 519.9 L1538.0 517.9 L1538.1 516.7 L1538.2 515.6 L1538.3 514.8 L1538.4 514.0 L1538.5 512.2 L1538.6 511.7 L1538.7 510.4 L1538.8 508.2 L1538.9 507.0 L1539.0 506.4 L1539.5 505.9 L1540.0 503.8 L1540.5 502.5 L1540.7 504.1 L1540.8 505.4 L1540.9 505.7 L1541.1 506.4 L1541.2 508.8 L1541.3 510.1 L1541.5 510.4 L1541.6 512.0 L1541.7 512.1 L1541.8 514.7 L1542.0 515.3 L1542.1 516.3 L1542.5 518.3 L1542.8 519.1 L1543.1 519.8 L1543.5 521.2 L1543.8 519.6 L1544.1 519.0 L1544.3 518.5 L1544.6 516.8 L1544.9 515.7 L1545.2 514.0 L1545.5 513.4 L1546.4 511.8 L1547.4 511.4 L1548.1 509.5 L1548.8 508.4 L1549.0 506.9 L1549.1 506.0 L1549.3 505.6 L1549.4 503.3 L1549.6 502.1 L1549.8 501.7 L1549.9 500.8 L1550.1 498.5 L1550.2 497.4 L1550.4 496.6 L1550.6 495.2 L1550.8 493.5 L1551.0 492.3 L1551.3 491.8 L1551.5 490.1 L1551.7 488.9 L1551.9 488.6 L1552.1 486.9 L1552.4 485.7 L1552.5 487.0 L1552.7 488.3 L1552.8 489.6 L1552.9 491.1 L1553.1 492.3 L1553.2 492.1 L1553.4 494.3 L1553.5 494.3 L1553.7 495.6 L1553.8 497.0 L1554.0 498.6 L1554.1 499.2 L1554.3 500.5 L1554.5 501.8 L1554.6 504.0 L1554.8 505.2 L1555.0 506.0 L1555.2 507.3 L1555.3 508.4 L1556.0 509.8 L1556.6 510.5 L1557.3 511.4 L1557.5 512.0 L1557.8 513.9 L1558.0 514.9 L1558.2 516.6 L1558.5 518.7 L1558.7 519.3 L1558.9 517.5 L1559.1 516.5 L1559.4 515.6 L1559.6 514.5 L1559.8 512.6 L1560.0 511.5 L1560.3 510.4 L1560.6 509.2 L1560.9 508.7 L1561.2 506.1 L1561.5 506.3 L1561.8 504.5 L1562.0 503.4 L1562.1 502.8 L1562.3 500.7 L1562.4 500.0 L1562.5 497.8 L1562.7 496.9 L1562.8 496.4 L1562.9 494.7 L1563.1 493.8 L1563.2 492.6 L1563.9 492.1 L1564.5 490.1 L1565.2 488.7 L1565.4 490.3 L1565.7 491.4 L1565.9 492.2 L1566.1 494.7 L1566.3 495.1 L1566.6 496.6 L1566.7 494.6 L1566.9 494.1 L1567.1 492.9 L1567.2 491.4 L1567.4 490.5 L1567.5 488.8 L1567.7 489.0 L1567.8 487.1 L1568.0 485.6 L1568.2 484.7 L1568.4 483.7 L1568.6 482.6 L1568.8 481.2 L1569.1 480.7 L1569.3 479.0 L1569.5 478.6 L1569.7 476.8 L1570.0 478.5 L1570.3 479.5 L1570.6 479.9 L1570.9 481.9 L1571.2 483.5 L1571.5 484.4 L1571.8 485.1 L1571.8 485.8 L1571.9 487.2 L1572.0 488.1 L1572.0 489.9 L1572.1 491.3 L1572.1 492.3 L1572.2 493.4 L1572.2 494.5 L1572.3 495.8 L1572.4 496.8 L1572.4 498.2 L1572.5 498.7 L1572.5 500.2 L1572.6 501.5 L1572.6 502.1 L1572.7 503.8 L1572.8 504.9 L1572.8 506.6 L1572.9 506.7 L1573.0 508.7 L1573.1 509.8 L1573.2 511.2 L1573.3 512.5 L1573.4 513.2 L1573.5 514.3 L1573.6 515.3 L1573.7 516.5 L1573.8 517.7 L1574.0 516.7 L1574.2 515.1 L1574.4 514.7 L1574.7 513.2 L1574.9 511.8 L1575.1 510.8 L1575.4 509.6 L1575.8 508.8 L1576.1 507.8 L1576.4 506.6 L1576.7 504.9 L1577.0 506.3 L1577.3 506.7 L1577.6 507.5 L1577.8 508.8 L1578.1 509.8 L1578.4 511.6 L1578.7 512.8 L1579.0 513.4 L1579.2 515.3 L1579.5 517.0 L1579.8 517.7 L1580.1 519.7 L1580.4 520.1 L1580.7 521.6 L1580.8 520.4 L1580.9 518.8 L1581.1 517.4 L1581.2 516.8 L1581.3 514.9 L1581.5 513.7 L1581.6 512.7 L1581.7 512.1 L1581.8 511.3 L1582.0 508.9 L1582.1 507.7 L1582.2 506.8 L1582.4 506.4 L1582.6 504.5 L1582.8 503.6 L1583.0 502.7 L1583.2 500.9 L1583.4 499.0 L1583.6 499.0 L1583.8 497.0 L1583.9 498.7 L1584.0 498.8 L1584.1 501.2 L1584.2 502.0 L1584.3 502.7 L1584.4 504.2 L1584.5 505.2 L1584.5 507.0 L1584.6 507.8 L1584.7 508.6 L1584.8 510.8 L1584.9 511.3 L1585.0 512.8 L1585.1 513.5 L1585.2 515.4 L1585.3 515.8 L1585.5 517.7 L1585.6 518.7 L1585.7 519.4 L1585.8 521.8 L1585.9 522.6 L1586.0 522.9 L1586.1 525.3 L1586.2 526.1 L1586.4 527.6 L1586.5 528.7 L1586.6 529.5 L1586.8 527.8 L1587.0 526.8 L1587.2 525.4 L1587.5 525.2 L1587.7 524.2 L1587.9 522.4 L1588.1 521.4 L1588.3 520.6 L1588.5 518.7 L1588.9 517.6 L1589.2 516.3 L1589.5 514.9 L1589.9 514.9 L1590.2 512.3 L1590.5 511.8 L1592.5 512.8 L1592.7 513.5 L1592.9 515.8 L1593.1 515.7 L1593.3 517.2 L1593.5 519.0 L1593.7 519.7 L1593.9 521.2 L1594.1 522.6 L1594.3 520.6 L1594.6 520.4 L1594.8 518.2 L1595.1 517.4 L1595.3 515.8 L1595.6 515.5 L1595.8 513.5 L1596.0 512.8 L1596.3 511.5 L1596.5 509.4 L1596.7 508.9 L1597.0 507.2 L1597.2 506.8 L1597.4 504.9 L1597.7 505.6 L1597.9 507.0 L1598.2 509.2 L1598.4 509.1 L1598.7 511.0 L1598.9 512.2 L1599.2 513.2 L1599.4 514.7 L1599.8 515.4 L1600.1 517.2 L1600.4 517.7 L1600.8 519.7 L1601.0 517.6 L1601.2 516.8 L1601.5 515.7 L1601.7 514.2 L1601.9 513.7 L1602.1 511.9 L1602.4 510.8 L1602.6 509.8 L1602.9 508.6 L1603.2 507.7 L1603.4 506.9 L1603.7 505.1 L1604.0 503.9 L1604.6 505.5 L1605.3 506.6 L1605.9 507.8 L1606.6 508.1 L1607.2 510.3 L1607.9 510.8 L1608.5 509.8 L1609.1 508.1 L1609.7 508.2 L1610.3 506.8 L1610.5 508.0 L1610.7 509.9 L1610.9 510.3 L1611.1 511.5 L1611.2 513.4 L1611.4 514.6 L1611.6 515.6 L1611.8 516.2 L1612.0 517.4 L1612.2 518.7 L1612.9 520.4 L1613.6 521.9 L1614.2 522.6 L1614.5 521.3 L1614.7 520.5 L1614.9 519.0 L1615.2 517.8 L1615.4 516.0 L1615.7 514.9 L1615.9 513.6 L1616.2 512.8 L1616.6 512.4 L1617.0 509.6 L1617.4 508.8 L1617.8 507.5 L1618.2 506.8 L1618.5 506.2 L1618.8 504.8 L1619.1 503.1 L1619.5 501.6 L1619.8 501.4 L1620.1 499.9 L1620.6 498.8 L1621.1 497.0 L1621.4 498.4 L1621.6 499.8 L1621.9 500.8 L1622.1 501.2 L1622.4 503.6 L1622.6 505.0 L1622.8 505.1 L1623.1 506.8 L1623.4 507.8 L1623.7 509.9 L1623.9 511.0 L1624.2 511.9 L1624.5 513.0 L1624.8 513.1 L1625.1 514.7 L1625.7 514.0 L1626.4 512.6 L1627.0 510.8 L1627.7 509.0 L1628.4 508.8 L1629.0 506.8 L1630.0 506.4 L1631.0 504.9 L1631.2 506.8 L1631.3 508.0 L1631.5 507.9 L1631.7 509.3 L1631.9 511.5 L1632.0 511.7 L1632.2 513.3 L1632.4 514.7 L1632.6 514.1 L1632.8 513.0 L1633.0 511.2 L1633.3 510.1 L1633.5 509.4 L1633.7 508.8 L1634.0 506.8 L1634.6 505.7 L1635.3 504.0 L1635.9 502.9 L1636.2 503.7 L1636.4 504.9 L1636.7 506.8 L1636.9 508.2 L1637.2 508.6 L1637.4 510.7 L1637.6 511.7 L1637.9 512.8 L1638.0 511.7 L1638.2 510.5 L1638.3 509.2 L1638.4 507.4 L1638.5 507.1 L1638.7 506.1 L1638.8 505.3 L1638.9 504.3 L1639.1 502.6 L1639.2 500.7 L1639.3 500.7 L1639.5 498.9 L1639.7 497.5 L1639.9 497.1 L1640.2 495.7 L1640.4 493.0 L1640.6 491.6 L1640.9 491.1 L1641.8 489.3 L1642.8 489.1 L1643.2 488.2 L1643.6 486.7 L1644.0 485.7 L1644.4 484.1 L1644.8 483.2 L1645.2 484.5 L1645.6 484.9 L1646.0 486.2 L1646.4 488.3 L1646.8 489.1 L1646.9 489.9 L1647.1 490.9 L1647.2 492.9 L1647.4 494.7 L1647.5 495.8 L1647.7 496.9 L1647.9 497.9 L1648.0 497.9 L1648.2 499.9 L1648.3 498.2 L1648.5 497.7 L1648.7 496.4 L1648.9 495.6 L1649.0 493.2 L1649.2 492.9 L1649.4 490.8 L1649.6 490.7 L1649.7 489.1 L1649.9 489.6 L1650.1 491.4 L1650.3 493.1 L1650.5 494.6 L1650.7 495.5 L1650.9 496.6 L1651.1 497.0 L1651.3 498.8 L1651.5 499.8 L1651.7 500.9 L1652.0 502.1 L1652.3 503.4 L1652.7 504.4 L1653.0 505.5 L1653.3 506.8 L1653.5 506.1 L1653.6 504.8 L1653.8 504.1 L1653.9 502.9 L1654.1 501.6 L1654.3 499.3 L1654.4 498.8 L1654.6 497.6 L1654.8 496.9 L1654.9 496.0 L1655.1 493.7 L1655.3 493.0 L1655.4 493.4 L1655.5 496.0 L1655.7 497.3 L1655.8 497.5 L1656.0 499.1 L1656.1 500.0 L1656.2 501.1 L1656.4 502.7 L1656.5 504.0 L1656.6 504.9 L1656.9 506.8 L1657.1 507.3 L1657.3 508.8 L1657.6 510.1 L1657.8 512.2 L1658.0 512.8 L1658.2 511.6 L1658.3 511.1 L1658.5 510.0 L1658.7 507.3 L1658.8 507.3 L1659.0 505.0 L1659.1 504.5 L1659.3 503.5 L1659.5 501.4 L1659.6 500.9 L1660.6 500.1 L1661.6 498.9 L1661.8 500.6 L1662.1 501.3 L1662.4 503.0 L1662.6 504.0 L1662.9 505.0 L1663.2 506.8 L1663.3 507.6 L1663.4 509.9 L1663.6 510.6 L1663.7 511.6 L1663.8 513.2 L1664.0 514.5 L1664.1 515.5 L1664.3 516.2 L1664.4 517.6 L1664.5 518.7 L1665.2 519.4 L1665.9 520.7" fill="none" stroke="#f7931a" stroke-width="2.9" stroke-linejoin="round" stroke-linecap="round"/>
<path d="M125.5 837.5 L126.6 836.5 L127.7 835.5 L128.8 835.5 L130.0 836.3 L131.2 835.7 L132.5 837.0 L133.8 837.2 L135.0 837.0 L136.2 836.6 L137.5 837.5 L138.8 836.7 L140.0 835.0 L141.2 835.0 L141.7 833.6 L142.1 831.7 L142.5 830.5 L142.9 829.9 L143.3 829.3 L143.8 827.5 L144.1 825.6 L144.4 824.5 L144.7 824.0 L145.0 823.3 L145.3 821.4 L145.6 819.8 L145.9 819.6 L146.2 817.5 L146.7 815.6 L147.1 815.9 L147.5 813.8 L147.9 812.4 L148.3 811.3 L148.8 810.5 L149.2 810.3 L149.6 808.0 L150.0 807.5 L150.3 806.5 L150.6 805.4 L150.9 803.8 L151.2 803.0 L151.4 800.9 L151.7 799.8 L152.0 798.9 L152.3 798.6 L152.6 797.0 L152.9 795.6 L153.2 795.0 L153.5 793.6 L153.8 792.5 L154.1 791.0 L154.4 790.8 L154.8 789.4 L155.1 787.5 L155.5 787.0 L155.8 785.7 L156.1 785.2 L156.5 783.8 L156.8 781.9 L157.2 782.0 L157.5 780.0 L157.9 778.2 L158.4 777.7 L158.8 777.2 L159.2 775.1 L159.6 774.6 L160.1 772.7 L160.5 772.5 L160.7 771.6 L160.9 770.6 L161.2 769.1 L161.4 768.5 L161.6 766.3 L161.8 765.9 L162.0 764.5 L162.2 763.3 L162.4 761.9 L162.7 761.4 L162.9 760.5 L163.1 758.5 L163.3 757.6 L163.5 755.4 L163.8 755.0 L164.2 754.1 L164.6 752.8 L165.0 752.1 L165.4 750.6 L165.8 748.4 L166.2 747.5 L166.4 746.1 L166.6 745.5 L166.8 743.1 L166.9 742.8 L167.1 741.1 L167.2 739.8 L167.4 738.5 L167.6 738.6 L167.8 736.3 L167.9 735.4 L168.1 734.5 L168.2 734.2 L168.4 731.6 L168.6 731.1 L168.8 730.0 L168.9 728.9 L169.1 728.4 L169.3 727.1 L169.5 726.0 L169.7 723.8 L169.9 722.9 L170.1 721.7 L170.3 721.5 L170.5 720.4 L170.7 717.8 L170.9 716.7 L171.1 715.7 L171.2 715.0 L171.4 713.3 L171.5 712.6 L171.7 711.6 L171.8 709.9 L172.0 708.2 L172.1 707.8 L172.3 706.5 L172.4 705.7 L172.6 705.2 L172.7 703.6 L172.9 702.1 L173.0 701.1 L173.2 700.0 L173.3 697.7 L173.5 698.1 L173.6 696.7 L173.8 695.0 L173.9 694.4 L174.0 693.1 L174.1 691.3 L174.2 690.1 L174.3 688.4 L174.5 688.1 L174.6 686.0 L174.7 684.8 L174.8 683.8 L174.9 682.6 L175.1 681.6 L175.2 680.0 L175.3 678.7 L175.4 677.8 L175.5 676.5 L175.7 675.7 L175.8 674.0 L175.9 674.2 L176.0 672.6 L176.1 670.6 L176.2 670.0 L176.3 668.5 L176.4 667.5 L176.4 666.4 L176.5 664.9 L176.6 664.6 L176.6 663.6 L176.7 661.9 L176.8 660.7 L176.8 659.1 L176.9 657.9 L177.0 657.1 L177.0 655.8 L177.1 655.3 L177.2 653.4 L177.2 652.1 L177.3 652.0 L177.4 650.4 L177.4 648.7 L177.5 648.1 L177.5 646.3 L177.6 645.7 L177.7 645.1 L177.7 643.8 L177.8 642.5 L177.9 640.8 L177.9 639.7 L178.0 638.8 L178.0 639.7 L178.0 641.3 L178.0 642.3 L178.1 643.6 L178.1 644.5 L178.1 645.5 L178.1 647.2 L178.1 648.5 L178.1 649.5 L178.2 650.7 L178.2 651.8 L178.2 653.0 L178.2 653.7 L178.2 655.1 L178.2 656.2 L178.3 657.1 L178.3 658.2 L178.3 659.6 L178.3 660.8 L178.3 662.3 L178.3 663.6 L178.4 664.4 L178.4 666.0 L178.4 667.2 L178.4 668.3 L178.4 669.0 L178.4 670.1 L178.5 671.2 L178.5 672.4 L178.5 673.6 L178.5 675.1 L178.5 676.4 L178.5 677.6 L178.6 678.4 L178.6 679.8 L178.6 681.0 L178.6 681.6 L178.6 683.3 L178.6 684.6 L178.7 685.7 L178.7 686.8 L178.7 687.8 L178.7 688.7 L178.7 690.4 L178.7 691.2 L178.8 692.7 L178.8 694.0 L178.8 694.7 L178.8 695.9 L178.8 697.5 L178.8 698.5 L178.9 699.2 L178.9 700.4 L178.9 701.6 L178.9 703.3 L178.9 704.4 L178.9 705.1 L179.0 706.8 L179.0 708.0 L179.0 709.0 L179.0 710.0 L179.1 708.7 L179.2 707.8 L179.2 706.1 L179.3 704.8 L179.4 704.8 L179.5 703.3 L179.5 702.0 L179.6 701.3 L179.7 699.5 L179.8 698.9 L179.8 697.7 L179.9 695.8 L180.0 695.0 L180.1 695.9 L180.1 697.2 L180.2 698.3 L180.2 699.9 L180.3 700.7 L180.3 702.1 L180.4 702.9 L180.5 705.0 L180.5 705.6 L180.6 706.9 L180.6 708.2 L180.7 709.8 L180.7 710.4 L180.8 712.2 L180.9 712.9 L180.9 714.1 L181.0 715.3 L181.0 715.9 L181.1 717.6 L181.1 718.5 L181.2 719.5 L181.2 721.2 L181.3 720.4 L181.3 718.6 L181.4 717.7 L181.4 716.8 L181.4 715.4 L181.5 714.0 L181.5 713.0 L181.6 711.9 L181.6 711.0 L181.6 709.1 L181.7 708.4 L181.7 706.9 L181.7 705.8 L181.8 705.1 L181.8 703.6 L181.9 702.5 L181.9 701.5 L181.9 700.5 L182.0 698.9 L182.0 697.9 L182.0 696.6 L182.1 695.4 L182.1 694.4 L182.2 693.0 L182.2 691.9 L182.2 690.7 L182.3 690.0 L182.3 688.6 L182.3 687.6 L182.4 686.5 L182.4 684.6 L182.5 683.7 L182.5 682.5 L182.6 682.1 L182.8 680.8 L182.9 678.4 L183.0 677.3 L183.1 676.7 L183.2 674.9 L183.4 674.0 L183.5 672.6 L183.6 672.5 L183.8 671.5 L183.9 670.6 L184.0 668.8 L184.2 669.4 L184.3 671.6 L184.5 672.8 L184.7 673.1 L184.8 675.7 L185.0 677.1 L185.2 677.0 L185.3 679.6 L185.5 680.0 L185.8 678.6 L186.0 677.5 L186.2 677.1 L186.5 675.6 L186.8 673.1 L187.0 672.5 L187.0 673.6 L187.1 674.9 L187.1 675.9 L187.2 676.9 L187.2 678.3 L187.3 679.9 L187.3 680.3 L187.4 682.1 L187.4 683.2 L187.5 683.9 L187.5 685.4 L187.6 686.9 L187.6 688.0 L187.7 688.7 L187.7 690.9 L187.8 691.8 L187.8 693.2 L187.9 693.5 L187.9 694.9 L188.0 695.8 L188.0 697.5 L188.2 696.8 L188.4 694.6 L188.7 693.1 L188.9 692.4 L189.1 692.0 L189.3 690.6 L189.6 688.3 L189.8 686.9 L190.0 686.2 L190.6 688.3 L191.2 688.9 L191.9 690.4 L192.5 691.2 L192.9 689.3 L193.3 688.0 L193.8 687.8 L194.2 686.1 L194.6 684.2 L195.0 683.8 L195.6 683.3 L196.2 681.5 L196.9 680.5 L197.5 678.8 L198.8 678.0 L200.0 678.8 L200.4 680.6 L200.7 680.5 L201.1 683.2 L201.4 683.7 L201.8 684.7 L202.1 686.3 L202.5 687.5 L202.9 689.5 L203.3 689.6 L203.8 690.6 L204.2 692.5 L204.6 693.3 L205.0 695.0 L205.8 693.5 L206.7 692.7 L207.5 692.5 L208.1 692.9 L208.8 694.5 L209.4 695.9 L210.0 697.5 L210.3 698.4 L210.6 700.5 L210.9 700.9 L211.2 702.5 L211.6 703.2 L211.9 704.7 L212.2 705.4 L212.5 707.5 L212.6 708.2 L212.8 709.0 L212.9 711.4 L213.0 712.3 L213.2 712.8 L213.3 714.5 L213.4 716.4 L213.6 716.1 L213.7 718.6 L213.8 719.0 L214.0 720.3 L214.1 722.1 L214.2 722.5 L214.4 723.8 L214.5 725.0 L214.6 724.1 L214.7 723.4 L214.8 721.2 L214.9 720.8 L215.0 719.4 L215.1 718.1 L215.2 716.6 L215.3 715.4 L215.4 713.7 L215.5 712.7 L215.6 711.4 L215.7 711.2 L215.8 709.3 L215.9 708.0 L216.0 706.7 L216.1 706.7 L216.2 705.0 L216.9 704.4 L217.6 702.8 L218.2 701.2 L218.7 702.1 L219.2 703.3 L219.6 704.6 L220.1 706.2 L220.5 707.5 L221.2 705.9 L221.8 705.4 L222.4 704.1 L223.1 704.3 L223.8 702.5 L224.4 702.1 L225.0 700.1 L225.6 698.3 L226.2 697.5 L227.1 699.6 L227.9 699.7 L228.8 701.2 L229.4 700.0 L230.0 698.3 L230.6 697.9 L231.2 697.0 L231.9 696.0 L232.5 695.0 L232.9 693.4 L233.4 692.9 L233.8 690.9 L234.2 690.3 L234.6 688.9 L235.1 688.4 L235.5 687.5 L235.9 685.6 L236.3 684.5 L236.7 683.9 L237.1 682.6 L237.5 682.2 L237.9 681.0 L238.3 680.3 L238.8 678.8 L239.4 680.3 L240.0 681.6 L240.6 683.2 L241.2 683.8 L242.1 682.3 L242.9 680.9 L243.8 680.0 L245.0 681.3 L246.2 680.2 L247.5 681.2 L249.0 681.0 L250.5 680.0 L250.6 681.4 L250.7 681.6 L250.8 684.0 L250.9 685.2 L251.0 685.9 L251.1 687.2 L251.2 688.5 L251.3 688.6 L251.4 690.3 L251.5 691.5 L251.6 693.1 L251.8 693.8 L251.9 693.1 L252.0 692.0 L252.1 690.4 L252.2 689.8 L252.3 688.3 L252.4 687.2 L252.5 685.3 L252.6 683.9 L252.7 682.9 L252.8 682.1 L252.9 680.5 L253.0 680.0 L253.5 679.6 L254.1 678.0 L254.6 677.1 L255.2 676.1 L255.7 675.1 L256.2 673.8 L256.5 672.6 L256.7 670.6 L256.9 670.8 L257.1 669.6 L257.3 668.0 L257.5 666.9 L257.7 666.0 L257.9 663.8 L258.1 663.9 L258.3 661.8 L258.5 660.4 L258.8 660.0 L259.0 658.4 L259.2 658.1 L259.4 656.1 L259.7 655.9 L259.9 655.2 L260.1 653.2 L260.3 651.8 L260.6 650.9 L260.8 650.1 L261.0 649.1 L261.2 647.5 L262.3 646.9 L263.4 646.1 L264.5 645.0 L264.6 643.1 L264.7 642.1 L264.9 641.0 L265.0 640.6 L265.1 638.7 L265.2 638.0 L265.3 635.9 L265.5 634.8 L265.6 633.9 L265.7 633.4 L265.8 632.2 L265.9 631.0 L266.0 629.2 L266.2 628.4 L266.3 627.1 L266.4 625.9 L266.5 624.1 L266.6 624.2 L266.8 621.9 L266.9 622.0 L267.0 620.0 L267.2 619.5 L267.4 616.6 L267.5 616.2 L267.7 615.6 L267.9 614.6 L268.1 612.4 L268.2 610.8 L268.4 609.5 L268.6 609.6 L268.8 607.5 L268.9 605.8 L269.0 605.1 L269.1 603.2 L269.2 602.5 L269.4 602.0 L269.5 599.4 L269.6 599.3 L269.8 597.5 L269.9 596.9 L270.0 595.0 L270.1 594.1 L270.2 592.3 L270.3 592.1 L270.4 590.4 L270.5 588.5 L270.6 587.4 L270.7 586.9 L270.8 585.7 L270.9 584.3 L271.0 582.9 L271.1 582.1 L271.2 580.9 L271.2 580.0 L271.3 579.2 L271.4 577.0 L271.4 576.7 L271.5 575.6 L271.5 573.6 L271.6 573.3 L271.7 571.9 L271.7 570.9 L271.8 569.0 L271.8 567.9 L271.9 566.8 L272.0 566.3 L272.0 564.6 L272.1 563.2 L272.1 562.1 L272.2 560.7 L272.3 559.2 L272.3 558.1 L272.4 557.8 L272.4 555.9 L272.5 555.0 L272.7 554.5 L272.9 552.0 L273.0 550.8 L273.2 550.0 L273.4 548.2 L273.6 547.3 L273.7 547.1 L273.9 545.7 L274.1 544.3 L274.2 542.5 L274.3 541.5 L274.4 540.8 L274.5 539.7 L274.6 538.0 L274.7 537.1 L274.8 534.9 L274.9 534.8 L275.0 533.2 L275.1 532.5 L275.2 531.2 L275.3 529.5 L275.4 528.0 L275.5 527.5 L276.5 527.6 L277.5 526.2 L277.6 527.0 L277.6 528.6 L277.7 529.6 L277.8 530.7 L277.8 532.4 L277.9 533.8 L277.9 534.2 L278.0 535.8 L278.1 536.6 L278.1 538.0 L278.2 539.0 L278.2 539.9 L278.3 541.1 L278.4 542.3 L278.4 544.3 L278.5 545.0 L278.6 546.2 L278.7 546.9 L278.7 549.0 L278.8 550.3 L278.9 550.7 L279.0 551.5 L279.0 552.7 L279.1 553.7 L279.2 555.2 L279.3 556.0 L279.3 557.4 L279.4 558.5 L279.5 560.0 L279.6 558.9 L279.6 558.1 L279.7 556.7 L279.7 555.2 L279.8 554.0 L279.8 552.9 L279.9 551.6 L279.9 550.4 L280.0 548.9 L280.0 547.9 L280.1 547.5 L280.1 545.4 L280.2 544.6 L280.2 543.6 L280.3 542.6 L280.3 540.7 L280.4 539.6 L280.4 538.4 L280.5 537.5 L280.6 538.6 L280.8 539.9 L280.9 542.1 L281.1 543.1 L281.2 544.4 L281.4 544.1 L281.6 545.4 L281.7 547.9 L281.9 549.5 L282.0 550.0 L282.1 551.1 L282.1 552.4 L282.2 552.8 L282.3 554.5 L282.3 556.3 L282.4 557.3 L282.5 558.5 L282.5 559.8 L282.6 560.1 L282.7 561.1 L282.7 562.3 L282.8 563.9 L282.9 565.2 L282.9 566.7 L283.0 567.6 L283.1 568.6 L283.1 569.9 L283.2 570.7 L283.3 572.0 L283.3 572.5 L283.4 574.6 L283.5 575.1 L283.5 577.1 L283.6 577.9 L283.7 578.6 L283.8 580.0 L283.9 578.2 L284.0 577.3 L284.1 576.7 L284.2 575.7 L284.3 573.5 L284.4 572.3 L284.6 571.9 L284.7 570.8 L284.8 569.3 L284.9 567.9 L285.0 567.3 L285.1 565.2 L285.3 564.5 L285.4 563.6 L285.5 562.5 L285.9 562.1 L286.3 560.3 L286.7 559.4 L287.1 557.5 L287.5 556.2 L288.0 554.5 L288.5 553.3 L289.0 553.3 L289.5 551.6 L290.0 550.0 L290.3 548.5 L290.6 546.9 L290.9 546.6 L291.1 545.7 L291.4 544.1 L291.7 542.7 L292.0 542.0 L292.6 543.4 L293.2 544.9 L293.9 544.7 L294.5 546.2 L295.2 546.3 L296.0 547.8 L296.8 548.9 L297.5 550.0 L299.0 551.0 L300.5 551.2 L301.6 550.3 L302.7 551.0 L303.8 550.0 L304.0 551.6 L304.2 552.3 L304.4 552.9 L304.7 555.4 L304.9 555.3 L305.1 557.4 L305.3 557.5 L305.6 558.6 L305.8 560.7 L306.0 561.0 L306.2 562.5 L306.7 564.6 L307.1 565.0 L307.5 565.7 L307.9 567.0 L308.3 568.6 L308.8 570.0 L309.4 571.5 L310.0 573.3 L310.6 573.1 L311.2 575.0 L311.8 576.1 L312.4 577.0 L313.0 578.8 L313.2 578.4 L313.4 575.8 L313.6 574.5 L313.8 573.3 L314.0 572.8 L314.2 572.5 L314.3 571.4 L314.5 569.9 L314.7 569.3 L314.9 568.0 L315.1 565.8 L315.3 564.3 L315.5 563.8 L316.6 565.4 L317.7 565.9 L318.8 566.2 L319.6 566.3 L320.4 568.4 L321.2 568.8 L322.0 570.0 L322.5 571.0 L323.0 572.2 L323.5 573.2 L324.0 574.1 L324.5 576.2 L324.7 577.1 L324.9 578.5 L325.2 580.8 L325.4 580.6 L325.6 583.3 L325.8 583.2 L326.0 584.7 L326.2 586.2 L326.8 588.1 L327.2 589.3 L327.8 589.9 L328.2 590.4 L328.8 592.5 L330.5 592.5 L330.6 593.7 L330.7 594.8 L330.8 596.8 L330.9 597.1 L331.0 598.6 L331.0 600.5 L331.1 600.6 L331.2 602.4 L331.3 604.2 L331.4 605.4 L331.5 606.2 L331.6 604.5 L331.6 603.3 L331.7 602.1 L331.8 602.0 L331.9 600.0 L331.9 599.4 L332.0 598.4 L332.1 596.5 L332.1 595.3 L332.2 594.9 L332.3 593.3 L332.4 591.7 L332.4 591.0 L332.5 589.4 L332.6 588.1 L332.6 586.6 L332.7 586.3 L332.8 585.3 L332.9 583.8 L332.9 583.0 L333.0 581.2 L333.7 581.6 L334.3 583.3 L335.0 585.0 L336.0 584.3 L337.0 583.8 L337.2 585.8 L337.5 587.1 L337.8 587.3 L338.0 588.3 L338.2 589.9 L338.5 591.2 L338.8 592.5 L339.8 593.7 L340.9 592.8 L342.0 593.8 L343.5 593.7 L345.0 592.5 L346.2 592.3 L347.5 591.2 L347.7 590.7 L347.9 589.4 L348.1 588.0 L348.3 586.4 L348.5 585.2 L348.8 584.1 L349.0 583.7 L349.2 581.3 L349.4 580.4 L349.6 580.2 L349.8 578.2 L350.0 577.5 L350.3 575.5 L350.6 574.2 L350.9 573.8 L351.2 572.2 L351.6 572.1 L351.9 570.7 L352.2 569.6 L352.5 567.5 L353.2 565.8 L353.8 564.3 L354.5 563.8 L355.3 564.3 L356.2 566.2 L357.0 567.5 L357.4 569.1 L357.7 569.9 L358.1 570.8 L358.4 572.4 L358.8 573.8 L359.6 572.7 L360.4 571.6 L361.2 570.0 L361.7 571.7 L362.1 573.1 L362.6 574.0 L363.0 575.0 L363.4 573.2 L363.8 573.4 L364.2 571.3 L364.6 570.7 L365.0 569.3 L365.4 568.9 L365.8 566.8 L366.2 566.2 L367.5 566.2 L368.8 566.6 L370.0 567.5 L371.2 567.0 L372.5 568.5 L373.8 568.0 L374.5 569.0 L375.2 569.5 L376.0 570.5 L376.8 572.5 L377.5 572.5 L378.8 572.5 L380.0 572.0 L381.2 572.5 L381.7 574.3 L382.1 575.3 L382.5 577.1 L382.9 576.8 L383.3 578.7 L383.8 580.0 L384.0 581.8 L384.3 583.1 L384.6 584.5 L384.9 584.2 L385.2 585.9 L385.5 587.5 L386.1 585.8 L386.8 584.9 L387.4 585.4 L388.1 583.6 L388.8 582.5 L389.6 584.5 L390.4 584.8 L391.2 586.2 L392.5 587.3 L393.8 587.0 L395.0 587.5 L395.8 587.9 L396.7 589.7 L397.5 590.0 L397.8 592.1 L398.1 591.8 L398.4 593.9 L398.6 595.2 L398.9 595.7 L399.2 597.3 L399.5 598.8 L401.2 597.5 L401.6 598.1 L402.0 599.5 L402.3 600.8 L402.7 602.7 L403.0 604.0 L403.4 604.5 L403.8 606.2 L404.0 606.5 L404.3 608.3 L404.6 610.1 L404.9 610.4 L405.2 611.8 L405.5 612.8 L405.8 614.5 L405.9 613.8 L406.1 612.2 L406.3 610.1 L406.5 609.0 L406.7 608.3 L406.9 607.4 L407.1 606.4 L407.3 604.2 L407.5 603.8 L408.1 602.1 L408.8 602.0 L409.4 600.4 L410.0 599.5 L410.4 600.2 L410.8 601.4 L411.2 603.7 L411.7 603.7 L412.1 605.2 L412.5 606.2 L413.1 607.2 L413.8 608.6 L414.4 610.7 L415.0 611.2 L415.8 613.0 L416.7 612.7 L417.5 613.8 L417.9 612.0 L418.3 611.7 L418.8 609.5 L419.2 607.9 L419.6 608.2 L420.0 606.2 L420.2 604.9 L420.4 604.4 L420.6 602.5 L420.8 602.2 L421.0 600.2 L421.2 598.5 L421.4 597.0 L421.6 596.8 L421.8 595.5 L421.9 597.0 L422.1 598.6 L422.4 598.4 L422.6 600.5 L422.8 601.3 L422.9 602.7 L423.1 603.3 L423.4 604.7 L423.6 606.3 L423.8 607.5 L424.6 607.0 L425.4 604.3 L426.2 603.8 L427.5 603.7 L428.8 604.3 L430.0 603.8 L430.8 605.8 L431.7 605.7 L432.5 607.5 L433.5 607.7 L434.5 610.0 L435.5 610.0 L435.9 612.0 L436.3 612.2 L436.7 612.5 L437.1 615.2 L437.5 615.5 L438.8 614.4 L440.0 613.8 L440.8 615.7 L441.7 616.5 L442.5 617.5 L442.8 619.3 L443.0 619.4 L443.2 621.8 L443.5 622.0 L443.8 623.6 L444.0 625.6 L444.2 626.8 L444.5 627.5 L444.9 625.7 L445.4 624.5 L445.8 623.6 L446.2 622.5 L446.3 623.7 L446.4 624.7 L446.4 625.5 L446.5 626.9 L446.6 628.6 L446.6 630.0 L446.7 630.1 L446.8 631.9 L446.9 633.3 L446.9 633.6 L447.0 635.7 L447.1 636.0 L447.1 637.8 L447.2 638.9 L447.2 640.0 L447.3 641.3 L447.4 642.1 L447.4 643.4 L447.4 644.8 L447.5 645.8 L447.6 647.2 L447.6 648.1 L447.6 649.3 L447.7 650.0 L447.8 651.8 L447.8 652.8 L447.9 653.7 L447.9 655.4 L447.9 656.6 L448.0 657.5 L448.1 656.3 L448.2 654.7 L448.3 654.0 L448.4 652.3 L448.5 651.1 L448.6 650.4 L448.7 648.7 L448.8 648.1 L448.9 647.0 L449.0 645.2 L449.1 644.9 L449.2 642.9 L449.3 642.7 L449.4 641.6 L449.5 640.0 L449.8 638.9 L450.0 636.9 L450.2 636.6 L450.5 635.2 L450.8 635.1 L451.0 632.5 L451.2 632.6 L451.5 631.7 L451.8 630.1 L452.0 629.1 L452.2 626.8 L452.5 626.2 L452.7 628.3 L452.9 628.5 L453.1 630.5 L453.3 631.6 L453.5 631.4 L453.8 633.6 L454.0 635.0 L454.2 634.6 L454.4 636.3 L454.6 638.2 L454.8 638.2 L455.0 640.0 L456.2 641.3 L457.5 641.2 L458.1 639.6 L458.8 639.3 L459.4 636.9 L460.0 636.2 L460.6 635.0 L461.2 634.5 L461.9 632.0 L462.5 631.2 L463.3 632.1 L464.2 633.8 L465.0 635.0 L465.3 633.6 L465.7 631.9 L466.0 631.1 L466.3 629.9 L466.7 630.2 L467.0 628.7 L467.3 627.9 L467.7 625.5 L468.0 625.0 L468.8 624.5 L469.6 622.3 L470.4 622.1 L471.2 621.2 L472.0 620.0 L472.4 620.8 L472.9 622.8 L473.3 623.3 L473.7 624.4 L474.1 626.0 L474.6 625.7 L475.0 627.5 L475.6 629.4 L476.2 629.7 L476.8 630.3 L477.4 632.0 L478.0 632.5 L478.8 631.1 L479.6 631.5 L480.4 629.8 L481.2 628.8 L481.7 629.6 L482.1 631.4 L482.5 632.0 L482.9 632.6 L483.3 634.7 L483.8 634.6 L484.2 637.1 L484.6 637.2 L485.0 638.8 L485.8 639.8 L486.7 641.3 L487.5 641.2 L488.4 640.5 L489.4 639.7 L490.3 638.1 L491.2 637.5 L492.5 635.8 L493.8 635.0 L495.0 635.0 L496.2 634.4 L497.5 635.2 L498.8 635.0 L500.0 635.3 L501.2 635.9 L502.5 636.2 L503.4 637.9 L504.4 637.5 L505.3 638.6 L506.2 640.0 L507.5 639.9 L508.8 638.3 L510.0 638.8 L510.8 636.9 L511.5 636.5 L512.2 635.0 L513.0 634.5 L513.8 633.8 L515.0 632.4 L516.2 632.2 L517.5 631.2 L518.1 630.4 L518.8 628.6 L519.4 628.3 L520.0 627.0 L520.6 625.4 L521.2 625.0 L521.5 624.5 L521.8 622.0 L522.0 620.6 L522.2 619.3 L522.5 619.0 L522.8 618.2 L523.0 616.2 L523.3 618.0 L523.6 618.6 L523.9 619.6 L524.1 620.4 L524.4 622.8 L524.7 623.9 L525.0 625.0 L525.9 623.8 L526.9 623.4 L527.8 622.1 L528.8 621.2 L530.0 622.9 L531.2 623.3 L532.5 623.8 L533.2 624.3 L534.0 626.5 L534.8 625.9 L535.5 627.8 L536.2 628.8 L536.5 629.7 L536.8 630.5 L537.0 631.3 L537.2 633.8 L537.5 633.5 L537.8 635.6 L538.0 637.4 L538.2 637.1 L538.5 638.3 L538.8 640.0 L539.6 641.4 L540.4 642.5 L541.2 643.8 L541.8 642.8 L542.2 641.8 L542.8 639.4 L543.2 638.4 L543.8 637.5 L545.0 636.3 L546.2 635.0 L547.5 635.0 L548.4 636.6 L549.4 637.4 L550.3 638.2 L551.2 638.8 L552.5 637.0 L553.8 637.7 L555.0 636.2 L556.2 636.3 L557.5 635.4 L558.8 635.0 L559.7 634.5 L560.6 633.0 L561.6 631.7 L562.5 631.2 L562.5 631.2 L563.1 629.3 L563.8 628.3 L564.4 626.7 L565.0 626.2 L565.4 624.7 L565.7 624.2 L566.1 622.9 L566.4 621.9 L566.8 620.4 L567.1 618.3 L567.5 617.5 L567.8 616.3 L568.2 614.9 L568.5 614.3 L568.8 612.5 L569.2 610.8 L569.5 610.0 L569.7 609.0 L569.9 608.3 L570.0 605.7 L570.2 605.7 L570.4 602.9 L570.5 602.1 L570.7 600.8 L570.9 600.4 L571.1 599.6 L571.2 597.5 L571.5 599.2 L571.8 599.7 L572.1 601.9 L572.4 602.2 L572.7 603.3 L573.0 605.0 L573.2 607.0 L573.4 607.7 L573.7 609.1 L573.9 610.3 L574.1 612.1 L574.3 612.4 L574.6 614.4 L574.8 615.4 L575.0 616.2 L575.8 615.6 L576.7 613.6 L577.5 612.5 L578.5 614.2 L579.5 615.0 L579.9 613.9 L580.3 612.2 L580.8 610.7 L581.2 610.2 L581.6 608.0 L582.0 607.5 L582.4 607.0 L582.8 604.4 L583.2 602.9 L583.7 601.8 L584.1 602.0 L584.5 600.0 L584.9 598.5 L585.3 596.9 L585.8 595.4 L586.2 594.2 L586.6 594.1 L587.0 592.5 L587.8 591.7 L588.7 590.9 L589.5 589.5 L590.5 590.9 L591.5 590.7 L592.5 592.5 L594.0 592.9 L595.5 593.0 L596.3 591.8 L597.2 591.6 L598.0 590.0 L598.5 591.8 L599.0 593.2 L599.5 593.0 L600.0 595.7 L600.5 596.2 L600.7 598.2 L600.9 599.5 L601.1 599.3 L601.2 600.7 L601.4 601.8 L601.6 602.9 L601.8 605.6 L602.0 606.2 L602.5 605.6 L603.0 604.0 L603.5 603.1 L604.0 601.5 L604.5 600.0 L605.1 600.9 L605.8 601.8 L606.4 603.0 L607.0 605.0 L608.5 604.8 L610.0 603.8 L610.6 602.2 L611.2 601.4 L611.8 600.6 L612.4 598.9 L613.0 598.8 L613.8 597.1 L614.7 595.9 L615.5 595.0 L616.6 594.7 L617.7 593.4 L618.8 593.0 L619.6 593.8 L620.4 596.1 L621.2 596.4 L622.0 597.5 L623.2 598.1 L624.3 597.7 L625.5 597.5 L626.8 596.5 L628.2 597.0 L629.5 597.0 L630.7 596.9 L631.8 597.5 L633.0 597.0 L634.1 596.2 L635.2 596.4 L636.2 595.5 L637.5 595.2 L638.8 594.3 L640.0 594.5 L640.8 594.0 L641.5 591.5 L642.2 591.7 L643.0 590.0 L644.6 589.8 L646.2 590.8 L647.3 589.4 L648.4 589.4 L649.5 589.5 L650.5 590.6 L651.5 591.5 L652.5 591.2 L653.8 591.0 L655.0 592.5 L655.5 591.2 L656.0 590.0 L656.5 589.3 L657.0 586.9 L657.5 586.2 L657.8 585.0 L658.1 583.5 L658.4 583.1 L658.8 580.8 L659.1 580.8 L659.4 578.4 L659.7 577.0 L660.0 576.2 L660.5 575.4 L661.0 573.7 L661.5 571.8 L662.0 571.5 L662.5 570.0 L662.8 568.0 L663.0 568.0 L663.2 566.6 L663.5 565.5 L663.8 564.0 L664.0 562.2 L664.2 561.1 L664.5 560.0 L664.9 558.6 L665.2 558.2 L665.5 555.5 L665.9 555.7 L666.2 553.8 L666.3 554.2 L666.4 555.7 L666.5 556.9 L666.6 559.0 L666.7 559.6 L666.8 560.5 L666.9 562.4 L667.0 562.7 L667.1 564.1 L667.1 565.4 L667.2 566.9 L667.3 568.0 L667.4 569.0 L667.5 570.0 L667.8 568.5 L668.0 567.2 L668.2 565.6 L668.5 565.6 L668.8 564.0 L669.0 562.9 L669.2 560.7 L669.5 560.0 L670.1 561.1 L670.8 563.0 L671.4 563.9 L672.0 565.0 L673.0 563.5 L674.0 563.3 L675.0 562.5 L676.5 563.8 L678.0 563.8 L679.6 562.9 L681.2 563.0 L681.9 563.6 L682.5 564.9 L683.1 566.7 L683.8 567.5 L684.0 569.4 L684.2 569.4 L684.4 570.6 L684.6 572.0 L684.8 573.4 L685.1 575.0 L685.3 575.6 L685.5 577.5 L685.9 575.9 L686.3 574.4 L686.7 574.6 L687.1 572.9 L687.5 571.2 L688.5 571.4 L689.5 573.7 L690.5 573.8 L692.1 573.0 L693.8 573.8 L695.4 573.9 L697.0 574.5 L697.6 574.2 L698.2 572.7 L698.8 571.5 L699.4 569.8 L700.0 568.8 L701.5 568.8 L703.0 570.0 L704.1 570.7 L705.2 570.1 L706.2 571.2 L707.3 570.3 L708.4 570.2 L709.5 570.0 L711.0 568.5 L712.5 568.8 L714.0 567.9 L715.5 567.5 L716.6 567.6 L717.7 567.0 L718.8 566.2 L719.6 565.0 L720.4 564.0 L721.2 562.5 L721.9 561.2 L722.5 559.4 L723.1 558.9 L723.8 557.5 L724.8 558.0 L725.9 559.3 L727.0 559.5 L728.0 559.2 L729.0 557.2 L730.0 556.2 L731.5 556.8 L733.0 557.0 L734.1 556.6 L735.2 555.2 L736.2 554.5 L737.9 553.6 L739.5 553.8 L740.5 553.3 L741.5 552.8 L742.5 551.2 L742.9 550.5 L743.3 549.1 L743.8 548.1 L744.2 546.6 L744.6 545.3 L745.0 543.8 L745.5 542.4 L746.0 540.9 L746.5 540.2 L747.0 538.0 L747.5 537.5 L747.8 536.1 L748.1 535.5 L748.4 534.1 L748.8 532.7 L749.1 530.8 L749.4 529.9 L749.7 528.7 L750.0 527.5 L750.1 528.9 L750.2 529.9 L750.4 531.5 L750.5 533.2 L750.6 533.2 L750.8 535.2 L750.9 536.7 L751.0 537.3 L751.1 538.7 L751.2 540.0 L751.4 542.1 L751.6 541.7 L751.8 543.8 L752.0 544.4 L752.2 546.8 L752.4 548.3 L752.6 548.8 L752.8 549.3 L753.0 551.2 L753.3 550.1 L753.6 548.8 L753.9 547.9 L754.1 546.3 L754.4 545.3 L754.7 544.3 L755.0 542.5 L756.2 543.2 L757.5 543.8 L758.3 542.3 L759.2 542.1 L760.0 540.0 L760.8 538.2 L761.7 537.8 L762.5 536.2 L763.3 534.8 L764.2 534.2 L765.0 532.5 L766.2 532.4 L767.5 533.8 L768.0 533.4 L768.5 531.0 L769.0 529.2 L769.5 528.3 L770.0 527.5 L770.6 526.1 L771.2 524.1 L771.9 523.6 L772.5 522.5 L773.1 521.2 L773.8 520.6 L774.4 518.9 L775.0 518.0 L775.4 518.7 L775.8 519.8 L776.2 521.9 L776.6 523.4 L777.0 523.8 L777.6 522.5 L778.2 520.7 L778.8 520.0 L779.0 521.8 L779.2 522.3 L779.5 523.2 L779.8 524.3 L780.0 526.7 L780.2 528.1 L780.5 528.8 L780.8 530.1 L781.0 530.9 L781.2 532.2 L781.5 532.8 L781.8 535.2 L782.0 535.2 L782.2 536.9 L782.5 538.3 L782.8 539.4 L783.0 540.0 L783.3 538.7 L783.7 537.1 L784.0 536.3 L784.3 534.3 L784.7 534.4 L785.0 532.5 L785.5 531.0 L786.0 530.6 L786.5 528.3 L787.0 527.3 L787.5 526.2 L788.3 524.6 L789.2 523.6 L790.0 522.5 L791.2 521.3 L792.5 521.2 L793.3 519.5 L794.2 520.0 L795.0 518.8 L795.6 517.1 L796.2 515.8 L796.9 514.6 L797.5 513.8 L797.9 512.5 L798.3 511.1 L798.8 510.2 L799.2 509.0 L799.6 507.3 L800.0 506.2 L800.4 505.8 L800.7 504.4 L801.1 501.7 L801.4 501.8 L801.8 500.7 L802.1 499.3 L802.5 497.5 L803.0 495.6 L803.5 495.6 L804.0 494.0 L804.5 492.5 L804.9 490.4 L805.2 489.1 L805.5 489.6 L805.9 487.8 L806.2 486.2 L806.6 484.6 L807.0 483.0 L807.3 481.9 L807.6 480.8 L808.0 480.0 L808.2 479.2 L808.5 477.2 L808.8 475.6 L809.0 475.7 L809.2 474.3 L809.5 472.5 L809.9 473.2 L810.4 475.7 L810.8 476.4 L811.2 477.5 L811.5 476.8 L811.7 475.3 L811.9 474.5 L812.1 473.0 L812.3 471.9 L812.6 469.5 L812.8 469.1 L813.0 467.5 L813.3 466.3 L813.7 465.4 L814.0 463.6 L814.3 463.2 L814.7 461.3 L815.0 460.0 L815.3 460.8 L815.7 462.0 L816.0 463.1 L816.3 465.0 L816.7 465.5 L817.0 467.5 L817.4 468.7 L817.9 469.4 L818.3 471.2 L818.8 472.5 L819.0 471.2 L819.3 470.1 L819.6 469.4 L819.9 466.6 L820.2 466.9 L820.5 465.0 L820.9 466.2 L821.3 467.6 L821.7 469.0 L822.1 470.6 L822.5 471.2 L823.5 469.8 L824.5 468.8 L825.4 469.9 L826.2 471.2 L826.8 470.8 L827.4 468.0 L828.0 467.5 L828.2 469.0 L828.5 470.2 L828.8 470.4 L829.0 472.7 L829.2 474.1 L829.5 475.8 L829.8 475.9 L830.0 477.5 L830.1 479.6 L830.3 480.0 L830.4 481.2 L830.6 483.2 L830.7 483.0 L830.8 485.4 L831.0 486.5 L831.1 487.2 L831.2 488.8 L831.3 488.1 L831.4 486.2 L831.5 485.2 L831.6 484.1 L831.7 483.3 L831.8 481.4 L831.9 480.5 L832.0 479.4 L832.1 478.4 L832.1 477.6 L832.2 475.7 L832.3 475.3 L832.4 473.5 L832.5 472.5 L832.7 471.3 L832.8 469.6 L833.0 468.8 L833.1 468.4 L833.3 466.5 L833.4 465.5 L833.6 463.4 L833.8 462.5 L834.0 463.4 L834.3 464.6 L834.6 466.4 L834.9 467.7 L835.2 469.3 L835.5 470.0 L835.9 467.9 L836.3 467.9 L836.7 466.9 L837.1 465.1 L837.5 463.8 L837.7 461.7 L837.9 461.0 L838.2 459.3 L838.4 458.4 L838.6 458.6 L838.8 456.8 L839.0 455.7 L839.3 454.8 L839.5 453.8 L839.7 452.1 L839.9 450.9 L840.1 449.5 L840.3 448.5 L840.4 447.4 L840.6 446.0 L840.7 444.9 L840.9 442.9 L841.0 442.5 L841.2 440.9 L841.3 440.2 L841.5 437.8 L841.7 436.8 L841.8 435.3 L842.0 435.4 L842.1 433.7 L843.1 435.4 L844.1 435.9 L845.1 436.6 L845.7 435.2 L846.4 434.8 L847.0 433.5 L847.6 431.7 L848.0 430.7 L848.4 429.0 L848.8 428.0 L849.2 427.1 L849.6 425.7 L850.0 424.8 L850.4 423.8 L850.7 425.2 L850.9 426.9 L851.2 426.5 L851.4 428.5 L851.7 428.7 L852.0 430.7 L853.5 429.7 L853.8 430.4 L854.0 432.9 L854.2 433.8 L854.5 435.8 L854.7 436.2 L854.9 437.6 L855.0 438.1 L855.2 439.9 L855.3 441.5 L855.4 443.2 L855.5 444.5 L855.6 445.0 L855.7 446.1 L855.9 446.9 L856.0 449.0 L856.1 449.5 L856.2 450.7 L856.3 452.4 L856.5 450.4 L856.7 449.1 L856.8 449.1 L857.0 446.9 L857.2 447.2 L857.4 444.5 L857.5 444.7 L857.7 442.1 L857.9 441.6 L858.4 442.0 L858.9 444.6 L859.5 445.5 L859.7 443.7 L859.9 443.3 L860.2 441.0 L860.4 439.5 L860.6 439.4 L860.9 437.6 L861.5 436.7 L862.2 435.6 L862.8 433.7 L863.8 433.1 L864.8 431.7 L865.1 429.8 L865.4 429.7 L865.6 428.7 L865.9 427.1 L866.2 426.9 L866.5 424.5 L866.8 423.8 L867.0 423.5 L867.2 421.8 L867.4 419.4 L867.6 418.2 L867.8 418.2 L868.0 417.3 L868.2 414.8 L868.4 414.0 L868.6 413.6 L868.8 412.0 L869.4 412.4 L870.1 414.6 L870.7 414.9 L871.4 413.6 L872.0 411.5 L872.7 411.0 L874.7 412.0 L874.9 410.5 L875.2 409.6 L875.4 408.2 L875.7 407.4 L875.9 405.2 L876.1 405.1 L876.4 403.1 L876.6 402.1 L877.0 401.2 L877.3 400.0 L877.6 398.5 L878.0 397.3 L878.3 396.9 L878.6 395.2 L878.9 397.2 L879.1 398.0 L879.3 398.8 L879.5 399.4 L879.8 400.2 L880.0 402.1 L880.2 404.2 L880.3 405.0 L880.5 406.5 L880.7 406.9 L880.8 408.6 L881.0 410.6 L881.2 411.0 L881.3 410.3 L881.4 408.7 L881.5 407.0 L881.6 405.9 L881.8 405.4 L881.9 403.4 L882.0 402.6 L882.1 401.3 L882.2 400.5 L882.3 399.1 L882.5 397.1 L882.6 396.2 L882.9 394.2 L883.1 393.5 L883.4 392.7 L883.7 391.8 L884.0 391.1 L884.3 390.1 L884.5 388.3 L884.8 386.3 L885.1 386.6 L885.4 385.5 L885.7 384.4 L885.9 382.8 L886.2 381.1 L886.5 380.4 L886.8 379.8 L887.0 378.5 L887.3 377.0 L887.5 376.2 L887.7 374.0 L888.0 372.2 L888.2 371.9 L888.5 370.5 L888.7 369.7 L889.0 367.4 L889.2 367.0 L889.4 366.0 L889.6 363.5 L889.9 362.6 L889.9 361.6 L890.0 360.5 L890.1 359.0 L890.2 357.5 L890.3 356.4 L890.3 355.9 L890.4 354.7 L890.5 353.1 L890.6 351.4 L890.7 351.2 L890.7 350.0 L890.8 348.1 L890.9 347.3 L891.0 346.6 L891.0 344.9 L891.3 344.2 L891.5 342.3 L891.7 340.9 L892.0 339.8 L892.2 337.7 L892.4 337.0 L893.8 338.0 L894.0 336.2 L894.2 335.0 L894.3 334.7 L894.5 332.9 L894.7 332.0 L894.9 330.6 L895.0 329.6 L895.2 327.7 L895.4 327.1 L895.5 327.6 L895.6 330.3 L895.7 330.5 L895.8 331.3 L895.9 333.3 L896.0 334.8 L896.2 335.0 L896.3 336.9 L896.4 338.0 L896.5 338.9 L896.7 340.4 L896.8 340.7 L897.0 341.9 L897.1 344.9 L897.3 345.9 L897.5 346.4 L897.6 347.7 L897.8 348.8 L898.1 347.2 L898.4 347.0 L898.7 345.1 L899.0 344.9 L899.3 342.9 L899.5 344.5 L899.6 345.7 L899.7 347.2 L899.9 347.1 L900.0 347.8 L900.1 349.3 L900.3 350.4 L900.4 351.4 L900.5 352.5 L900.7 354.5 L900.8 356.2 L900.9 356.7 L901.1 355.4 L901.3 355.0 L901.4 353.7 L901.6 351.0 L901.8 350.7 L902.0 349.1 L902.1 347.4 L902.3 346.8 L902.5 346.4 L902.6 343.9 L902.8 343.3 L903.0 342.2 L903.2 341.5 L903.3 339.7 L903.5 338.0 L903.7 337.0 L903.9 338.1 L904.1 338.8 L904.3 341.5 L904.5 342.8 L904.7 342.6 L904.9 343.5 L905.1 345.2 L905.3 346.8 L905.6 347.8 L905.9 349.9 L906.2 351.1 L906.5 352.2 L906.8 352.8 L907.1 353.1 L907.4 355.6 L907.7 356.7 L907.9 357.8 L908.2 358.7 L908.9 358.6 L909.6 356.7 L909.8 357.2 L909.9 358.5 L910.1 360.9 L910.2 362.4 L910.3 363.2 L910.5 363.8 L910.6 365.5 L910.8 366.6 L912.0 366.5 L913.2 365.6 L913.3 366.0 L913.4 367.6 L913.6 368.7 L913.7 369.6 L913.9 371.4 L914.0 372.0 L914.2 373.3 L914.3 374.3 L914.5 376.4 L914.6 376.4 L914.7 378.4 L914.8 379.9 L914.9 380.4 L915.0 381.4 L915.0 383.8 L915.1 384.1 L915.2 386.2 L915.3 387.3 L915.4 388.6 L915.4 388.8 L915.5 390.4 L915.6 391.2 L915.7 393.4 L915.7 394.5 L915.8 395.5 L915.9 396.5 L916.0 397.5 L916.0 399.3 L916.1 400.1 L916.3 398.9 L916.4 398.0 L916.5 396.0 L916.7 394.9 L916.8 393.4 L916.9 393.4 L917.1 391.9 L917.2 390.0 L917.4 390.1 L917.5 388.3 L917.8 386.7 L918.1 385.8 L918.4 384.1 L918.8 383.1 L919.1 382.4 L919.3 381.7 L919.5 379.6 L919.7 378.1 L919.9 377.4 L920.1 375.9 L920.3 375.7 L920.5 373.0 L920.7 372.5 L921.0 372.2 L921.3 369.4 L921.6 369.8 L922.0 368.2 L922.3 366.2 L922.6 365.6 L922.9 366.8 L923.2 367.7 L923.5 369.0 L923.8 370.1 L924.0 371.7 L924.3 374.1 L924.6 374.5 L925.3 374.1 L925.9 372.6 L926.6 370.5 L926.8 368.7 L927.0 367.8 L927.3 367.8 L927.5 365.1 L927.7 365.2 L928.0 363.6 L928.1 364.4 L928.2 366.8 L928.3 366.3 L928.5 368.8 L928.6 369.2 L928.7 370.0 L928.8 370.9 L929.0 373.5 L929.1 374.2 L929.2 374.8 L929.3 376.4 L929.7 377.5 L930.1 379.6 L930.5 379.5 L930.9 381.3 L931.3 382.4 L931.6 382.9 L932.0 384.1 L932.3 386.3 L932.6 387.4 L933.0 387.6 L933.3 389.3 L933.6 387.3 L933.9 386.2 L934.2 385.9 L934.6 384.5 L934.9 383.4 L935.2 384.1 L935.5 385.1 L935.9 387.0 L936.2 388.3 L936.5 389.7 L936.8 390.3 L937.1 391.5 L937.4 392.0 L937.7 392.9 L938.0 395.2 L938.3 395.7 L938.5 397.4 L938.8 398.2 L939.6 398.3 L940.3 400.7 L941.0 400.8 L941.8 402.1 L942.0 401.5 L942.3 400.3 L942.5 398.4 L942.8 396.3 L943.0 396.7 L943.3 394.7 L943.5 394.1 L943.8 392.2 L944.1 390.7 L944.5 389.4 L944.9 389.5 L945.2 387.5 L945.6 386.0 L946.0 385.2 L946.3 384.3 L946.8 383.3 L947.3 381.1 L947.7 380.8 L948.2 379.5 L948.7 378.4 L949.7 379.4 L950.7 380.4 L951.3 378.7 L951.8 378.8 L952.4 378.0 L953.0 377.1 L953.6 375.5 L954.1 376.4 L954.6 378.3 L955.1 378.9 L955.6 380.4 L956.1 382.1 L956.6 382.1 L957.1 384.8 L957.6 385.3 L959.5 386.3 L959.9 388.3 L960.3 388.7 L960.7 389.9 L961.1 391.1 L961.5 392.2 L962.0 393.5 L962.5 393.8 L963.0 396.8 L963.5 397.2 L964.1 395.7 L964.8 394.6 L965.5 394.2 L967.4 394.2 L967.7 394.6 L968.0 396.0 L968.3 398.2 L968.6 397.9 L968.8 399.1 L969.1 401.3 L969.4 402.1 L970.1 402.9 L970.7 403.9 L971.4 406.1 L972.0 405.2 L972.7 404.2 L973.4 403.1 L973.8 404.3 L974.2 405.7 L974.6 405.8 L975.1 408.3 L975.5 409.1 L975.9 409.0 L976.3 411.0 L976.6 409.2 L977.0 408.7 L977.3 407.5 L977.6 406.0 L978.0 404.6 L978.3 404.1 L978.9 402.9 L979.6 401.5 L980.3 401.1 L980.9 402.5 L981.4 404.2 L982.0 404.2 L982.6 406.1 L982.9 404.9 L983.1 404.0 L983.4 401.7 L983.6 401.7 L983.9 400.7 L984.1 398.4 L984.4 397.3 L984.6 396.2 L984.9 395.6 L985.2 393.8 L985.6 392.3 L985.9 392.0 L986.2 390.5 L986.5 388.5 L986.8 387.1 L987.2 386.3 L988.0 387.0 L988.9 388.2 L989.7 389.3 L990.1 391.4 L990.4 392.4 L990.8 393.8 L991.1 394.9 L991.4 396.2 L991.8 396.1 L992.1 398.2 L992.4 399.5 L992.8 401.5 L993.1 402.7 L993.5 402.8 L993.8 404.4 L994.1 406.0 L994.5 407.0 L995.8 406.3 L997.0 406.1 L998.5 405.6 L1000.0 405.1 L1000.4 403.1 L1000.8 402.6 L1001.2 401.5 L1001.6 399.4 L1002.0 399.1 L1002.8 397.4 L1003.6 398.0 L1004.3 396.1 L1004.5 397.9 L1004.7 399.4 L1004.9 400.1 L1005.1 401.6 L1005.3 403.0 L1005.5 404.2 L1005.7 403.9 L1005.9 406.0 L1007.4 405.7 L1008.9 405.0 L1009.9 403.9 L1010.9 404.0 L1011.8 403.0 L1013.3 403.1 L1014.8 404.0 L1016.3 403.8 L1017.8 403.4 L1018.7 405.0 L1019.7 405.4 L1020.7 406.0 L1021.7 404.9 L1022.7 404.7 L1023.7 404.0 L1025.2 404.6 L1026.6 405.4 L1028.1 406.0 L1029.6 405.0 L1031.1 404.4 L1032.6 404.6 L1033.2 405.4 L1033.9 407.1 L1034.5 408.0 L1034.7 408.5 L1034.9 410.7 L1035.1 412.6 L1035.3 413.1 L1035.5 413.9 L1035.7 415.5 L1035.9 416.8 L1036.0 418.1 L1036.2 418.6 L1036.3 419.8 L1036.4 421.0 L1036.5 422.4 L1036.6 423.8 L1036.8 424.8 L1036.9 425.9 L1037.0 426.8 L1037.1 428.7 L1037.4 429.9 L1037.7 431.7 L1037.9 432.4 L1038.2 433.6 L1038.5 434.6 L1038.8 436.0 L1039.1 436.4 L1039.5 438.4 L1039.8 439.1 L1040.1 440.4 L1040.5 441.5 L1040.8 440.6 L1041.1 439.2 L1041.4 437.7 L1041.8 436.4 L1042.1 435.3 L1042.4 434.6 L1042.6 435.8 L1042.8 436.8 L1043.0 438.3 L1043.2 438.5 L1043.4 440.3 L1043.6 442.4 L1043.8 442.4 L1044.0 444.2 L1044.2 445.3 L1044.4 446.4 L1044.9 447.2 L1045.4 449.7 L1045.9 449.6 L1046.5 451.7 L1047.0 452.4 L1047.1 450.5 L1047.3 449.1 L1047.5 449.3 L1047.6 447.3 L1047.8 445.4 L1048.0 444.8 L1048.1 443.6 L1048.3 442.9 L1048.5 440.6 L1048.6 439.5 L1048.8 439.6 L1049.0 437.6 L1049.5 439.2 L1050.1 439.4 L1050.7 441.0 L1051.3 442.5 L1052.3 441.2 L1053.3 440.5 L1054.3 439.9 L1055.3 438.8 L1056.2 437.6 L1056.6 439.3 L1057.0 440.4 L1057.4 441.0 L1057.7 442.5 L1058.1 443.6 L1058.5 444.8 L1058.8 445.5 L1060.0 444.4 L1061.2 443.5 L1062.2 445.0 L1063.2 445.8 L1064.1 446.4 L1065.1 447.9 L1066.1 447.1 L1067.1 448.4 L1068.6 449.6 L1070.1 449.4 L1070.7 447.5 L1071.3 447.9 L1071.8 446.6 L1072.4 445.5 L1073.0 444.5 L1073.5 444.2 L1074.0 442.3 L1074.5 440.9 L1075.0 440.4 L1075.5 439.4 L1076.0 437.6 L1076.6 438.7 L1077.3 439.3 L1077.9 440.4 L1078.5 441.5 L1079.7 440.9 L1080.9 440.5 L1082.4 440.4 L1083.9 439.5 L1084.9 438.5 L1085.9 438.0 L1086.8 437.6 L1088.3 437.7 L1089.8 437.6 L1091.8 436.6 L1091.9 435.2 L1092.0 434.0 L1092.1 433.6 L1092.2 432.5 L1092.4 430.8 L1092.5 429.6 L1092.6 428.0 L1092.7 427.1 L1092.8 425.6 L1092.9 425.2 L1093.0 424.0 L1093.2 422.8 L1093.8 421.0 L1094.4 421.5 L1095.1 419.5 L1095.7 418.8 L1097.2 419.9 L1098.7 419.8 L1099.4 419.4 L1100.2 418.7 L1100.9 416.3 L1101.6 415.9 L1102.3 416.7 L1103.0 418.6 L1103.6 418.8 L1104.1 416.8 L1104.6 415.7 L1105.1 415.5 L1105.6 414.2 L1106.1 413.8 L1106.6 411.9 L1106.8 411.2 L1106.9 409.6 L1107.1 409.3 L1107.3 407.3 L1107.5 406.1 L1107.7 405.2 L1107.8 403.5 L1108.0 402.3 L1108.2 401.6 L1108.4 400.0 L1108.5 399.1 L1108.8 398.7 L1109.0 397.0 L1109.2 395.5 L1109.4 393.5 L1109.6 392.8 L1109.9 391.7 L1110.1 390.7 L1110.3 389.6 L1110.5 388.2 L1111.0 390.1 L1111.5 391.5 L1112.0 391.9 L1112.5 393.2 L1112.8 391.8 L1113.1 390.8 L1113.3 390.2 L1113.6 387.8 L1113.9 386.9 L1114.2 386.1 L1114.5 384.3 L1115.7 383.2 L1116.8 383.3 L1117.2 384.1 L1117.5 386.4 L1117.8 387.2 L1118.1 387.8 L1118.4 388.1 L1118.8 390.7 L1119.1 391.4 L1119.4 392.2 L1121.4 391.2 L1121.7 390.6 L1121.9 389.8 L1122.2 388.5 L1122.5 386.5 L1122.8 384.9 L1123.1 384.0 L1123.4 383.3 L1123.6 382.2 L1123.9 381.0 L1124.2 379.3 L1124.5 378.2 L1124.8 377.9 L1125.0 376.7 L1125.3 375.4 L1125.5 373.9 L1125.6 373.9 L1125.7 372.1 L1125.9 369.8 L1126.0 369.3 L1126.2 368.8 L1126.3 366.8 L1126.4 366.3 L1126.6 363.9 L1126.7 363.6 L1127.0 361.9 L1127.2 361.5 L1127.5 359.8 L1127.8 358.6 L1128.0 356.4 L1128.3 355.7 L1128.5 356.9 L1128.6 358.2 L1128.8 358.9 L1129.0 360.7 L1129.2 361.7 L1129.3 363.8 L1129.5 364.2 L1129.7 365.1 L1129.9 366.5 L1130.9 364.8 L1131.8 364.5 L1132.3 362.7 L1132.8 362.5 L1133.3 360.1 L1133.8 359.6 L1134.1 360.1 L1134.3 361.5 L1134.6 363.3 L1134.8 365.1 L1135.1 366.0 L1135.3 367.6 L1135.5 367.4 L1135.8 369.5 L1136.1 369.7 L1136.4 372.2 L1136.6 372.5 L1136.9 374.4 L1137.2 374.8 L1137.5 375.6 L1137.8 377.4 L1138.3 375.7 L1138.8 374.2 L1139.2 374.4 L1139.7 372.4 L1140.2 373.8 L1140.7 374.6 L1141.2 376.0 L1141.7 377.4 L1142.0 376.0 L1142.3 374.3 L1142.6 374.7 L1142.8 373.0 L1143.1 372.6 L1143.4 370.5 L1143.7 369.5 L1144.0 368.6 L1144.2 366.8 L1144.5 365.3 L1144.8 365.7 L1145.1 364.5 L1145.4 362.4 L1145.7 361.6 L1146.2 363.5 L1146.6 364.6 L1147.1 364.9 L1147.6 366.5 L1148.1 367.9 L1148.6 369.7 L1149.1 370.1 L1149.5 372.1 L1150.0 372.4 L1151.2 371.5 L1152.4 371.4 L1153.0 372.5 L1153.7 374.3 L1154.3 374.6 L1154.9 376.4 L1155.6 374.8 L1156.2 374.6 L1156.9 372.7 L1157.5 371.4 L1158.9 372.0 L1160.3 371.4 L1161.5 371.5 L1162.8 372.4 L1163.8 372.8 L1164.8 374.4 L1165.0 375.3 L1165.2 376.2 L1165.3 378.8 L1165.5 378.7 L1165.7 380.4 L1165.9 380.7 L1166.1 382.6 L1166.2 383.5 L1166.4 384.7 L1166.6 385.3 L1166.8 387.2 L1168.1 387.1 L1169.3 388.2 L1170.1 387.8 L1170.9 386.0 L1171.7 385.3 L1172.3 385.8 L1172.9 386.7 L1173.5 387.8 L1174.1 389.2 L1175.4 387.8 L1176.6 387.2 L1177.0 387.6 L1177.4 389.9 L1177.8 390.5 L1178.2 391.4 L1178.6 393.2 L1178.7 392.2 L1178.8 390.1 L1179.0 389.1 L1179.1 388.7 L1179.2 386.4 L1179.3 385.7 L1179.4 385.0 L1179.5 383.8 L1179.7 381.5 L1179.8 380.6 L1179.9 379.9 L1180.0 378.4 L1181.3 378.1 L1182.6 378.4 L1183.8 380.2 L1185.1 380.3 L1185.9 380.8 L1186.7 383.1 L1187.5 383.3 L1187.9 384.5 L1188.3 385.2 L1188.7 386.8 L1189.1 387.4 L1189.5 389.2 L1189.8 390.9 L1190.1 391.3 L1190.5 393.7 L1190.8 394.4 L1191.2 395.3 L1191.5 396.4 L1191.8 398.1 L1192.5 397.1 L1193.1 395.1 L1193.8 395.1 L1194.4 393.2 L1195.7 393.5 L1197.0 395.1 L1198.2 395.6 L1199.3 396.1 L1199.7 397.4 L1200.1 398.1 L1200.5 400.2 L1200.9 400.6 L1201.3 402.0 L1201.6 401.2 L1202.0 399.9 L1202.3 398.2 L1202.6 397.2 L1203.0 395.5 L1203.3 395.1 L1204.8 395.0 L1206.2 396.1 L1207.2 397.7 L1208.2 398.1 L1208.5 396.7 L1208.9 396.2 L1209.2 394.1 L1209.5 393.8 L1209.8 392.3 L1210.1 391.4 L1210.5 390.0 L1210.8 389.2 L1211.3 387.2 L1211.7 386.5 L1212.2 385.2 L1212.7 383.8 L1213.2 383.3 L1214.3 383.2 L1215.5 382.3 L1216.3 383.4 L1217.1 385.3 L1217.6 383.9 L1218.1 383.7 L1218.6 382.3 L1219.1 381.3 L1219.6 380.2 L1220.1 378.4 L1221.3 376.7 L1222.6 376.4 L1223.2 375.0 L1223.8 373.6 L1224.4 373.7 L1225.0 372.4 L1226.2 373.2 L1227.4 373.4 L1228.2 374.1 L1229.1 375.2 L1229.9 376.4 L1230.3 377.9 L1230.7 379.1 L1231.1 379.5 L1231.5 381.7 L1231.9 382.3 L1233.9 381.3 L1234.3 382.2 L1234.7 383.9 L1235.1 384.3 L1235.5 385.4 L1235.9 387.2 L1235.9 388.9 L1236.0 389.9 L1236.1 391.0 L1236.1 391.4 L1236.2 392.6 L1236.3 393.9 L1236.3 395.2 L1236.4 396.5 L1236.4 397.8 L1236.5 398.5 L1236.6 400.0 L1236.6 401.6 L1236.7 402.2 L1236.8 404.2 L1236.8 405.0 L1236.9 406.2 L1236.9 407.5 L1236.9 408.3 L1237.0 409.6 L1237.0 411.0 L1237.0 411.8 L1237.1 412.7 L1237.1 414.6 L1237.2 415.7 L1237.2 416.4 L1237.2 417.3 L1237.3 419.3 L1237.3 420.2 L1237.3 420.8 L1237.4 422.2 L1237.4 423.2 L1237.4 424.7 L1238.0 423.9 L1238.6 421.6 L1239.2 420.8 L1239.4 420.4 L1239.5 418.9 L1239.7 416.5 L1239.8 416.4 L1240.0 414.7 L1240.2 414.1 L1240.3 413.1 L1240.5 410.9 L1240.6 409.4 L1240.8 408.9 L1241.3 408.5 L1241.8 406.3 L1242.3 406.0 L1242.8 404.0 L1243.4 405.7 L1244.1 407.1 L1244.7 408.0 L1245.0 407.3 L1245.3 405.7 L1245.6 404.1 L1245.9 402.1 L1246.1 402.0 L1246.4 400.2 L1246.7 399.1 L1247.7 398.1 L1248.7 397.1 L1249.5 399.2 L1250.3 399.1 L1251.0 401.1 L1251.7 400.5 L1252.3 398.3 L1253.0 398.5 L1253.6 397.1 L1254.0 396.5 L1254.4 394.3 L1254.8 393.6 L1255.2 393.2 L1255.6 391.2 L1255.9 390.2 L1256.2 388.7 L1256.4 386.9 L1256.7 385.3 L1257.0 384.6 L1257.3 383.4 L1257.6 382.3 L1258.1 380.6 L1258.6 379.6 L1259.1 378.1 L1259.6 377.9 L1260.1 376.4 L1260.5 377.8 L1260.9 378.2 L1261.3 379.4 L1261.7 381.0 L1262.1 382.0 L1262.5 383.3 L1263.0 382.9 L1263.4 380.7 L1263.9 379.4 L1264.4 379.2 L1264.9 377.4 L1265.5 378.0 L1266.2 379.9 L1266.8 380.8 L1267.4 382.3 L1267.9 381.6 L1268.4 379.9 L1268.9 379.1 L1269.4 377.4 L1270.1 375.5 L1270.7 375.0 L1271.4 373.4 L1272.1 374.6 L1272.9 375.3 L1273.6 376.9 L1274.3 377.4 L1275.8 377.5 L1277.3 376.4 L1278.3 376.7 L1279.3 378.0 L1280.3 379.3 L1281.7 379.6 L1283.2 380.3 L1284.7 379.3 L1286.2 379.3 L1287.7 379.0 L1289.1 380.3 L1290.1 379.3 L1291.1 378.5 L1292.1 378.4 L1292.5 377.6 L1293.0 376.1 L1293.4 374.4 L1293.8 373.9 L1294.0 372.4 L1294.3 371.4 L1294.5 369.9 L1294.7 368.3 L1294.9 366.8 L1295.2 365.5 L1295.4 365.1 L1296.6 365.0 L1297.8 363.1 L1299.2 363.1 L1300.7 362.1 L1302.2 360.6 L1303.7 360.5 L1304.4 361.8 L1305.2 363.2 L1305.9 363.3 L1306.6 364.1 L1307.6 362.7 L1308.6 362.7 L1309.6 362.1 L1309.8 363.2 L1310.0 364.0 L1310.2 365.9 L1310.4 366.2 L1310.6 369.0 L1310.8 369.8 L1311.0 371.0 L1311.2 372.0 L1312.4 373.2 L1313.5 373.0 L1314.1 372.2 L1314.7 370.5 L1315.3 369.5 L1315.9 368.4 L1316.5 368.0 L1317.2 368.2 L1317.8 370.5 L1318.4 371.6 L1319.1 372.0 L1319.9 370.6 L1320.7 369.4 L1321.5 369.0 L1322.9 369.8 L1324.4 370.0 L1325.1 369.4 L1325.7 368.3 L1326.3 365.7 L1327.0 365.1 L1329.0 365.1 L1329.2 364.5 L1329.5 363.4 L1329.8 362.2 L1330.1 360.3 L1330.4 358.9 L1330.7 359.0 L1331.0 357.0 L1331.3 356.2 L1332.1 354.6 L1332.9 353.6 L1333.7 352.2 L1335.7 351.2 L1336.0 349.9 L1336.3 349.5 L1336.6 347.3 L1337.0 345.8 L1337.3 345.6 L1337.6 344.3 L1338.9 343.6 L1340.2 342.4 L1340.6 341.8 L1340.9 340.5 L1341.3 339.7 L1341.7 338.7 L1342.0 336.7 L1342.4 335.6 L1342.8 334.5 L1343.4 332.6 L1343.9 331.6 L1344.5 330.9 L1345.1 329.5 L1345.6 330.0 L1346.1 332.3 L1346.6 332.6 L1347.1 334.5 L1347.4 333.2 L1347.8 333.0 L1348.1 330.3 L1348.4 329.0 L1348.8 328.6 L1349.1 327.6 L1349.7 328.0 L1350.3 329.9 L1350.9 329.6 L1351.4 332.1 L1352.0 332.5 L1352.3 331.9 L1352.5 330.5 L1352.8 328.7 L1353.0 327.2 L1353.3 326.6 L1353.5 325.1 L1353.8 323.7 L1354.0 322.6 L1354.2 321.2 L1354.3 320.2 L1354.5 319.5 L1354.7 318.6 L1354.8 317.6 L1355.0 315.7 L1355.8 314.1 L1356.6 313.4 L1357.4 312.8 L1357.6 311.3 L1357.9 310.2 L1358.2 308.5 L1358.4 307.0 L1358.7 305.4 L1359.0 304.9 L1359.2 303.3 L1359.4 302.3 L1359.7 302.0 L1359.9 300.7 L1360.2 299.4 L1360.4 298.3 L1360.7 297.1 L1360.9 295.0 L1361.1 294.0 L1361.2 293.2 L1361.4 290.7 L1361.6 290.6 L1361.7 289.3 L1361.9 287.5 L1362.0 286.8 L1362.2 286.3 L1362.3 284.3 L1362.5 283.2 L1362.7 282.3 L1363.0 280.5 L1363.2 279.4 L1363.4 279.2 L1363.7 276.6 L1363.9 276.2 L1364.1 276.9 L1364.2 279.0 L1364.4 279.9 L1364.6 280.4 L1364.7 282.7 L1364.9 283.4 L1365.1 285.0 L1365.3 286.1 L1365.6 284.8 L1365.9 283.8 L1366.2 282.7 L1366.5 281.2 L1366.8 280.2 L1367.2 280.7 L1367.6 282.1 L1368.0 284.6 L1368.4 285.1 L1368.6 286.5 L1368.8 286.9 L1368.9 289.5 L1369.1 289.6 L1369.3 290.6 L1369.5 292.6 L1369.6 293.3 L1369.8 295.0 L1371.2 296.0 L1371.5 294.7 L1371.7 293.6 L1372.0 291.7 L1372.3 291.0 L1372.6 289.0 L1372.9 288.4 L1373.2 287.1 L1373.4 286.1 L1373.7 284.1 L1374.0 283.6 L1374.3 281.8 L1374.6 281.4 L1374.8 281.0 L1375.1 279.2 L1375.3 278.1 L1375.4 277.2 L1375.6 276.1 L1375.8 273.8 L1375.9 274.2 L1376.1 272.5 L1376.2 270.2 L1376.4 270.3 L1376.6 268.4 L1376.7 267.4 L1377.4 265.5 L1378.0 265.6 L1378.7 263.4 L1379.3 262.2 L1380.0 261.3 L1380.7 259.5 L1380.9 257.5 L1381.2 257.3 L1381.5 254.7 L1381.7 253.7 L1382.0 252.7 L1382.2 251.6 L1382.4 251.9 L1382.5 254.0 L1382.6 254.6 L1382.7 255.9 L1382.8 257.7 L1382.9 258.4 L1383.0 260.3 L1383.2 261.0 L1383.3 262.5 L1383.4 263.2 L1383.5 264.9 L1383.6 265.4 L1384.3 267.0 L1384.9 266.8 L1385.6 268.4 L1386.0 267.6 L1386.4 265.7 L1386.8 265.3 L1387.2 263.9 L1387.6 262.4 L1387.7 261.8 L1387.9 259.3 L1388.1 258.5 L1388.3 257.9 L1388.4 257.1 L1388.6 255.4 L1388.8 253.0 L1389.0 252.6 L1389.3 251.5 L1389.7 249.4 L1390.1 249.0 L1390.5 247.6 L1391.0 249.4 L1391.5 249.4 L1392.0 252.1 L1392.5 252.6 L1394.5 251.6 L1394.6 253.0 L1394.8 253.4 L1395.0 254.5 L1395.1 256.1 L1395.3 257.9 L1395.5 258.5 L1395.8 257.5 L1396.1 255.5 L1396.4 254.2 L1396.8 253.2 L1397.1 253.3 L1397.4 251.6 L1398.9 250.5 L1400.4 250.6 L1402.4 251.6 L1402.6 250.5 L1402.9 248.9 L1403.2 248.5 L1403.4 246.8 L1403.7 245.2 L1404.0 244.7 L1404.2 246.5 L1404.5 247.0 L1404.8 248.4 L1405.1 249.7 L1405.4 251.1 L1405.6 250.6 L1405.9 252.6 L1406.3 253.5 L1406.7 254.3 L1407.1 256.1 L1407.5 258.0 L1407.9 258.5 L1408.4 260.3 L1408.8 260.3 L1409.3 262.4 L1409.5 260.7 L1409.7 260.6 L1409.9 259.1 L1410.2 257.4 L1410.4 256.4 L1410.6 254.6 L1410.8 254.6 L1411.0 252.6 L1411.2 251.6 L1412.7 251.8 L1414.2 250.6 L1414.4 252.0 L1414.6 252.3 L1414.8 254.0 L1415.0 255.0 L1415.2 257.5 L1415.4 258.2 L1415.6 258.4 L1415.8 260.5 L1416.0 261.1 L1416.2 262.7 L1416.4 264.2 L1416.6 265.7 L1416.8 266.6 L1417.0 267.8 L1417.2 269.3 L1417.3 269.7 L1417.5 271.9 L1417.7 272.7 L1417.9 273.4 L1418.0 275.4 L1418.2 277.6 L1418.4 277.2 L1418.5 279.2 L1418.8 279.7 L1419.1 281.8 L1419.3 282.3 L1419.6 283.4 L1419.9 285.0 L1420.1 286.1 L1421.3 286.2 L1422.5 287.1 L1422.9 286.1 L1423.2 284.9 L1423.6 284.5 L1424.0 283.5 L1424.3 280.6 L1424.7 280.4 L1425.1 279.2 L1425.3 280.9 L1425.6 282.3 L1425.8 283.4 L1426.1 284.4 L1426.3 285.6 L1426.5 286.4 L1426.8 287.5 L1427.0 289.1 L1427.3 288.4 L1427.6 287.4 L1427.8 286.3 L1428.1 284.7 L1428.3 282.8 L1428.6 282.4 L1428.8 281.2 L1429.1 279.6 L1429.4 278.7 L1429.6 277.2 L1429.9 278.1 L1430.2 279.6 L1430.5 280.5 L1430.7 281.0 L1431.0 282.6 L1431.3 283.7 L1431.6 285.1 L1431.8 287.3 L1432.0 287.6 L1432.2 288.7 L1432.4 289.7 L1432.6 291.0 L1432.8 292.5 L1433.0 294.0 L1433.3 292.2 L1433.7 290.9 L1434.1 291.3 L1434.4 289.5 L1434.8 288.4 L1435.2 287.5 L1435.6 285.9 L1435.9 285.1 L1436.7 285.5 L1437.5 286.3 L1438.3 288.1 L1439.6 288.2 L1440.9 289.1 L1441.5 290.1 L1442.2 292.1 L1442.8 293.0 L1443.3 294.4 L1443.8 296.3 L1444.3 296.4 L1444.8 298.0 L1445.0 297.6 L1445.2 295.8 L1445.3 293.7 L1445.5 292.7 L1445.7 292.3 L1445.9 291.8 L1446.1 289.5 L1446.2 289.1 L1446.4 287.3 L1446.6 287.0 L1446.8 285.1 L1447.0 283.1 L1447.2 282.7 L1447.4 282.2 L1447.7 279.9 L1447.9 278.7 L1448.1 277.0 L1448.3 276.1 L1448.5 275.1 L1448.8 274.3 L1450.0 273.7 L1451.3 272.3 L1451.8 270.6 L1452.3 269.8 L1452.7 268.2 L1453.2 267.7 L1453.7 266.4 L1454.9 266.1 L1456.0 264.4 L1457.3 263.7 L1458.6 262.4 L1459.5 262.9 L1460.3 264.8 L1461.2 265.4 L1462.4 265.7 L1463.5 264.4 L1463.9 263.4 L1464.2 261.3 L1464.5 261.4 L1464.8 260.3 L1465.1 258.5 L1465.3 259.5 L1465.5 260.4 L1465.7 261.7 L1465.9 263.6 L1466.1 265.5 L1466.3 266.4 L1466.5 267.4 L1468.5 266.4 L1469.9 265.4 L1470.0 267.4 L1470.2 267.3 L1470.4 268.7 L1470.6 270.7 L1470.7 271.7 L1470.9 272.5 L1471.1 274.2 L1471.3 274.8 L1471.5 276.2 L1472.9 275.0 L1474.4 275.3 L1474.6 273.9 L1474.7 272.1 L1474.8 271.9 L1475.0 270.2 L1475.1 269.3 L1475.3 268.2 L1475.4 266.4 L1475.5 265.6 L1475.7 263.6 L1475.8 264.0 L1476.0 262.2 L1476.1 261.7 L1476.2 258.9 L1476.4 258.5 L1477.0 257.4 L1477.7 256.3 L1478.4 254.5 L1479.0 252.9 L1479.7 251.2 L1480.3 250.6 L1480.7 248.8 L1481.1 247.7 L1481.4 247.7 L1481.8 245.3 L1482.2 245.5 L1482.5 243.7 L1482.9 242.7 L1483.3 243.9 L1483.7 245.2 L1484.1 246.3 L1484.5 247.6 L1484.9 248.6 L1485.3 249.6 L1485.9 248.3 L1486.4 248.1 L1487.0 246.2 L1487.6 245.7 L1489.6 245.7 L1490.1 244.8 L1490.6 243.7 L1491.1 242.5 L1491.6 240.7 L1492.2 241.7 L1492.9 243.8 L1493.5 244.7 L1493.9 246.7 L1494.2 247.0 L1494.5 247.8 L1494.8 249.4 L1495.1 250.6 L1497.1 251.6 L1497.8 253.7 L1498.4 253.6 L1499.1 255.5 L1499.7 253.7 L1500.4 253.5 L1501.0 252.6 L1501.3 254.2 L1501.6 255.7 L1501.8 256.3 L1502.1 258.7 L1502.4 258.7 L1502.6 260.5 L1503.2 261.9 L1503.8 261.7 L1504.4 262.6 L1505.0 264.4 L1506.0 264.7 L1507.0 266.4 L1509.0 265.4 L1509.4 263.4 L1509.9 262.9 L1510.4 261.8 L1510.9 260.5 L1511.3 261.1 L1511.7 263.6 L1512.1 263.8 L1512.5 264.6 L1512.9 266.4 L1514.9 267.4 L1515.2 267.9 L1515.5 270.1 L1515.9 271.6 L1516.2 271.4 L1516.5 272.3 L1516.8 274.3 L1517.8 273.8 L1518.8 271.8 L1519.8 271.3 L1520.1 273.3 L1520.5 273.6 L1520.8 275.0 L1521.1 275.6 L1521.5 277.6 L1521.8 278.2 L1521.9 279.5 L1522.1 280.5 L1522.3 282.9 L1522.4 282.8 L1522.6 285.2 L1522.8 286.1 L1523.4 284.0 L1524.1 283.7 L1524.7 282.2 L1525.9 281.5 L1527.1 281.2 L1527.4 280.6 L1527.6 277.9 L1527.8 277.6 L1528.1 276.1 L1528.3 275.8 L1528.6 274.6 L1528.8 272.8 L1529.1 271.3 L1530.4 270.3 L1531.6 270.3 L1532.0 271.1 L1532.4 272.3 L1532.8 273.8 L1533.2 274.6 L1533.6 276.2 L1533.9 276.9 L1534.2 279.1 L1534.4 280.1 L1534.7 280.6 L1535.0 282.2 L1535.7 281.7 L1536.3 279.0 L1537.0 278.2 L1537.2 277.0 L1537.4 275.0 L1537.6 274.9 L1537.8 273.6 L1538.0 271.2 L1538.2 270.3 L1538.4 272.0 L1538.7 273.4 L1538.9 273.6 L1539.1 275.0 L1539.4 276.5 L1539.6 278.4 L1539.9 278.4 L1540.1 280.2 L1540.5 279.3 L1540.9 278.0 L1541.3 276.6 L1541.7 275.6 L1542.1 274.3 L1542.5 276.2 L1542.9 276.1 L1543.3 278.5 L1543.7 278.8 L1544.1 280.2 L1544.7 279.5 L1545.3 278.4 L1545.9 275.9 L1546.5 275.3 L1546.8 274.8 L1547.1 273.9 L1547.4 271.4 L1547.8 269.8 L1548.1 268.8 L1548.4 268.4 L1549.6 268.2 L1550.8 266.4 L1551.4 266.5 L1552.1 269.1 L1552.7 268.7 L1553.4 270.3 L1553.8 271.9 L1554.1 272.0 L1554.5 273.3 L1554.9 275.4 L1555.3 276.2 L1556.6 275.0 L1557.9 275.3 L1558.7 276.0 L1559.5 278.0 L1560.3 278.2 L1561.7 278.1 L1563.2 277.2 L1564.2 278.9 L1565.2 279.2 L1565.4 281.3 L1565.5 280.8 L1565.7 282.4 L1565.8 284.6 L1566.0 285.6 L1566.1 285.6 L1566.3 287.7 L1566.4 288.4 L1566.6 290.1 L1566.8 291.2 L1567.0 291.9 L1567.3 293.0 L1567.5 296.0 L1567.7 296.1 L1567.9 298.4 L1568.2 298.9 L1569.0 297.3 L1569.7 297.0 L1570.5 296.0 L1571.4 296.3 L1572.2 297.8 L1573.1 298.9 L1573.8 297.1 L1574.4 296.7 L1575.1 295.0 L1576.1 293.2 L1577.1 292.8 L1578.0 294.2 L1578.8 294.7 L1579.7 295.7 L1579.8 296.2 L1580.0 297.9 L1580.1 299.3 L1580.3 301.3 L1580.4 301.5 L1580.6 302.4 L1580.7 305.0 L1580.9 306.1 L1581.0 306.6 L1581.2 308.1 L1581.3 308.6 L1581.4 309.6 L1581.5 310.9 L1581.6 311.8 L1581.8 312.9 L1581.9 314.9 L1582.0 315.9 L1582.1 317.3 L1582.2 318.4 L1582.4 319.4 L1582.5 320.0 L1582.7 322.4 L1582.9 323.5 L1583.0 324.5 L1583.2 325.7 L1583.3 327.2 L1583.5 328.9 L1583.6 329.3 L1583.9 328.8 L1584.2 327.4 L1584.5 325.7 L1584.7 324.4 L1585.0 323.5 L1585.3 323.4 L1585.6 321.4 L1586.2 322.5 L1586.9 323.8 L1587.6 325.3 L1588.6 326.2 L1589.5 327.3 L1589.9 325.5 L1590.3 325.9 L1590.6 323.0 L1591.0 323.0 L1591.4 322.4 L1591.7 320.1 L1592.1 319.4 L1592.4 320.9 L1592.7 321.7 L1593.0 322.7 L1593.2 323.9 L1593.5 325.1 L1593.8 327.6 L1594.1 328.3 L1594.4 327.7 L1594.8 326.8 L1595.1 324.1 L1595.4 324.1 L1595.8 322.3 L1596.1 321.8 L1596.5 320.4 L1596.8 319.3 L1597.2 317.7 L1597.6 317.7 L1598.0 314.8 L1598.4 314.5 L1599.0 315.9 L1599.6 317.1 L1600.2 317.5 L1600.8 318.4 L1601.3 317.3 L1601.8 316.7 L1602.4 314.5 L1603.6 313.5 L1604.7 313.5 L1606.0 312.7 L1607.3 311.5 L1608.0 312.9 L1608.6 313.3 L1609.3 314.5 L1609.5 316.0 L1609.7 316.6 L1610.0 318.0 L1610.2 319.3 L1610.4 320.5 L1610.7 321.4 L1612.6 320.4 L1613.0 321.3 L1613.4 323.1 L1613.8 324.2 L1614.2 325.3 L1616.2 326.3 L1616.7 327.1 L1617.2 329.1 L1617.8 330.3 L1618.0 328.7 L1618.2 328.6 L1618.4 326.7 L1618.6 325.9 L1618.8 324.4 L1618.9 323.1 L1619.1 321.5 L1619.3 320.1 L1619.5 320.4 L1619.7 318.4 L1620.0 319.8 L1620.2 321.1 L1620.4 322.4 L1620.7 324.3 L1620.9 324.5 L1621.1 326.3 L1621.8 326.7 L1622.4 328.9 L1623.0 329.2 L1623.7 330.3 L1624.9 329.5 L1626.0 328.3 L1627.0 327.9 L1628.0 327.0 L1629.0 325.3 L1629.9 327.0 L1630.7 326.5 L1631.6 328.3 L1632.8 328.1 L1634.0 328.3 L1635.4 328.9 L1636.9 328.3 L1637.4 327.6 L1637.9 325.1 L1638.4 324.0 L1638.9 323.4 L1640.2 322.4 L1641.5 322.4 L1642.8 321.4 L1643.0 322.0 L1643.1 323.6 L1643.2 325.6 L1643.3 326.3 L1643.4 327.5 L1643.6 328.1 L1643.7 329.8 L1643.8 331.2 L1643.9 333.2 L1644.0 334.0 L1644.1 334.8 L1644.3 336.0 L1644.4 337.7 L1644.5 338.9 L1644.6 339.2 L1644.7 341.2 L1644.8 342.1 L1645.5 340.6 L1646.1 339.5 L1646.8 338.2 L1647.4 339.0 L1648.1 340.6 L1648.8 342.1 L1649.4 340.8 L1650.1 339.9 L1650.7 339.1 L1651.6 337.3 L1652.4 336.6 L1653.3 336.2 L1654.7 336.3 L1656.0 336.2 L1657.3 334.4 L1658.6 334.2 L1659.3 334.9 L1659.9 337.2 L1660.6 338.2 L1661.9 337.8 L1663.2 338.2 L1664.5 338.3 L1665.9 339.1" fill="none" stroke="#333" stroke-width="3.4" stroke-linejoin="round" stroke-linecap="round"/>
<!-- bear channel -->
<polygon points="559.2,643.6 1667.5,506.8 1672.4,540 563.8,677" fill="#f86c6c" fill-opacity="0.26"/>
<!-- annotations -->
<g stroke="#000" stroke-width="3.1" stroke-dasharray="0.01 5.99" stroke-linecap="round" fill="none">
<path d="M901.5 256.1 H1370"/>
<path d="M1364.4 263.6 V330"/>
<path d="M1179.6 672.4 H1666"/>
<path d="M1665.0 528.3 V666.8"/>
</g>
<text x="898" y="248.6" font-size="27" font-weight="bold" fill="#000" textLength="419.5" lengthAdjust="spacingAndGlyphs">Transactions quotidiennes : 320k</text>
<text x="1179.5" y="665" font-size="27" font-weight="bold" fill="#000" textLength="419" lengthAdjust="spacingAndGlyphs">Transactions quotidiennes : 212k</text>
<!-- footer -->
<text x="38" y="974.6" font-size="19" fill="#858585" textLength="379" lengthAdjust="spacingAndGlyphs">© 2023 Glassnode. All Rights Reserved.</text>
<g transform="translate(1540 925) scale(0.14444)" stroke="#000"><g fill="none" stroke-width="28" stroke-linecap="butt" stroke-linejoin="round">
<circle cx="290" cy="293" r="61"/><path d="M354 222 V350 A64 64 0 0 1 234.6 384"/>
<path d="M414 160 V365"/>
<circle cx="535" cy="293" r="61"/><path d="M594 222 V365"/>
<path d="M733 262 C728 243 712 233 690 233 C668 233 652 245 652 262 C652 280 668 287 690 293 C714 299 731 307 731 325 C731 343 714 354 690 354 C666 354 648 343 643 322"/>
<path transform="translate(120 0)" d="M733 262 C728 243 712 233 690 233 C668 233 652 245 652 262 C652 280 668 287 690 293 C714 299 731 307 731 325 C731 343 714 354 690 354 C666 354 648 343 643 322"/>
<path d="M899 365 V222 M899 285 A50 52 0 0 1 999 285 V365"/>
<circle cx="1115" cy="293" r="61"/>
<circle cx="1290" cy="293" r="61"/><path d="M1351.5 170 V365"/>
<path d="M1399 293 H1521 A61 61 0 1 0 1506.7 332.2"/>
</g></g>
</svg>
</body></html>
